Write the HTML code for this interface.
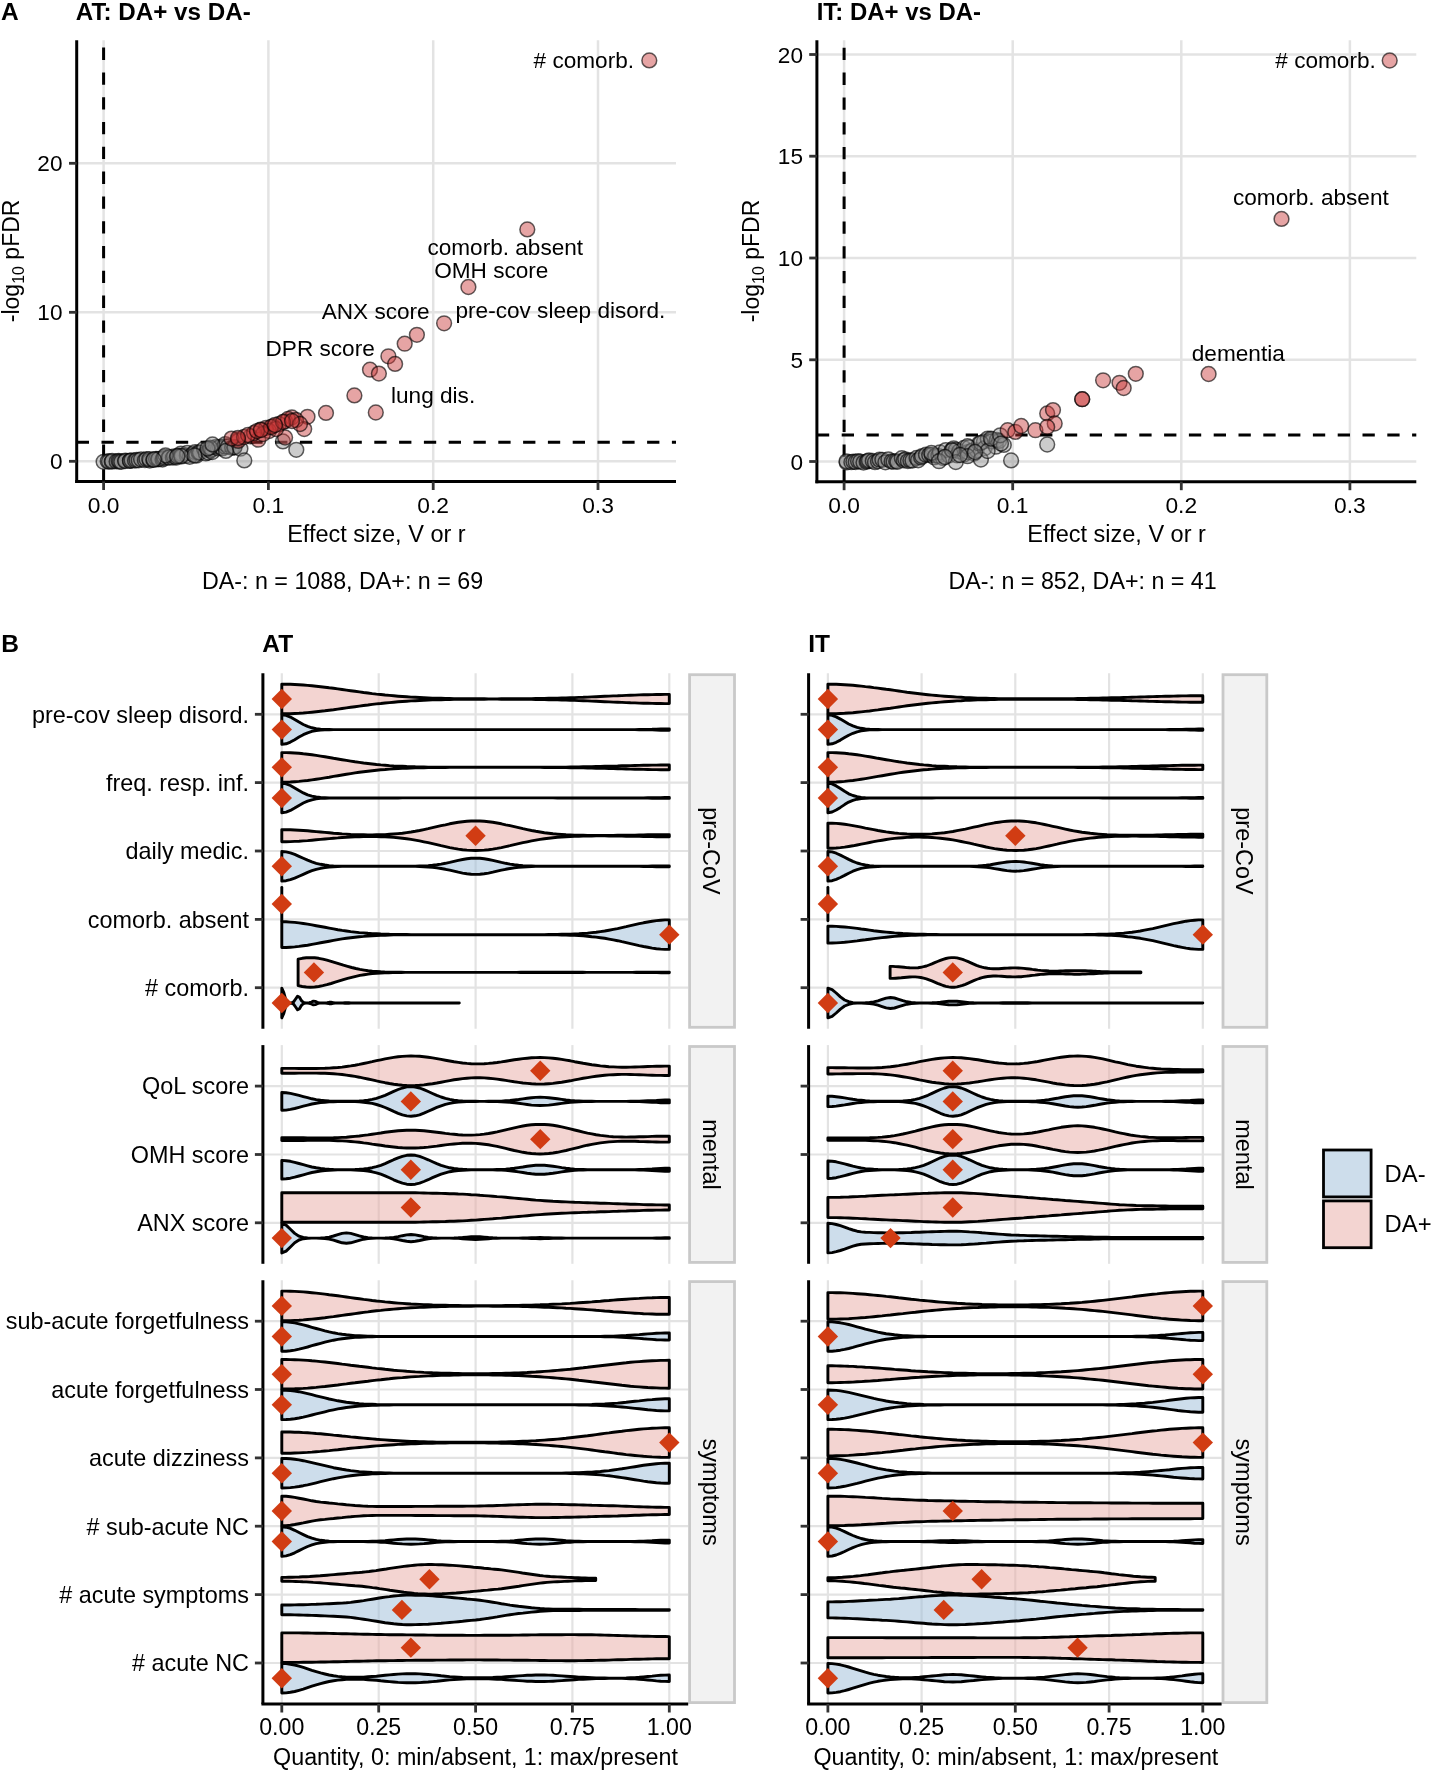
<!DOCTYPE html>
<html><head><meta charset="utf-8"><style>
html,body{margin:0;padding:0;background:#fff;width:1431px;height:1772px;overflow:hidden}
svg{display:block;will-change:transform}
text{font-family:"Liberation Sans", sans-serif;fill:#000}
</style></head><body>
<svg width="1431" height="1772" viewBox="0 0 1431 1772">
<rect width="1431" height="1772" fill="#fff"/>
<line x1="103.6" y1="40.3" x2="103.6" y2="481.5" stroke="#e3e3e3" stroke-width="2.5"/>
<line x1="268.4" y1="40.3" x2="268.4" y2="481.5" stroke="#e3e3e3" stroke-width="2.5"/>
<line x1="433.2" y1="40.3" x2="433.2" y2="481.5" stroke="#e3e3e3" stroke-width="2.5"/>
<line x1="598.0" y1="40.3" x2="598.0" y2="481.5" stroke="#e3e3e3" stroke-width="2.5"/>
<line x1="76.7" y1="461.3" x2="676" y2="461.3" stroke="#e3e3e3" stroke-width="2.4"/>
<line x1="76.7" y1="312.3" x2="676" y2="312.3" stroke="#e3e3e3" stroke-width="2.4"/>
<line x1="76.7" y1="163.3" x2="676" y2="163.3" stroke="#e3e3e3" stroke-width="2.4"/>
<line x1="103.6" y1="481.5" x2="103.6" y2="40.3" stroke="#000" stroke-width="3" stroke-dasharray="12.3 12.5"/>
<line x1="76.7" y1="442.3" x2="676" y2="442.3" stroke="#000" stroke-width="3" stroke-dasharray="12.3 12.5"/>
<circle cx="103.6" cy="461.8" r="7.4" fill="#8e8e8e" fill-opacity="0.45" stroke="#000" stroke-opacity="0.62" stroke-width="1.5"/>
<circle cx="107.7" cy="461.3" r="7.4" fill="#8e8e8e" fill-opacity="0.45" stroke="#000" stroke-opacity="0.62" stroke-width="1.5"/>
<circle cx="109.0" cy="461.5" r="7.4" fill="#8e8e8e" fill-opacity="0.45" stroke="#000" stroke-opacity="0.62" stroke-width="1.5"/>
<circle cx="111.7" cy="461.7" r="7.4" fill="#8e8e8e" fill-opacity="0.45" stroke="#000" stroke-opacity="0.62" stroke-width="1.5"/>
<circle cx="112.2" cy="461.0" r="7.4" fill="#8e8e8e" fill-opacity="0.45" stroke="#000" stroke-opacity="0.62" stroke-width="1.5"/>
<circle cx="116.6" cy="461.4" r="7.4" fill="#8e8e8e" fill-opacity="0.45" stroke="#000" stroke-opacity="0.62" stroke-width="1.5"/>
<circle cx="118.6" cy="460.9" r="7.4" fill="#8e8e8e" fill-opacity="0.45" stroke="#000" stroke-opacity="0.62" stroke-width="1.5"/>
<circle cx="119.8" cy="461.5" r="7.4" fill="#8e8e8e" fill-opacity="0.45" stroke="#000" stroke-opacity="0.62" stroke-width="1.5"/>
<circle cx="121.3" cy="461.8" r="7.4" fill="#8e8e8e" fill-opacity="0.45" stroke="#000" stroke-opacity="0.62" stroke-width="1.5"/>
<circle cx="125.5" cy="460.6" r="7.4" fill="#8e8e8e" fill-opacity="0.45" stroke="#000" stroke-opacity="0.62" stroke-width="1.5"/>
<circle cx="125.1" cy="461.1" r="7.4" fill="#8e8e8e" fill-opacity="0.45" stroke="#000" stroke-opacity="0.62" stroke-width="1.5"/>
<circle cx="130.0" cy="460.8" r="7.4" fill="#8e8e8e" fill-opacity="0.45" stroke="#000" stroke-opacity="0.62" stroke-width="1.5"/>
<circle cx="130.0" cy="460.8" r="7.4" fill="#8e8e8e" fill-opacity="0.45" stroke="#000" stroke-opacity="0.62" stroke-width="1.5"/>
<circle cx="131.6" cy="460.3" r="7.4" fill="#8e8e8e" fill-opacity="0.45" stroke="#000" stroke-opacity="0.62" stroke-width="1.5"/>
<circle cx="135.0" cy="460.6" r="7.4" fill="#8e8e8e" fill-opacity="0.45" stroke="#000" stroke-opacity="0.62" stroke-width="1.5"/>
<circle cx="136.6" cy="460.0" r="7.4" fill="#8e8e8e" fill-opacity="0.45" stroke="#000" stroke-opacity="0.62" stroke-width="1.5"/>
<circle cx="138.7" cy="460.3" r="7.4" fill="#8e8e8e" fill-opacity="0.45" stroke="#000" stroke-opacity="0.62" stroke-width="1.5"/>
<circle cx="141.1" cy="459.3" r="7.4" fill="#8e8e8e" fill-opacity="0.45" stroke="#000" stroke-opacity="0.62" stroke-width="1.5"/>
<circle cx="144.9" cy="460.2" r="7.4" fill="#8e8e8e" fill-opacity="0.45" stroke="#000" stroke-opacity="0.62" stroke-width="1.5"/>
<circle cx="146.5" cy="459.2" r="7.4" fill="#8e8e8e" fill-opacity="0.45" stroke="#000" stroke-opacity="0.62" stroke-width="1.5"/>
<circle cx="149.8" cy="460.6" r="7.4" fill="#8e8e8e" fill-opacity="0.45" stroke="#000" stroke-opacity="0.62" stroke-width="1.5"/>
<circle cx="149.3" cy="459.1" r="7.4" fill="#8e8e8e" fill-opacity="0.45" stroke="#000" stroke-opacity="0.62" stroke-width="1.5"/>
<circle cx="153.3" cy="459.9" r="7.4" fill="#8e8e8e" fill-opacity="0.45" stroke="#000" stroke-opacity="0.62" stroke-width="1.5"/>
<circle cx="156.1" cy="458.9" r="7.4" fill="#8e8e8e" fill-opacity="0.45" stroke="#000" stroke-opacity="0.62" stroke-width="1.5"/>
<circle cx="158.0" cy="459.4" r="7.4" fill="#8e8e8e" fill-opacity="0.45" stroke="#000" stroke-opacity="0.62" stroke-width="1.5"/>
<circle cx="158.6" cy="458.9" r="7.4" fill="#8e8e8e" fill-opacity="0.45" stroke="#000" stroke-opacity="0.62" stroke-width="1.5"/>
<circle cx="162.5" cy="459.5" r="7.4" fill="#8e8e8e" fill-opacity="0.45" stroke="#000" stroke-opacity="0.62" stroke-width="1.5"/>
<circle cx="163.6" cy="458.4" r="7.4" fill="#8e8e8e" fill-opacity="0.45" stroke="#000" stroke-opacity="0.62" stroke-width="1.5"/>
<circle cx="164.3" cy="457.0" r="7.4" fill="#8e8e8e" fill-opacity="0.45" stroke="#000" stroke-opacity="0.62" stroke-width="1.5"/>
<circle cx="168.8" cy="457.3" r="7.4" fill="#8e8e8e" fill-opacity="0.45" stroke="#000" stroke-opacity="0.62" stroke-width="1.5"/>
<circle cx="169.1" cy="457.5" r="7.4" fill="#8e8e8e" fill-opacity="0.45" stroke="#000" stroke-opacity="0.62" stroke-width="1.5"/>
<circle cx="172.9" cy="457.7" r="7.4" fill="#8e8e8e" fill-opacity="0.45" stroke="#000" stroke-opacity="0.62" stroke-width="1.5"/>
<circle cx="174.1" cy="456.5" r="7.4" fill="#8e8e8e" fill-opacity="0.45" stroke="#000" stroke-opacity="0.62" stroke-width="1.5"/>
<circle cx="176.6" cy="457.6" r="7.4" fill="#8e8e8e" fill-opacity="0.45" stroke="#000" stroke-opacity="0.62" stroke-width="1.5"/>
<circle cx="178.9" cy="455.6" r="7.4" fill="#8e8e8e" fill-opacity="0.45" stroke="#000" stroke-opacity="0.62" stroke-width="1.5"/>
<circle cx="180.9" cy="453.6" r="7.4" fill="#8e8e8e" fill-opacity="0.45" stroke="#000" stroke-opacity="0.62" stroke-width="1.5"/>
<circle cx="181.8" cy="456.4" r="7.4" fill="#8e8e8e" fill-opacity="0.45" stroke="#000" stroke-opacity="0.62" stroke-width="1.5"/>
<circle cx="186.8" cy="455.5" r="7.4" fill="#8e8e8e" fill-opacity="0.45" stroke="#000" stroke-opacity="0.62" stroke-width="1.5"/>
<circle cx="187.2" cy="453.0" r="7.4" fill="#8e8e8e" fill-opacity="0.45" stroke="#000" stroke-opacity="0.62" stroke-width="1.5"/>
<circle cx="189.7" cy="456.8" r="7.4" fill="#8e8e8e" fill-opacity="0.45" stroke="#000" stroke-opacity="0.62" stroke-width="1.5"/>
<circle cx="192.7" cy="454.1" r="7.4" fill="#8e8e8e" fill-opacity="0.45" stroke="#000" stroke-opacity="0.62" stroke-width="1.5"/>
<circle cx="195.1" cy="452.1" r="7.4" fill="#8e8e8e" fill-opacity="0.45" stroke="#000" stroke-opacity="0.62" stroke-width="1.5"/>
<circle cx="196.3" cy="455.7" r="7.4" fill="#8e8e8e" fill-opacity="0.45" stroke="#000" stroke-opacity="0.62" stroke-width="1.5"/>
<circle cx="198.6" cy="452.5" r="7.4" fill="#8e8e8e" fill-opacity="0.45" stroke="#000" stroke-opacity="0.62" stroke-width="1.5"/>
<circle cx="199.9" cy="452.6" r="7.4" fill="#8e8e8e" fill-opacity="0.45" stroke="#000" stroke-opacity="0.62" stroke-width="1.5"/>
<circle cx="204.1" cy="448.8" r="7.4" fill="#8e8e8e" fill-opacity="0.45" stroke="#000" stroke-opacity="0.62" stroke-width="1.5"/>
<circle cx="205.8" cy="453.4" r="7.4" fill="#8e8e8e" fill-opacity="0.45" stroke="#000" stroke-opacity="0.62" stroke-width="1.5"/>
<circle cx="208.3" cy="452.5" r="7.4" fill="#8e8e8e" fill-opacity="0.45" stroke="#000" stroke-opacity="0.62" stroke-width="1.5"/>
<circle cx="210.2" cy="450.6" r="7.4" fill="#8e8e8e" fill-opacity="0.45" stroke="#000" stroke-opacity="0.62" stroke-width="1.5"/>
<circle cx="211.7" cy="449.5" r="7.4" fill="#8e8e8e" fill-opacity="0.45" stroke="#000" stroke-opacity="0.62" stroke-width="1.5"/>
<circle cx="212.3" cy="452.1" r="7.4" fill="#8e8e8e" fill-opacity="0.45" stroke="#000" stroke-opacity="0.62" stroke-width="1.5"/>
<circle cx="216.1" cy="446.8" r="7.4" fill="#8e8e8e" fill-opacity="0.45" stroke="#000" stroke-opacity="0.62" stroke-width="1.5"/>
<circle cx="218.0" cy="448.4" r="7.4" fill="#8e8e8e" fill-opacity="0.45" stroke="#000" stroke-opacity="0.62" stroke-width="1.5"/>
<circle cx="219.8" cy="446.8" r="7.4" fill="#8e8e8e" fill-opacity="0.45" stroke="#000" stroke-opacity="0.62" stroke-width="1.5"/>
<circle cx="222.5" cy="448.4" r="7.4" fill="#8e8e8e" fill-opacity="0.45" stroke="#000" stroke-opacity="0.62" stroke-width="1.5"/>
<circle cx="224.9" cy="446.5" r="7.4" fill="#8e8e8e" fill-opacity="0.45" stroke="#000" stroke-opacity="0.62" stroke-width="1.5"/>
<circle cx="225.3" cy="444.1" r="7.4" fill="#8e8e8e" fill-opacity="0.45" stroke="#000" stroke-opacity="0.62" stroke-width="1.5"/>
<circle cx="228.0" cy="446.5" r="7.4" fill="#8e8e8e" fill-opacity="0.45" stroke="#000" stroke-opacity="0.62" stroke-width="1.5"/>
<circle cx="232.2" cy="447.8" r="7.4" fill="#8e8e8e" fill-opacity="0.45" stroke="#000" stroke-opacity="0.62" stroke-width="1.5"/>
<circle cx="234.2" cy="447.4" r="7.4" fill="#8e8e8e" fill-opacity="0.45" stroke="#000" stroke-opacity="0.62" stroke-width="1.5"/>
<circle cx="234.7" cy="447.1" r="7.4" fill="#8e8e8e" fill-opacity="0.45" stroke="#000" stroke-opacity="0.62" stroke-width="1.5"/>
<circle cx="238.2" cy="439.5" r="7.4" fill="#c83636" fill-opacity="0.45" stroke="#000" stroke-opacity="0.62" stroke-width="1.5"/>
<circle cx="181.1" cy="456.0" r="7.4" fill="#8e8e8e" fill-opacity="0.45" stroke="#000" stroke-opacity="0.62" stroke-width="1.5"/>
<circle cx="194.5" cy="455.4" r="7.4" fill="#8e8e8e" fill-opacity="0.45" stroke="#000" stroke-opacity="0.62" stroke-width="1.5"/>
<circle cx="210.2" cy="447.6" r="7.4" fill="#8e8e8e" fill-opacity="0.45" stroke="#000" stroke-opacity="0.62" stroke-width="1.5"/>
<circle cx="225.9" cy="450.9" r="7.4" fill="#8e8e8e" fill-opacity="0.45" stroke="#000" stroke-opacity="0.62" stroke-width="1.5"/>
<circle cx="240.4" cy="448.7" r="7.4" fill="#8e8e8e" fill-opacity="0.45" stroke="#000" stroke-opacity="0.62" stroke-width="1.5"/>
<circle cx="244.3" cy="460.4" r="7.4" fill="#8e8e8e" fill-opacity="0.45" stroke="#000" stroke-opacity="0.62" stroke-width="1.5"/>
<circle cx="296.3" cy="449.8" r="7.4" fill="#8e8e8e" fill-opacity="0.45" stroke="#000" stroke-opacity="0.62" stroke-width="1.5"/>
<circle cx="282.9" cy="441.4" r="7.4" fill="#8e8e8e" fill-opacity="0.45" stroke="#000" stroke-opacity="0.62" stroke-width="1.5"/>
<circle cx="207.5" cy="448.6" r="7.4" fill="#8e8e8e" fill-opacity="0.45" stroke="#000" stroke-opacity="0.62" stroke-width="1.5"/>
<circle cx="212.5" cy="444.4" r="7.4" fill="#8e8e8e" fill-opacity="0.45" stroke="#000" stroke-opacity="0.62" stroke-width="1.5"/>
<circle cx="165.5" cy="455.3" r="7.4" fill="#8e8e8e" fill-opacity="0.45" stroke="#000" stroke-opacity="0.62" stroke-width="1.5"/>
<circle cx="177.3" cy="456.2" r="7.4" fill="#8e8e8e" fill-opacity="0.45" stroke="#000" stroke-opacity="0.62" stroke-width="1.5"/>
<circle cx="153.8" cy="459.5" r="7.4" fill="#8e8e8e" fill-opacity="0.45" stroke="#000" stroke-opacity="0.62" stroke-width="1.5"/>
<circle cx="326.0" cy="412.9" r="7.4" fill="#c83636" fill-opacity="0.45" stroke="#000" stroke-opacity="0.62" stroke-width="1.5"/>
<circle cx="307.5" cy="416.8" r="7.4" fill="#c83636" fill-opacity="0.45" stroke="#000" stroke-opacity="0.62" stroke-width="1.5"/>
<circle cx="304.2" cy="429.1" r="7.4" fill="#c83636" fill-opacity="0.45" stroke="#000" stroke-opacity="0.62" stroke-width="1.5"/>
<circle cx="291.9" cy="417.4" r="7.4" fill="#c83636" fill-opacity="0.45" stroke="#000" stroke-opacity="0.62" stroke-width="1.5"/>
<circle cx="285.1" cy="421.3" r="7.4" fill="#c83636" fill-opacity="0.45" stroke="#000" stroke-opacity="0.62" stroke-width="1.5"/>
<circle cx="272.8" cy="426.3" r="7.4" fill="#c83636" fill-opacity="0.45" stroke="#000" stroke-opacity="0.62" stroke-width="1.5"/>
<circle cx="260.5" cy="429.7" r="7.4" fill="#c83636" fill-opacity="0.45" stroke="#000" stroke-opacity="0.62" stroke-width="1.5"/>
<circle cx="250.5" cy="436.4" r="7.4" fill="#c83636" fill-opacity="0.45" stroke="#000" stroke-opacity="0.62" stroke-width="1.5"/>
<circle cx="238.2" cy="440.9" r="7.4" fill="#c83636" fill-opacity="0.45" stroke="#000" stroke-opacity="0.62" stroke-width="1.5"/>
<circle cx="231.5" cy="438.6" r="7.4" fill="#c83636" fill-opacity="0.45" stroke="#000" stroke-opacity="0.62" stroke-width="1.5"/>
<circle cx="258.3" cy="439.7" r="7.4" fill="#c83636" fill-opacity="0.45" stroke="#000" stroke-opacity="0.62" stroke-width="1.5"/>
<circle cx="285.1" cy="437.5" r="7.4" fill="#c83636" fill-opacity="0.45" stroke="#000" stroke-opacity="0.62" stroke-width="1.5"/>
<circle cx="266.0" cy="428.0" r="7.4" fill="#c83636" fill-opacity="0.45" stroke="#000" stroke-opacity="0.62" stroke-width="1.5"/>
<circle cx="279.0" cy="424.0" r="7.4" fill="#c83636" fill-opacity="0.45" stroke="#000" stroke-opacity="0.62" stroke-width="1.5"/>
<circle cx="244.0" cy="437.0" r="7.4" fill="#c83636" fill-opacity="0.45" stroke="#000" stroke-opacity="0.62" stroke-width="1.5"/>
<circle cx="254.0" cy="433.0" r="7.4" fill="#c83636" fill-opacity="0.45" stroke="#000" stroke-opacity="0.62" stroke-width="1.5"/>
<circle cx="288.0" cy="419.0" r="7.4" fill="#c83636" fill-opacity="0.45" stroke="#000" stroke-opacity="0.62" stroke-width="1.5"/>
<circle cx="296.0" cy="420.0" r="7.4" fill="#c83636" fill-opacity="0.45" stroke="#000" stroke-opacity="0.62" stroke-width="1.5"/>
<circle cx="300.0" cy="424.0" r="7.4" fill="#c83636" fill-opacity="0.45" stroke="#000" stroke-opacity="0.62" stroke-width="1.5"/>
<circle cx="269.0" cy="431.0" r="7.4" fill="#c83636" fill-opacity="0.45" stroke="#000" stroke-opacity="0.62" stroke-width="1.5"/>
<circle cx="276.0" cy="429.0" r="7.4" fill="#c83636" fill-opacity="0.45" stroke="#000" stroke-opacity="0.62" stroke-width="1.5"/>
<circle cx="263.0" cy="434.0" r="7.4" fill="#c83636" fill-opacity="0.45" stroke="#000" stroke-opacity="0.62" stroke-width="1.5"/>
<circle cx="248.0" cy="435.0" r="7.4" fill="#c83636" fill-opacity="0.45" stroke="#000" stroke-opacity="0.62" stroke-width="1.5"/>
<circle cx="257.0" cy="431.0" r="7.4" fill="#c83636" fill-opacity="0.45" stroke="#000" stroke-opacity="0.62" stroke-width="1.5"/>
<circle cx="271.0" cy="427.0" r="7.4" fill="#c83636" fill-opacity="0.45" stroke="#000" stroke-opacity="0.62" stroke-width="1.5"/>
<circle cx="283.0" cy="422.0" r="7.4" fill="#c83636" fill-opacity="0.45" stroke="#000" stroke-opacity="0.62" stroke-width="1.5"/>
<circle cx="292.0" cy="421.0" r="7.4" fill="#c83636" fill-opacity="0.45" stroke="#000" stroke-opacity="0.62" stroke-width="1.5"/>
<circle cx="238.0" cy="438.0" r="7.4" fill="#c83636" fill-opacity="0.45" stroke="#000" stroke-opacity="0.62" stroke-width="1.5"/>
<circle cx="261.0" cy="430.0" r="7.4" fill="#c83636" fill-opacity="0.45" stroke="#000" stroke-opacity="0.62" stroke-width="1.5"/>
<circle cx="275.0" cy="425.0" r="7.4" fill="#c83636" fill-opacity="0.45" stroke="#000" stroke-opacity="0.62" stroke-width="1.5"/>
<circle cx="649.3" cy="60.4" r="7.4" fill="#c83636" fill-opacity="0.45" stroke="#000" stroke-opacity="0.62" stroke-width="1.5"/>
<circle cx="527.3" cy="229.4" r="7.4" fill="#c83636" fill-opacity="0.45" stroke="#000" stroke-opacity="0.62" stroke-width="1.5"/>
<circle cx="468.4" cy="287.0" r="7.4" fill="#c83636" fill-opacity="0.45" stroke="#000" stroke-opacity="0.62" stroke-width="1.5"/>
<circle cx="444.1" cy="323.3" r="7.4" fill="#c83636" fill-opacity="0.45" stroke="#000" stroke-opacity="0.62" stroke-width="1.5"/>
<circle cx="416.9" cy="334.8" r="7.4" fill="#c83636" fill-opacity="0.45" stroke="#000" stroke-opacity="0.62" stroke-width="1.5"/>
<circle cx="404.7" cy="343.7" r="7.4" fill="#c83636" fill-opacity="0.45" stroke="#000" stroke-opacity="0.62" stroke-width="1.5"/>
<circle cx="388.4" cy="356.3" r="7.4" fill="#c83636" fill-opacity="0.45" stroke="#000" stroke-opacity="0.62" stroke-width="1.5"/>
<circle cx="395.1" cy="363.9" r="7.4" fill="#c83636" fill-opacity="0.45" stroke="#000" stroke-opacity="0.62" stroke-width="1.5"/>
<circle cx="370.0" cy="369.7" r="7.4" fill="#c83636" fill-opacity="0.45" stroke="#000" stroke-opacity="0.62" stroke-width="1.5"/>
<circle cx="378.9" cy="373.6" r="7.4" fill="#c83636" fill-opacity="0.45" stroke="#000" stroke-opacity="0.62" stroke-width="1.5"/>
<circle cx="354.4" cy="395.4" r="7.4" fill="#c83636" fill-opacity="0.45" stroke="#000" stroke-opacity="0.62" stroke-width="1.5"/>
<circle cx="375.8" cy="412.5" r="7.4" fill="#c83636" fill-opacity="0.45" stroke="#000" stroke-opacity="0.62" stroke-width="1.5"/>
<text x="533.6" y="68.4" text-anchor="start" font-size="22.6" font-weight="normal" ># comorb.</text>
<text x="427.4" y="254.6" text-anchor="start" font-size="22.6" font-weight="normal" >comorb. absent</text>
<text x="434.2" y="278.0" text-anchor="start" font-size="22.6" font-weight="normal" >OMH score</text>
<text x="321.7" y="319.4" text-anchor="start" font-size="22.6" font-weight="normal" >ANX score</text>
<text x="455.5" y="317.5" text-anchor="start" font-size="22.6" font-weight="normal" >pre-cov sleep disord.</text>
<text x="265.5" y="356.3" text-anchor="start" font-size="22.6" font-weight="normal" >DPR score</text>
<text x="391.0" y="403.3" text-anchor="start" font-size="22.6" font-weight="normal" >lung dis.</text>
<line x1="76.7" y1="40.3" x2="76.7" y2="483.0" stroke="#000" stroke-width="3"/>
<line x1="75.2" y1="481.5" x2="676" y2="481.5" stroke="#000" stroke-width="3"/>
<line x1="69.0" y1="461.3" x2="76.7" y2="461.3" stroke="#333" stroke-width="2.8"/>
<text x="62.5" y="469.3" text-anchor="end" font-size="22.6" font-weight="normal" >0</text>
<line x1="69.0" y1="312.3" x2="76.7" y2="312.3" stroke="#333" stroke-width="2.8"/>
<text x="62.5" y="320.3" text-anchor="end" font-size="22.6" font-weight="normal" >10</text>
<line x1="69.0" y1="163.3" x2="76.7" y2="163.3" stroke="#333" stroke-width="2.8"/>
<text x="62.5" y="171.3" text-anchor="end" font-size="22.6" font-weight="normal" >20</text>
<line x1="103.6" y1="481.5" x2="103.6" y2="490.0" stroke="#333" stroke-width="2.8"/>
<text x="103.6" y="513.3" text-anchor="middle" font-size="22.8" font-weight="normal" >0.0</text>
<line x1="268.4" y1="481.5" x2="268.4" y2="490.0" stroke="#333" stroke-width="2.8"/>
<text x="268.4" y="513.3" text-anchor="middle" font-size="22.8" font-weight="normal" >0.1</text>
<line x1="433.2" y1="481.5" x2="433.2" y2="490.0" stroke="#333" stroke-width="2.8"/>
<text x="433.2" y="513.3" text-anchor="middle" font-size="22.8" font-weight="normal" >0.2</text>
<line x1="598.0" y1="481.5" x2="598.0" y2="490.0" stroke="#333" stroke-width="2.8"/>
<text x="598.0" y="513.3" text-anchor="middle" font-size="22.8" font-weight="normal" >0.3</text>
<text x="376.4" y="542.2" text-anchor="middle" font-size="23.5" font-weight="normal" >Effect size, V or r</text>
<text transform="translate(18.5,260.9) rotate(-90)" text-anchor="middle" font-size="23">-log<tspan font-size="16" dy="5">10</tspan><tspan dy="-5"> pFDR</tspan></text>
<text x="75.8" y="20.0" text-anchor="start" font-size="24.2" font-weight="bold" >AT: DA+ vs DA-</text>
<text x="202.0" y="588.9" text-anchor="start" font-size="23.25" font-weight="normal" >DA-: n = 1088, DA+: n = 69</text>
<line x1="844.1" y1="40.3" x2="844.1" y2="481.7" stroke="#e3e3e3" stroke-width="2.5"/>
<line x1="1012.7" y1="40.3" x2="1012.7" y2="481.7" stroke="#e3e3e3" stroke-width="2.5"/>
<line x1="1181.3" y1="40.3" x2="1181.3" y2="481.7" stroke="#e3e3e3" stroke-width="2.5"/>
<line x1="1349.9" y1="40.3" x2="1349.9" y2="481.7" stroke="#e3e3e3" stroke-width="2.5"/>
<line x1="816.9" y1="461.5" x2="1416.3" y2="461.5" stroke="#e3e3e3" stroke-width="2.4"/>
<line x1="816.9" y1="359.8" x2="1416.3" y2="359.8" stroke="#e3e3e3" stroke-width="2.4"/>
<line x1="816.9" y1="258.0" x2="1416.3" y2="258.0" stroke="#e3e3e3" stroke-width="2.4"/>
<line x1="816.9" y1="156.2" x2="1416.3" y2="156.2" stroke="#e3e3e3" stroke-width="2.4"/>
<line x1="816.9" y1="54.5" x2="1416.3" y2="54.5" stroke="#e3e3e3" stroke-width="2.4"/>
<line x1="844.1" y1="481.7" x2="844.1" y2="40.3" stroke="#000" stroke-width="3" stroke-dasharray="12.3 12.5"/>
<line x1="816.9" y1="435.0" x2="1416.3" y2="435.0" stroke="#000" stroke-width="3" stroke-dasharray="12.3 12.5"/>
<circle cx="846.7" cy="462.4" r="7.4" fill="#8e8e8e" fill-opacity="0.45" stroke="#000" stroke-opacity="0.62" stroke-width="1.5"/>
<circle cx="846.5" cy="461.3" r="7.4" fill="#8e8e8e" fill-opacity="0.45" stroke="#000" stroke-opacity="0.62" stroke-width="1.5"/>
<circle cx="851.4" cy="462.2" r="7.4" fill="#8e8e8e" fill-opacity="0.45" stroke="#000" stroke-opacity="0.62" stroke-width="1.5"/>
<circle cx="853.4" cy="461.6" r="7.4" fill="#8e8e8e" fill-opacity="0.45" stroke="#000" stroke-opacity="0.62" stroke-width="1.5"/>
<circle cx="855.7" cy="462.0" r="7.4" fill="#8e8e8e" fill-opacity="0.45" stroke="#000" stroke-opacity="0.62" stroke-width="1.5"/>
<circle cx="858.1" cy="461.2" r="7.4" fill="#8e8e8e" fill-opacity="0.45" stroke="#000" stroke-opacity="0.62" stroke-width="1.5"/>
<circle cx="860.2" cy="461.6" r="7.4" fill="#8e8e8e" fill-opacity="0.45" stroke="#000" stroke-opacity="0.62" stroke-width="1.5"/>
<circle cx="863.5" cy="462.6" r="7.4" fill="#8e8e8e" fill-opacity="0.45" stroke="#000" stroke-opacity="0.62" stroke-width="1.5"/>
<circle cx="866.7" cy="461.7" r="7.4" fill="#8e8e8e" fill-opacity="0.45" stroke="#000" stroke-opacity="0.62" stroke-width="1.5"/>
<circle cx="867.7" cy="461.1" r="7.4" fill="#8e8e8e" fill-opacity="0.45" stroke="#000" stroke-opacity="0.62" stroke-width="1.5"/>
<circle cx="869.0" cy="460.4" r="7.4" fill="#8e8e8e" fill-opacity="0.45" stroke="#000" stroke-opacity="0.62" stroke-width="1.5"/>
<circle cx="872.8" cy="460.9" r="7.4" fill="#8e8e8e" fill-opacity="0.45" stroke="#000" stroke-opacity="0.62" stroke-width="1.5"/>
<circle cx="875.0" cy="462.2" r="7.4" fill="#8e8e8e" fill-opacity="0.45" stroke="#000" stroke-opacity="0.62" stroke-width="1.5"/>
<circle cx="878.0" cy="461.3" r="7.4" fill="#8e8e8e" fill-opacity="0.45" stroke="#000" stroke-opacity="0.62" stroke-width="1.5"/>
<circle cx="879.6" cy="459.7" r="7.4" fill="#8e8e8e" fill-opacity="0.45" stroke="#000" stroke-opacity="0.62" stroke-width="1.5"/>
<circle cx="882.4" cy="459.8" r="7.4" fill="#8e8e8e" fill-opacity="0.45" stroke="#000" stroke-opacity="0.62" stroke-width="1.5"/>
<circle cx="885.4" cy="462.3" r="7.4" fill="#8e8e8e" fill-opacity="0.45" stroke="#000" stroke-opacity="0.62" stroke-width="1.5"/>
<circle cx="888.4" cy="459.5" r="7.4" fill="#8e8e8e" fill-opacity="0.45" stroke="#000" stroke-opacity="0.62" stroke-width="1.5"/>
<circle cx="891.6" cy="461.5" r="7.4" fill="#8e8e8e" fill-opacity="0.45" stroke="#000" stroke-opacity="0.62" stroke-width="1.5"/>
<circle cx="893.6" cy="461.7" r="7.4" fill="#8e8e8e" fill-opacity="0.45" stroke="#000" stroke-opacity="0.62" stroke-width="1.5"/>
<circle cx="896.2" cy="461.2" r="7.4" fill="#8e8e8e" fill-opacity="0.45" stroke="#000" stroke-opacity="0.62" stroke-width="1.5"/>
<circle cx="897.5" cy="461.8" r="7.4" fill="#8e8e8e" fill-opacity="0.45" stroke="#000" stroke-opacity="0.62" stroke-width="1.5"/>
<circle cx="901.8" cy="458.2" r="7.4" fill="#8e8e8e" fill-opacity="0.45" stroke="#000" stroke-opacity="0.62" stroke-width="1.5"/>
<circle cx="903.7" cy="460.4" r="7.4" fill="#8e8e8e" fill-opacity="0.45" stroke="#000" stroke-opacity="0.62" stroke-width="1.5"/>
<circle cx="905.3" cy="459.3" r="7.4" fill="#8e8e8e" fill-opacity="0.45" stroke="#000" stroke-opacity="0.62" stroke-width="1.5"/>
<circle cx="907.9" cy="461.0" r="7.4" fill="#8e8e8e" fill-opacity="0.45" stroke="#000" stroke-opacity="0.62" stroke-width="1.5"/>
<circle cx="910.4" cy="460.4" r="7.4" fill="#8e8e8e" fill-opacity="0.45" stroke="#000" stroke-opacity="0.62" stroke-width="1.5"/>
<circle cx="912.5" cy="460.5" r="7.4" fill="#8e8e8e" fill-opacity="0.45" stroke="#000" stroke-opacity="0.62" stroke-width="1.5"/>
<circle cx="916.6" cy="457.9" r="7.4" fill="#8e8e8e" fill-opacity="0.45" stroke="#000" stroke-opacity="0.62" stroke-width="1.5"/>
<circle cx="918.1" cy="460.3" r="7.4" fill="#8e8e8e" fill-opacity="0.45" stroke="#000" stroke-opacity="0.62" stroke-width="1.5"/>
<circle cx="921.1" cy="457.4" r="7.4" fill="#8e8e8e" fill-opacity="0.45" stroke="#000" stroke-opacity="0.62" stroke-width="1.5"/>
<circle cx="922.1" cy="456.1" r="7.4" fill="#8e8e8e" fill-opacity="0.45" stroke="#000" stroke-opacity="0.62" stroke-width="1.5"/>
<circle cx="926.0" cy="454.7" r="7.4" fill="#8e8e8e" fill-opacity="0.45" stroke="#000" stroke-opacity="0.62" stroke-width="1.5"/>
<circle cx="929.2" cy="454.9" r="7.4" fill="#8e8e8e" fill-opacity="0.45" stroke="#000" stroke-opacity="0.62" stroke-width="1.5"/>
<circle cx="931.7" cy="454.8" r="7.4" fill="#8e8e8e" fill-opacity="0.45" stroke="#000" stroke-opacity="0.62" stroke-width="1.5"/>
<circle cx="934.3" cy="457.4" r="7.4" fill="#8e8e8e" fill-opacity="0.45" stroke="#000" stroke-opacity="0.62" stroke-width="1.5"/>
<circle cx="935.5" cy="455.6" r="7.4" fill="#8e8e8e" fill-opacity="0.45" stroke="#000" stroke-opacity="0.62" stroke-width="1.5"/>
<circle cx="938.4" cy="455.8" r="7.4" fill="#8e8e8e" fill-opacity="0.45" stroke="#000" stroke-opacity="0.62" stroke-width="1.5"/>
<circle cx="939.9" cy="452.3" r="7.4" fill="#8e8e8e" fill-opacity="0.45" stroke="#000" stroke-opacity="0.62" stroke-width="1.5"/>
<circle cx="943.0" cy="458.0" r="7.4" fill="#8e8e8e" fill-opacity="0.45" stroke="#000" stroke-opacity="0.62" stroke-width="1.5"/>
<circle cx="945.8" cy="450.1" r="7.4" fill="#8e8e8e" fill-opacity="0.45" stroke="#000" stroke-opacity="0.62" stroke-width="1.5"/>
<circle cx="948.9" cy="455.5" r="7.4" fill="#8e8e8e" fill-opacity="0.45" stroke="#000" stroke-opacity="0.62" stroke-width="1.5"/>
<circle cx="951.7" cy="450.1" r="7.4" fill="#8e8e8e" fill-opacity="0.45" stroke="#000" stroke-opacity="0.62" stroke-width="1.5"/>
<circle cx="953.7" cy="448.3" r="7.4" fill="#8e8e8e" fill-opacity="0.45" stroke="#000" stroke-opacity="0.62" stroke-width="1.5"/>
<circle cx="955.9" cy="449.8" r="7.4" fill="#8e8e8e" fill-opacity="0.45" stroke="#000" stroke-opacity="0.62" stroke-width="1.5"/>
<circle cx="957.2" cy="455.4" r="7.4" fill="#8e8e8e" fill-opacity="0.45" stroke="#000" stroke-opacity="0.62" stroke-width="1.5"/>
<circle cx="959.3" cy="451.3" r="7.4" fill="#8e8e8e" fill-opacity="0.45" stroke="#000" stroke-opacity="0.62" stroke-width="1.5"/>
<circle cx="964.0" cy="447.9" r="7.4" fill="#8e8e8e" fill-opacity="0.45" stroke="#000" stroke-opacity="0.62" stroke-width="1.5"/>
<circle cx="964.6" cy="454.3" r="7.4" fill="#8e8e8e" fill-opacity="0.45" stroke="#000" stroke-opacity="0.62" stroke-width="1.5"/>
<circle cx="967.8" cy="452.1" r="7.4" fill="#8e8e8e" fill-opacity="0.45" stroke="#000" stroke-opacity="0.62" stroke-width="1.5"/>
<circle cx="969.1" cy="447.4" r="7.4" fill="#8e8e8e" fill-opacity="0.45" stroke="#000" stroke-opacity="0.62" stroke-width="1.5"/>
<circle cx="972.0" cy="450.6" r="7.4" fill="#8e8e8e" fill-opacity="0.45" stroke="#000" stroke-opacity="0.62" stroke-width="1.5"/>
<circle cx="974.2" cy="453.6" r="7.4" fill="#8e8e8e" fill-opacity="0.45" stroke="#000" stroke-opacity="0.62" stroke-width="1.5"/>
<circle cx="976.6" cy="450.3" r="7.4" fill="#8e8e8e" fill-opacity="0.45" stroke="#000" stroke-opacity="0.62" stroke-width="1.5"/>
<circle cx="979.1" cy="443.6" r="7.4" fill="#8e8e8e" fill-opacity="0.45" stroke="#000" stroke-opacity="0.62" stroke-width="1.5"/>
<circle cx="983.9" cy="441.6" r="7.4" fill="#8e8e8e" fill-opacity="0.45" stroke="#000" stroke-opacity="0.62" stroke-width="1.5"/>
<circle cx="984.6" cy="448.2" r="7.4" fill="#8e8e8e" fill-opacity="0.45" stroke="#000" stroke-opacity="0.62" stroke-width="1.5"/>
<circle cx="987.7" cy="438.6" r="7.4" fill="#8e8e8e" fill-opacity="0.45" stroke="#000" stroke-opacity="0.62" stroke-width="1.5"/>
<circle cx="992.0" cy="439.4" r="7.4" fill="#8e8e8e" fill-opacity="0.45" stroke="#000" stroke-opacity="0.62" stroke-width="1.5"/>
<circle cx="991.6" cy="441.4" r="7.4" fill="#8e8e8e" fill-opacity="0.45" stroke="#000" stroke-opacity="0.62" stroke-width="1.5"/>
<circle cx="995.9" cy="446.7" r="7.4" fill="#8e8e8e" fill-opacity="0.45" stroke="#000" stroke-opacity="0.62" stroke-width="1.5"/>
<circle cx="996.9" cy="439.9" r="7.4" fill="#8e8e8e" fill-opacity="0.45" stroke="#000" stroke-opacity="0.62" stroke-width="1.5"/>
<circle cx="999.1" cy="440.9" r="7.4" fill="#8e8e8e" fill-opacity="0.45" stroke="#000" stroke-opacity="0.62" stroke-width="1.5"/>
<circle cx="1003.8" cy="444.9" r="7.4" fill="#8e8e8e" fill-opacity="0.45" stroke="#000" stroke-opacity="0.62" stroke-width="1.5"/>
<circle cx="931.4" cy="452.9" r="7.4" fill="#8e8e8e" fill-opacity="0.45" stroke="#000" stroke-opacity="0.62" stroke-width="1.5"/>
<circle cx="939.0" cy="461.2" r="7.4" fill="#8e8e8e" fill-opacity="0.45" stroke="#000" stroke-opacity="0.62" stroke-width="1.5"/>
<circle cx="952.4" cy="450.3" r="7.4" fill="#8e8e8e" fill-opacity="0.45" stroke="#000" stroke-opacity="0.62" stroke-width="1.5"/>
<circle cx="955.8" cy="462.1" r="7.4" fill="#8e8e8e" fill-opacity="0.45" stroke="#000" stroke-opacity="0.62" stroke-width="1.5"/>
<circle cx="967.5" cy="446.2" r="7.4" fill="#8e8e8e" fill-opacity="0.45" stroke="#000" stroke-opacity="0.62" stroke-width="1.5"/>
<circle cx="967.5" cy="456.2" r="7.4" fill="#8e8e8e" fill-opacity="0.45" stroke="#000" stroke-opacity="0.62" stroke-width="1.5"/>
<circle cx="980.9" cy="442.8" r="7.4" fill="#8e8e8e" fill-opacity="0.45" stroke="#000" stroke-opacity="0.62" stroke-width="1.5"/>
<circle cx="980.9" cy="459.6" r="7.4" fill="#8e8e8e" fill-opacity="0.45" stroke="#000" stroke-opacity="0.62" stroke-width="1.5"/>
<circle cx="987.6" cy="451.0" r="7.4" fill="#8e8e8e" fill-opacity="0.45" stroke="#000" stroke-opacity="0.62" stroke-width="1.5"/>
<circle cx="991.0" cy="438.6" r="7.4" fill="#8e8e8e" fill-opacity="0.45" stroke="#000" stroke-opacity="0.62" stroke-width="1.5"/>
<circle cx="1000.2" cy="435.3" r="7.4" fill="#8e8e8e" fill-opacity="0.45" stroke="#000" stroke-opacity="0.62" stroke-width="1.5"/>
<circle cx="1001.0" cy="443.6" r="7.4" fill="#8e8e8e" fill-opacity="0.45" stroke="#000" stroke-opacity="0.62" stroke-width="1.5"/>
<circle cx="1011.1" cy="460.4" r="7.4" fill="#8e8e8e" fill-opacity="0.45" stroke="#000" stroke-opacity="0.62" stroke-width="1.5"/>
<circle cx="1047.2" cy="444.5" r="7.4" fill="#8e8e8e" fill-opacity="0.45" stroke="#000" stroke-opacity="0.62" stroke-width="1.5"/>
<circle cx="960.0" cy="455.0" r="7.4" fill="#8e8e8e" fill-opacity="0.45" stroke="#000" stroke-opacity="0.62" stroke-width="1.5"/>
<circle cx="975.0" cy="452.0" r="7.4" fill="#8e8e8e" fill-opacity="0.45" stroke="#000" stroke-opacity="0.62" stroke-width="1.5"/>
<circle cx="945.0" cy="457.0" r="7.4" fill="#8e8e8e" fill-opacity="0.45" stroke="#000" stroke-opacity="0.62" stroke-width="1.5"/>
<circle cx="1007.7" cy="430.2" r="7.4" fill="#c83636" fill-opacity="0.45" stroke="#000" stroke-opacity="0.62" stroke-width="1.5"/>
<circle cx="1015.3" cy="431.9" r="7.4" fill="#c83636" fill-opacity="0.45" stroke="#000" stroke-opacity="0.62" stroke-width="1.5"/>
<circle cx="1021.2" cy="426.0" r="7.4" fill="#c83636" fill-opacity="0.45" stroke="#000" stroke-opacity="0.62" stroke-width="1.5"/>
<circle cx="1035.4" cy="430.2" r="7.4" fill="#c83636" fill-opacity="0.45" stroke="#000" stroke-opacity="0.62" stroke-width="1.5"/>
<circle cx="1047.2" cy="413.4" r="7.4" fill="#c83636" fill-opacity="0.45" stroke="#000" stroke-opacity="0.62" stroke-width="1.5"/>
<circle cx="1053.0" cy="410.1" r="7.4" fill="#c83636" fill-opacity="0.45" stroke="#000" stroke-opacity="0.62" stroke-width="1.5"/>
<circle cx="1054.7" cy="423.5" r="7.4" fill="#c83636" fill-opacity="0.45" stroke="#000" stroke-opacity="0.62" stroke-width="1.5"/>
<circle cx="1047.2" cy="426.9" r="7.4" fill="#c83636" fill-opacity="0.45" stroke="#000" stroke-opacity="0.62" stroke-width="1.5"/>
<circle cx="1082.2" cy="399.2" r="7.4" fill="#c83636" fill-opacity="0.45" stroke="#000" stroke-opacity="0.62" stroke-width="1.5"/>
<circle cx="1082.2" cy="399.2" r="7.4" fill="#c83636" fill-opacity="0.45" stroke="#000" stroke-opacity="0.62" stroke-width="1.5"/>
<circle cx="1103.1" cy="380.3" r="7.4" fill="#c83636" fill-opacity="0.45" stroke="#000" stroke-opacity="0.62" stroke-width="1.5"/>
<circle cx="1119.5" cy="382.8" r="7.4" fill="#c83636" fill-opacity="0.45" stroke="#000" stroke-opacity="0.62" stroke-width="1.5"/>
<circle cx="1123.7" cy="388.0" r="7.4" fill="#c83636" fill-opacity="0.45" stroke="#000" stroke-opacity="0.62" stroke-width="1.5"/>
<circle cx="1135.8" cy="373.8" r="7.4" fill="#c83636" fill-opacity="0.45" stroke="#000" stroke-opacity="0.62" stroke-width="1.5"/>
<circle cx="1208.6" cy="374.0" r="7.4" fill="#c83636" fill-opacity="0.45" stroke="#000" stroke-opacity="0.62" stroke-width="1.5"/>
<circle cx="1281.5" cy="218.9" r="7.4" fill="#c83636" fill-opacity="0.45" stroke="#000" stroke-opacity="0.62" stroke-width="1.5"/>
<circle cx="1389.7" cy="60.5" r="7.4" fill="#c83636" fill-opacity="0.45" stroke="#000" stroke-opacity="0.62" stroke-width="1.5"/>
<text x="1275.3" y="67.7" text-anchor="start" font-size="22.6" font-weight="normal" ># comorb.</text>
<text x="1233.0" y="205.2" text-anchor="start" font-size="22.6" font-weight="normal" >comorb. absent</text>
<text x="1191.8" y="360.8" text-anchor="start" font-size="22.6" font-weight="normal" >dementia</text>
<line x1="816.9" y1="40.3" x2="816.9" y2="483.2" stroke="#000" stroke-width="3"/>
<line x1="815.4" y1="481.7" x2="1416.3" y2="481.7" stroke="#000" stroke-width="3"/>
<line x1="809.1999999999999" y1="461.5" x2="816.9" y2="461.5" stroke="#333" stroke-width="2.8"/>
<text x="803.0" y="469.5" text-anchor="end" font-size="22.6" font-weight="normal" >0</text>
<line x1="809.1999999999999" y1="359.8" x2="816.9" y2="359.8" stroke="#333" stroke-width="2.8"/>
<text x="803.0" y="367.8" text-anchor="end" font-size="22.6" font-weight="normal" >5</text>
<line x1="809.1999999999999" y1="258.0" x2="816.9" y2="258.0" stroke="#333" stroke-width="2.8"/>
<text x="803.0" y="266.0" text-anchor="end" font-size="22.6" font-weight="normal" >10</text>
<line x1="809.1999999999999" y1="156.2" x2="816.9" y2="156.2" stroke="#333" stroke-width="2.8"/>
<text x="803.0" y="164.2" text-anchor="end" font-size="22.6" font-weight="normal" >15</text>
<line x1="809.1999999999999" y1="54.5" x2="816.9" y2="54.5" stroke="#333" stroke-width="2.8"/>
<text x="803.0" y="62.5" text-anchor="end" font-size="22.6" font-weight="normal" >20</text>
<line x1="844.1" y1="481.7" x2="844.1" y2="490.2" stroke="#333" stroke-width="2.8"/>
<text x="844.1" y="513.3" text-anchor="middle" font-size="22.8" font-weight="normal" >0.0</text>
<line x1="1012.7" y1="481.7" x2="1012.7" y2="490.2" stroke="#333" stroke-width="2.8"/>
<text x="1012.7" y="513.3" text-anchor="middle" font-size="22.8" font-weight="normal" >0.1</text>
<line x1="1181.3" y1="481.7" x2="1181.3" y2="490.2" stroke="#333" stroke-width="2.8"/>
<text x="1181.3" y="513.3" text-anchor="middle" font-size="22.8" font-weight="normal" >0.2</text>
<line x1="1349.9" y1="481.7" x2="1349.9" y2="490.2" stroke="#333" stroke-width="2.8"/>
<text x="1349.9" y="513.3" text-anchor="middle" font-size="22.8" font-weight="normal" >0.3</text>
<text x="1116.6" y="542.2" text-anchor="middle" font-size="23.5" font-weight="normal" >Effect size, V or r</text>
<text transform="translate(759,261.0) rotate(-90)" text-anchor="middle" font-size="23">-log<tspan font-size="16" dy="5">10</tspan><tspan dy="-5"> pFDR</tspan></text>
<text x="816.7" y="20.0" text-anchor="start" font-size="23.95" font-weight="bold" >IT: DA+ vs DA-</text>
<text x="948.5" y="588.9" text-anchor="start" font-size="23.25" font-weight="normal" >DA-: n = 852, DA+: n = 41</text>
<text x="1.0" y="20.0" text-anchor="start" font-size="24.5" font-weight="bold" >A</text>
<line x1="281.8" y1="673.3" x2="281.8" y2="1028.7" stroke="#e3e3e3" stroke-width="2.2"/>
<line x1="378.7" y1="673.3" x2="378.7" y2="1028.7" stroke="#e3e3e3" stroke-width="2.2"/>
<line x1="475.6" y1="673.3" x2="475.6" y2="1028.7" stroke="#e3e3e3" stroke-width="2.2"/>
<line x1="572.4" y1="673.3" x2="572.4" y2="1028.7" stroke="#e3e3e3" stroke-width="2.2"/>
<line x1="669.3" y1="673.3" x2="669.3" y2="1028.7" stroke="#e3e3e3" stroke-width="2.2"/>
<line x1="262.9" y1="714.3" x2="688.2" y2="714.3" stroke="#e3e3e3" stroke-width="2.2"/>
<line x1="262.9" y1="782.6" x2="688.2" y2="782.6" stroke="#e3e3e3" stroke-width="2.2"/>
<line x1="262.9" y1="851.0" x2="688.2" y2="851.0" stroke="#e3e3e3" stroke-width="2.2"/>
<line x1="262.9" y1="919.4" x2="688.2" y2="919.4" stroke="#e3e3e3" stroke-width="2.2"/>
<line x1="262.9" y1="987.7" x2="688.2" y2="987.7" stroke="#e3e3e3" stroke-width="2.2"/>
<line x1="281.8" y1="1045.1" x2="281.8" y2="1263.8" stroke="#e3e3e3" stroke-width="2.2"/>
<line x1="378.7" y1="1045.1" x2="378.7" y2="1263.8" stroke="#e3e3e3" stroke-width="2.2"/>
<line x1="475.6" y1="1045.1" x2="475.6" y2="1263.8" stroke="#e3e3e3" stroke-width="2.2"/>
<line x1="572.4" y1="1045.1" x2="572.4" y2="1263.8" stroke="#e3e3e3" stroke-width="2.2"/>
<line x1="669.3" y1="1045.1" x2="669.3" y2="1263.8" stroke="#e3e3e3" stroke-width="2.2"/>
<line x1="262.9" y1="1086.1" x2="688.2" y2="1086.1" stroke="#e3e3e3" stroke-width="2.2"/>
<line x1="262.9" y1="1154.5" x2="688.2" y2="1154.5" stroke="#e3e3e3" stroke-width="2.2"/>
<line x1="262.9" y1="1222.8" x2="688.2" y2="1222.8" stroke="#e3e3e3" stroke-width="2.2"/>
<line x1="281.8" y1="1280.2" x2="281.8" y2="1704.0" stroke="#e3e3e3" stroke-width="2.2"/>
<line x1="378.7" y1="1280.2" x2="378.7" y2="1704.0" stroke="#e3e3e3" stroke-width="2.2"/>
<line x1="475.6" y1="1280.2" x2="475.6" y2="1704.0" stroke="#e3e3e3" stroke-width="2.2"/>
<line x1="572.4" y1="1280.2" x2="572.4" y2="1704.0" stroke="#e3e3e3" stroke-width="2.2"/>
<line x1="669.3" y1="1280.2" x2="669.3" y2="1704.0" stroke="#e3e3e3" stroke-width="2.2"/>
<line x1="262.9" y1="1321.2" x2="688.2" y2="1321.2" stroke="#e3e3e3" stroke-width="2.2"/>
<line x1="262.9" y1="1389.5" x2="688.2" y2="1389.5" stroke="#e3e3e3" stroke-width="2.2"/>
<line x1="262.9" y1="1457.9" x2="688.2" y2="1457.9" stroke="#e3e3e3" stroke-width="2.2"/>
<line x1="262.9" y1="1526.2" x2="688.2" y2="1526.2" stroke="#e3e3e3" stroke-width="2.2"/>
<line x1="262.9" y1="1594.6" x2="688.2" y2="1594.6" stroke="#e3e3e3" stroke-width="2.2"/>
<line x1="262.9" y1="1663.0" x2="688.2" y2="1663.0" stroke="#e3e3e3" stroke-width="2.2"/>
<path d="M281.8,684.2 L286.1,684.2 L290.4,684.3 L294.7,684.5 L299.0,684.7 L303.3,685.0 L307.6,685.4 L311.9,685.8 L316.2,686.2 L320.6,686.7 L324.9,687.2 L329.2,687.8 L333.5,688.3 L337.8,688.9 L342.1,689.5 L346.4,690.1 L350.7,690.7 L355.0,691.3 L359.3,691.9 L363.6,692.5 L367.9,693.0 L372.2,693.6 L376.5,694.1 L380.8,694.5 L385.1,695.0 L389.4,695.4 L393.7,695.8 L398.1,696.2 L402.4,696.5 L406.7,696.8 L411.0,697.1 L415.3,697.3 L419.6,697.5 L423.9,697.7 L428.2,697.9 L432.5,698.1 L436.8,698.2 L441.1,698.3 L445.4,698.4 L449.7,698.5 L454.0,698.6 L458.3,698.7 L462.6,698.7 L466.9,698.8 L471.2,698.8 L475.6,698.8 L479.9,698.8 L484.2,698.8 L488.5,698.9 L492.8,698.9 L497.1,698.9 L501.4,698.8 L505.7,698.8 L510.0,698.8 L514.3,698.8 L518.6,698.7 L522.9,698.7 L527.2,698.7 L531.5,698.6 L535.8,698.5 L540.1,698.5 L544.4,698.4 L548.7,698.3 L553.0,698.2 L557.4,698.1 L561.7,698.0 L566.0,697.9 L570.3,697.7 L574.6,697.6 L578.9,697.4 L583.2,697.3 L587.5,697.1 L591.8,696.9 L596.1,696.7 L600.4,696.5 L604.7,696.3 L609.0,696.1 L613.3,695.9 L617.6,695.8 L621.9,695.6 L626.2,695.4 L630.5,695.2 L634.9,695.1 L639.2,694.9 L643.5,694.8 L647.8,694.7 L652.1,694.6 L656.4,694.5 L660.7,694.5 L665.0,694.4 L669.3,694.4 L669.3,703.6 L665.0,703.6 L660.7,703.5 L656.4,703.5 L652.1,703.4 L647.8,703.3 L643.5,703.2 L639.2,703.1 L634.9,702.9 L630.5,702.8 L626.2,702.6 L621.9,702.4 L617.6,702.2 L613.3,702.1 L609.0,701.9 L604.7,701.7 L600.4,701.5 L596.1,701.3 L591.8,701.1 L587.5,700.9 L583.2,700.7 L578.9,700.6 L574.6,700.4 L570.3,700.3 L566.0,700.1 L561.7,700.0 L557.4,699.9 L553.0,699.8 L548.7,699.7 L544.4,699.6 L540.1,699.5 L535.8,699.5 L531.5,699.4 L527.2,699.3 L522.9,699.3 L518.6,699.3 L514.3,699.2 L510.0,699.2 L505.7,699.2 L501.4,699.2 L497.1,699.1 L492.8,699.1 L488.5,699.1 L484.2,699.2 L479.9,699.2 L475.6,699.2 L471.2,699.2 L466.9,699.2 L462.6,699.3 L458.3,699.3 L454.0,699.4 L449.7,699.5 L445.4,699.6 L441.1,699.7 L436.8,699.8 L432.5,699.9 L428.2,700.1 L423.9,700.3 L419.6,700.5 L415.3,700.7 L411.0,700.9 L406.7,701.2 L402.4,701.5 L398.1,701.8 L393.7,702.2 L389.4,702.6 L385.1,703.0 L380.8,703.5 L376.5,703.9 L372.2,704.4 L367.9,705.0 L363.6,705.5 L359.3,706.1 L355.0,706.7 L350.7,707.3 L346.4,707.9 L342.1,708.5 L337.8,709.1 L333.5,709.7 L329.2,710.2 L324.9,710.8 L320.6,711.3 L316.2,711.8 L311.9,712.2 L307.6,712.6 L303.3,713.0 L299.0,713.3 L294.7,713.5 L290.4,713.7 L286.1,713.8 L281.8,713.8 Z" fill="#e8a9a3" fill-opacity="0.5" stroke="#000" stroke-width="2.9" stroke-linejoin="round"/>
<path d="M281.8,714.8 L286.1,715.4 L290.4,717.1 L294.7,719.5 L299.0,722.1 L303.3,724.5 L307.6,726.4 L311.9,727.8 L316.2,728.6 L320.6,729.1 L324.9,729.4 L329.2,729.5 L333.5,729.6 L337.8,729.6 L342.1,729.6 L346.4,729.6 L350.7,729.6 L355.0,729.6 L359.3,729.6 L363.6,729.6 L367.9,729.6 L372.2,729.6 L376.5,729.6 L380.8,729.6 L385.1,729.6 L389.4,729.6 L393.7,729.6 L398.1,729.6 L402.4,729.6 L406.7,729.6 L411.0,729.6 L415.3,729.6 L419.6,729.6 L423.9,729.6 L428.2,729.6 L432.5,729.6 L436.8,729.6 L441.1,729.6 L445.4,729.6 L449.7,729.6 L454.0,729.6 L458.3,729.6 L462.6,729.6 L466.9,729.6 L471.2,729.6 L475.6,729.6 L479.9,729.6 L484.2,729.6 L488.5,729.6 L492.8,729.6 L497.1,729.6 L501.4,729.6 L505.7,729.6 L510.0,729.6 L514.3,729.6 L518.6,729.6 L522.9,729.6 L527.2,729.6 L531.5,729.6 L535.8,729.6 L540.1,729.6 L544.4,729.6 L548.7,729.6 L553.0,729.6 L557.4,729.6 L561.7,729.6 L566.0,729.6 L570.3,729.6 L574.6,729.6 L578.9,729.6 L583.2,729.6 L587.5,729.6 L591.8,729.6 L596.1,729.6 L600.4,729.6 L604.7,729.6 L609.0,729.6 L613.3,729.6 L617.6,729.6 L621.9,729.6 L626.2,729.6 L630.5,729.6 L634.9,729.6 L639.2,729.5 L643.5,729.5 L647.8,729.4 L652.1,729.3 L656.4,729.1 L660.7,729.0 L665.0,729.0 L669.3,728.9 L669.3,730.3 L665.0,730.2 L660.7,730.2 L656.4,730.1 L652.1,729.9 L647.8,729.8 L643.5,729.7 L639.2,729.7 L634.9,729.6 L630.5,729.6 L626.2,729.6 L621.9,729.6 L617.6,729.6 L613.3,729.6 L609.0,729.6 L604.7,729.6 L600.4,729.6 L596.1,729.6 L591.8,729.6 L587.5,729.6 L583.2,729.6 L578.9,729.6 L574.6,729.6 L570.3,729.6 L566.0,729.6 L561.7,729.6 L557.4,729.6 L553.0,729.6 L548.7,729.6 L544.4,729.6 L540.1,729.6 L535.8,729.6 L531.5,729.6 L527.2,729.6 L522.9,729.6 L518.6,729.6 L514.3,729.6 L510.0,729.6 L505.7,729.6 L501.4,729.6 L497.1,729.6 L492.8,729.6 L488.5,729.6 L484.2,729.6 L479.9,729.6 L475.6,729.6 L471.2,729.6 L466.9,729.6 L462.6,729.6 L458.3,729.6 L454.0,729.6 L449.7,729.6 L445.4,729.6 L441.1,729.6 L436.8,729.6 L432.5,729.6 L428.2,729.6 L423.9,729.6 L419.6,729.6 L415.3,729.6 L411.0,729.6 L406.7,729.6 L402.4,729.6 L398.1,729.6 L393.7,729.6 L389.4,729.6 L385.1,729.6 L380.8,729.6 L376.5,729.6 L372.2,729.6 L367.9,729.6 L363.6,729.6 L359.3,729.6 L355.0,729.6 L350.7,729.6 L346.4,729.6 L342.1,729.6 L337.8,729.6 L333.5,729.6 L329.2,729.7 L324.9,729.8 L320.6,730.1 L316.2,730.6 L311.9,731.4 L307.6,732.8 L303.3,734.7 L299.0,737.1 L294.7,739.7 L290.4,742.1 L286.1,743.8 L281.8,744.4 Z" fill="#9cbcd8" fill-opacity="0.5" stroke="#000" stroke-width="2.9" stroke-linejoin="round"/>
<path d="M281.80,688.80 L292.00,699.00 L281.80,709.20 L271.60,699.00 Z" fill="#d13c13"/>
<path d="M281.80,719.40 L292.00,729.60 L281.80,739.80 L271.60,729.60 Z" fill="#d13c13"/>
<path d="M281.8,752.6 L286.1,752.6 L290.4,752.7 L294.7,753.0 L299.0,753.3 L303.3,753.8 L307.6,754.2 L311.9,754.8 L316.2,755.4 L320.6,756.1 L324.9,756.8 L329.2,757.5 L333.5,758.3 L337.8,759.0 L342.1,759.7 L346.4,760.4 L350.7,761.1 L355.0,761.8 L359.3,762.4 L363.6,763.0 L367.9,763.5 L372.2,764.0 L376.5,764.5 L380.8,764.9 L385.1,765.2 L389.4,765.6 L393.7,765.9 L398.1,766.1 L402.4,766.3 L406.7,766.5 L411.0,766.6 L415.3,766.8 L419.6,766.9 L423.9,767.0 L428.2,767.1 L432.5,767.1 L436.8,767.2 L441.1,767.2 L445.4,767.2 L449.7,767.3 L454.0,767.3 L458.3,767.3 L462.6,767.3 L466.9,767.3 L471.2,767.3 L475.6,767.3 L479.9,767.3 L484.2,767.3 L488.5,767.3 L492.8,767.3 L497.1,767.3 L501.4,767.3 L505.7,767.3 L510.0,767.3 L514.3,767.3 L518.6,767.3 L522.9,767.3 L527.2,767.3 L531.5,767.3 L535.8,767.3 L540.1,767.3 L544.4,767.2 L548.7,767.2 L553.0,767.2 L557.4,767.1 L561.7,767.1 L566.0,767.1 L570.3,767.0 L574.6,766.9 L578.9,766.9 L583.2,766.8 L587.5,766.7 L591.8,766.6 L596.1,766.5 L600.4,766.4 L604.7,766.3 L609.0,766.2 L613.3,766.1 L617.6,766.0 L621.9,765.8 L626.2,765.7 L630.5,765.6 L634.9,765.5 L639.2,765.4 L643.5,765.3 L647.8,765.2 L652.1,765.1 L656.4,765.1 L660.7,765.0 L665.0,765.0 L669.3,765.0 L669.3,769.7 L665.0,769.7 L660.7,769.7 L656.4,769.6 L652.1,769.6 L647.8,769.5 L643.5,769.4 L639.2,769.3 L634.9,769.2 L630.5,769.1 L626.2,769.0 L621.9,768.9 L617.6,768.7 L613.3,768.6 L609.0,768.5 L604.7,768.4 L600.4,768.3 L596.1,768.2 L591.8,768.1 L587.5,768.0 L583.2,767.9 L578.9,767.8 L574.6,767.8 L570.3,767.7 L566.0,767.6 L561.7,767.6 L557.4,767.6 L553.0,767.5 L548.7,767.5 L544.4,767.5 L540.1,767.4 L535.8,767.4 L531.5,767.4 L527.2,767.4 L522.9,767.4 L518.6,767.4 L514.3,767.4 L510.0,767.4 L505.7,767.4 L501.4,767.4 L497.1,767.4 L492.8,767.4 L488.5,767.4 L484.2,767.4 L479.9,767.4 L475.6,767.4 L471.2,767.4 L466.9,767.4 L462.6,767.4 L458.3,767.4 L454.0,767.4 L449.7,767.4 L445.4,767.5 L441.1,767.5 L436.8,767.5 L432.5,767.6 L428.2,767.6 L423.9,767.7 L419.6,767.8 L415.3,767.9 L411.0,768.1 L406.7,768.2 L402.4,768.4 L398.1,768.6 L393.7,768.8 L389.4,769.1 L385.1,769.5 L380.8,769.8 L376.5,770.2 L372.2,770.7 L367.9,771.2 L363.6,771.7 L359.3,772.3 L355.0,772.9 L350.7,773.6 L346.4,774.3 L342.1,775.0 L337.8,775.7 L333.5,776.4 L329.2,777.2 L324.9,777.9 L320.6,778.6 L316.2,779.3 L311.9,779.9 L307.6,780.5 L303.3,780.9 L299.0,781.4 L294.7,781.7 L290.4,782.0 L286.1,782.1 L281.8,782.1 Z" fill="#e8a9a3" fill-opacity="0.5" stroke="#000" stroke-width="2.9" stroke-linejoin="round"/>
<path d="M281.8,783.1 L286.1,783.8 L290.4,785.5 L294.7,787.9 L299.0,790.5 L303.3,792.9 L307.6,794.8 L311.9,796.1 L316.2,797.0 L320.6,797.5 L324.9,797.7 L329.2,797.9 L333.5,797.9 L337.8,797.9 L342.1,797.9 L346.4,797.9 L350.7,797.9 L355.0,797.9 L359.3,797.9 L363.6,797.9 L367.9,797.9 L372.2,797.9 L376.5,797.9 L380.8,797.9 L385.1,797.9 L389.4,797.9 L393.7,797.9 L398.1,797.9 L402.4,797.9 L406.7,797.9 L411.0,797.9 L415.3,797.9 L419.6,797.9 L423.9,797.9 L428.2,797.9 L432.5,797.9 L436.8,797.9 L441.1,797.9 L445.4,797.9 L449.7,797.9 L454.0,797.9 L458.3,797.9 L462.6,797.9 L466.9,797.9 L471.2,797.9 L475.6,797.9 L479.9,797.9 L484.2,797.9 L488.5,797.9 L492.8,797.9 L497.1,797.9 L501.4,797.9 L505.7,797.9 L510.0,797.9 L514.3,797.9 L518.6,797.9 L522.9,797.9 L527.2,797.9 L531.5,797.9 L535.8,797.9 L540.1,797.9 L544.4,797.9 L548.7,797.9 L553.0,797.9 L557.4,797.9 L561.7,797.9 L566.0,797.9 L570.3,797.9 L574.6,797.9 L578.9,797.9 L583.2,797.9 L587.5,797.9 L591.8,797.9 L596.1,797.9 L600.4,797.9 L604.7,797.9 L609.0,797.9 L613.3,797.9 L617.6,797.9 L621.9,797.9 L626.2,797.9 L630.5,797.9 L634.9,797.9 L639.2,797.9 L643.5,797.9 L647.8,797.8 L652.1,797.7 L656.4,797.6 L660.7,797.6 L665.0,797.5 L669.3,797.5 L669.3,798.4 L665.0,798.4 L660.7,798.3 L656.4,798.3 L652.1,798.2 L647.8,798.1 L643.5,798.0 L639.2,798.0 L634.9,798.0 L630.5,798.0 L626.2,798.0 L621.9,798.0 L617.6,798.0 L613.3,798.0 L609.0,798.0 L604.7,798.0 L600.4,798.0 L596.1,798.0 L591.8,798.0 L587.5,798.0 L583.2,798.0 L578.9,798.0 L574.6,798.0 L570.3,798.0 L566.0,798.0 L561.7,798.0 L557.4,798.0 L553.0,797.9 L548.7,797.9 L544.4,797.9 L540.1,797.9 L535.8,797.9 L531.5,797.9 L527.2,797.9 L522.9,797.9 L518.6,797.9 L514.3,797.9 L510.0,797.9 L505.7,797.9 L501.4,797.9 L497.1,797.9 L492.8,797.9 L488.5,797.9 L484.2,797.9 L479.9,797.9 L475.6,797.9 L471.2,797.9 L466.9,797.9 L462.6,797.9 L458.3,797.9 L454.0,797.9 L449.7,797.9 L445.4,797.9 L441.1,797.9 L436.8,797.9 L432.5,797.9 L428.2,797.9 L423.9,797.9 L419.6,797.9 L415.3,797.9 L411.0,797.9 L406.7,797.9 L402.4,797.9 L398.1,798.0 L393.7,798.0 L389.4,798.0 L385.1,798.0 L380.8,798.0 L376.5,798.0 L372.2,798.0 L367.9,798.0 L363.6,798.0 L359.3,798.0 L355.0,798.0 L350.7,798.0 L346.4,798.0 L342.1,798.0 L337.8,798.0 L333.5,798.0 L329.2,798.0 L324.9,798.2 L320.6,798.4 L316.2,798.9 L311.9,799.8 L307.6,801.1 L303.3,803.0 L299.0,805.4 L294.7,808.0 L290.4,810.4 L286.1,812.1 L281.8,812.7 Z" fill="#9cbcd8" fill-opacity="0.5" stroke="#000" stroke-width="2.9" stroke-linejoin="round"/>
<path d="M281.80,757.15 L292.00,767.35 L281.80,777.55 L271.60,767.35 Z" fill="#d13c13"/>
<path d="M281.80,787.75 L292.00,797.95 L281.80,808.15 L271.60,797.95 Z" fill="#d13c13"/>
<path d="M281.8,829.6 L286.1,829.7 L290.4,829.8 L294.7,830.0 L299.0,830.2 L303.3,830.5 L307.6,830.8 L311.9,831.2 L316.2,831.6 L320.6,832.0 L324.9,832.4 L329.2,832.8 L333.5,833.2 L337.8,833.5 L342.1,833.9 L346.4,834.1 L350.7,834.4 L355.0,834.6 L359.3,834.7 L363.6,834.8 L367.9,834.9 L372.2,834.9 L376.5,834.8 L380.8,834.7 L385.1,834.6 L389.4,834.3 L393.7,834.0 L398.1,833.6 L402.4,833.2 L406.7,832.6 L411.0,832.0 L415.3,831.3 L419.6,830.5 L423.9,829.6 L428.2,828.7 L432.5,827.7 L436.8,826.7 L441.1,825.7 L445.4,824.8 L449.7,823.8 L454.0,823.0 L458.3,822.3 L462.6,821.7 L466.9,821.3 L471.2,821.0 L475.6,820.9 L479.9,821.0 L484.2,821.3 L488.5,821.7 L492.8,822.3 L497.1,823.0 L501.4,823.8 L505.7,824.8 L510.0,825.7 L514.3,826.7 L518.6,827.7 L522.9,828.7 L527.2,829.6 L531.5,830.5 L535.8,831.3 L540.1,832.0 L544.4,832.7 L548.7,833.2 L553.0,833.7 L557.4,834.1 L561.7,834.4 L566.0,834.7 L570.3,834.9 L574.6,835.1 L578.9,835.2 L583.2,835.3 L587.5,835.4 L591.8,835.4 L596.1,835.5 L600.4,835.5 L604.7,835.5 L609.0,835.4 L613.3,835.4 L617.6,835.3 L621.9,835.3 L626.2,835.2 L630.5,835.1 L634.9,835.1 L639.2,835.0 L643.5,834.9 L647.8,834.8 L652.1,834.8 L656.4,834.7 L660.7,834.7 L665.0,834.7 L669.3,834.7 L669.3,836.7 L665.0,836.7 L660.7,836.7 L656.4,836.7 L652.1,836.6 L647.8,836.6 L643.5,836.5 L639.2,836.4 L634.9,836.3 L630.5,836.3 L626.2,836.2 L621.9,836.1 L617.6,836.1 L613.3,836.0 L609.0,836.0 L604.7,835.9 L600.4,835.9 L596.1,835.9 L591.8,836.0 L587.5,836.0 L583.2,836.1 L578.9,836.2 L574.6,836.3 L570.3,836.5 L566.0,836.7 L561.7,837.0 L557.4,837.3 L553.0,837.7 L548.7,838.2 L544.4,838.7 L540.1,839.4 L535.8,840.1 L531.5,840.9 L527.2,841.8 L522.9,842.7 L518.6,843.7 L514.3,844.7 L510.0,845.7 L505.7,846.6 L501.4,847.6 L497.1,848.4 L492.8,849.1 L488.5,849.7 L484.2,850.1 L479.9,850.4 L475.6,850.5 L471.2,850.4 L466.9,850.1 L462.6,849.7 L458.3,849.1 L454.0,848.4 L449.7,847.6 L445.4,846.6 L441.1,845.7 L436.8,844.7 L432.5,843.7 L428.2,842.7 L423.9,841.8 L419.6,840.9 L415.3,840.1 L411.0,839.4 L406.7,838.8 L402.4,838.2 L398.1,837.8 L393.7,837.4 L389.4,837.1 L385.1,836.8 L380.8,836.7 L376.5,836.6 L372.2,836.5 L367.9,836.5 L363.6,836.6 L359.3,836.7 L355.0,836.8 L350.7,837.0 L346.4,837.3 L342.1,837.5 L337.8,837.9 L333.5,838.2 L329.2,838.6 L324.9,839.0 L320.6,839.4 L316.2,839.8 L311.9,840.2 L307.6,840.6 L303.3,840.9 L299.0,841.2 L294.7,841.4 L290.4,841.6 L286.1,841.7 L281.8,841.8 Z" fill="#e8a9a3" fill-opacity="0.5" stroke="#000" stroke-width="2.9" stroke-linejoin="round"/>
<path d="M281.8,851.5 L286.1,851.9 L290.4,852.9 L294.7,854.4 L299.0,856.3 L303.3,858.3 L307.6,860.2 L311.9,861.9 L316.2,863.3 L320.6,864.3 L324.9,865.0 L329.2,865.6 L333.5,865.9 L337.8,866.1 L342.1,866.2 L346.4,866.2 L350.7,866.3 L355.0,866.3 L359.3,866.3 L363.6,866.3 L367.9,866.3 L372.2,866.3 L376.5,866.3 L380.8,866.3 L385.1,866.3 L389.4,866.3 L393.7,866.3 L398.1,866.3 L402.4,866.3 L406.7,866.3 L411.0,866.2 L415.3,866.2 L419.6,866.0 L423.9,865.9 L428.2,865.6 L432.5,865.2 L436.8,864.7 L441.1,864.1 L445.4,863.3 L449.7,862.4 L454.0,861.4 L458.3,860.4 L462.6,859.5 L466.9,858.8 L471.2,858.3 L475.6,858.2 L479.9,858.3 L484.2,858.8 L488.5,859.5 L492.8,860.4 L497.1,861.4 L501.4,862.4 L505.7,863.3 L510.0,864.1 L514.3,864.7 L518.6,865.2 L522.9,865.6 L527.2,865.9 L531.5,866.0 L535.8,866.2 L540.1,866.2 L544.4,866.3 L548.7,866.3 L553.0,866.3 L557.4,866.3 L561.7,866.3 L566.0,866.3 L570.3,866.3 L574.6,866.3 L578.9,866.3 L583.2,866.3 L587.5,866.3 L591.8,866.3 L596.1,866.3 L600.4,866.3 L604.7,866.3 L609.0,866.3 L613.3,866.3 L617.6,866.3 L621.9,866.3 L626.2,866.3 L630.5,866.2 L634.9,866.2 L639.2,866.2 L643.5,866.1 L647.8,866.1 L652.1,866.0 L656.4,865.9 L660.7,865.9 L665.0,865.9 L669.3,865.9 L669.3,866.7 L665.0,866.7 L660.7,866.7 L656.4,866.7 L652.1,866.6 L647.8,866.5 L643.5,866.5 L639.2,866.4 L634.9,866.4 L630.5,866.4 L626.2,866.3 L621.9,866.3 L617.6,866.3 L613.3,866.3 L609.0,866.3 L604.7,866.3 L600.4,866.3 L596.1,866.3 L591.8,866.3 L587.5,866.3 L583.2,866.3 L578.9,866.3 L574.6,866.3 L570.3,866.3 L566.0,866.3 L561.7,866.3 L557.4,866.3 L553.0,866.3 L548.7,866.3 L544.4,866.3 L540.1,866.4 L535.8,866.4 L531.5,866.6 L527.2,866.7 L522.9,867.0 L518.6,867.4 L514.3,867.9 L510.0,868.5 L505.7,869.3 L501.4,870.2 L497.1,871.2 L492.8,872.2 L488.5,873.1 L484.2,873.8 L479.9,874.3 L475.6,874.4 L471.2,874.3 L466.9,873.8 L462.6,873.1 L458.3,872.2 L454.0,871.2 L449.7,870.2 L445.4,869.3 L441.1,868.5 L436.8,867.9 L432.5,867.4 L428.2,867.0 L423.9,866.7 L419.6,866.6 L415.3,866.4 L411.0,866.4 L406.7,866.3 L402.4,866.3 L398.1,866.3 L393.7,866.3 L389.4,866.3 L385.1,866.3 L380.8,866.3 L376.5,866.3 L372.2,866.3 L367.9,866.3 L363.6,866.3 L359.3,866.3 L355.0,866.3 L350.7,866.3 L346.4,866.4 L342.1,866.4 L337.8,866.5 L333.5,866.7 L329.2,867.0 L324.9,867.6 L320.6,868.3 L316.2,869.3 L311.9,870.7 L307.6,872.4 L303.3,874.3 L299.0,876.3 L294.7,878.2 L290.4,879.7 L286.1,880.7 L281.8,881.1 Z" fill="#9cbcd8" fill-opacity="0.5" stroke="#000" stroke-width="2.9" stroke-linejoin="round"/>
<path d="M475.55,825.50 L485.75,835.70 L475.55,845.90 L465.35,835.70 Z" fill="#d13c13"/>
<path d="M281.80,856.10 L292.00,866.30 L281.80,876.50 L271.60,866.30 Z" fill="#d13c13"/>
<line x1="281.8" y1="887.5" x2="281.8" y2="920.7" stroke="#000" stroke-width="2.9" stroke-linecap="round"/>
<path d="M281.8,921.8 L286.1,921.8 L290.4,922.1 L294.7,922.4 L299.0,922.9 L303.3,923.5 L307.6,924.1 L311.9,924.9 L316.2,925.7 L320.6,926.5 L324.9,927.3 L329.2,928.1 L333.5,928.9 L337.8,929.7 L342.1,930.4 L346.4,931.0 L350.7,931.6 L355.0,932.1 L359.3,932.6 L363.6,932.9 L367.9,933.3 L372.2,933.6 L376.5,933.8 L380.8,934.0 L385.1,934.1 L389.4,934.3 L393.7,934.4 L398.1,934.4 L402.4,934.5 L406.7,934.5 L411.0,934.6 L415.3,934.6 L419.6,934.6 L423.9,934.6 L428.2,934.6 L432.5,934.6 L436.8,934.6 L441.1,934.6 L445.4,934.6 L449.7,934.6 L454.0,934.6 L458.3,934.6 L462.6,934.6 L466.9,934.6 L471.2,934.6 L475.6,934.6 L479.9,934.6 L484.2,934.6 L488.5,934.6 L492.8,934.6 L497.1,934.6 L501.4,934.6 L505.7,934.6 L510.0,934.6 L514.3,934.6 L518.6,934.6 L522.9,934.6 L527.2,934.6 L531.5,934.6 L535.8,934.6 L540.1,934.6 L544.4,934.6 L548.7,934.5 L553.0,934.5 L557.4,934.4 L561.7,934.3 L566.0,934.2 L570.3,934.1 L574.6,933.9 L578.9,933.7 L583.2,933.4 L587.5,933.1 L591.8,932.6 L596.1,932.2 L600.4,931.6 L604.7,931.0 L609.0,930.2 L613.3,929.4 L617.6,928.6 L621.9,927.6 L626.2,926.7 L630.5,925.7 L634.9,924.7 L639.2,923.7 L643.5,922.8 L647.8,922.0 L652.1,921.2 L656.4,920.6 L660.7,920.2 L665.0,919.9 L669.3,919.9 L669.3,949.4 L665.0,949.4 L660.7,949.1 L656.4,948.7 L652.1,948.1 L647.8,947.3 L643.5,946.5 L639.2,945.6 L634.9,944.6 L630.5,943.6 L626.2,942.6 L621.9,941.7 L617.6,940.7 L613.3,939.9 L609.0,939.1 L604.7,938.3 L600.4,937.7 L596.1,937.1 L591.8,936.7 L587.5,936.2 L583.2,935.9 L578.9,935.6 L574.6,935.4 L570.3,935.2 L566.0,935.1 L561.7,935.0 L557.4,934.9 L553.0,934.8 L548.7,934.8 L544.4,934.7 L540.1,934.7 L535.8,934.7 L531.5,934.7 L527.2,934.7 L522.9,934.7 L518.6,934.7 L514.3,934.7 L510.0,934.7 L505.7,934.7 L501.4,934.7 L497.1,934.7 L492.8,934.7 L488.5,934.7 L484.2,934.7 L479.9,934.7 L475.6,934.7 L471.2,934.7 L466.9,934.7 L462.6,934.7 L458.3,934.7 L454.0,934.7 L449.7,934.7 L445.4,934.7 L441.1,934.7 L436.8,934.7 L432.5,934.7 L428.2,934.7 L423.9,934.7 L419.6,934.7 L415.3,934.7 L411.0,934.7 L406.7,934.8 L402.4,934.8 L398.1,934.9 L393.7,934.9 L389.4,935.0 L385.1,935.2 L380.8,935.3 L376.5,935.5 L372.2,935.7 L367.9,936.0 L363.6,936.4 L359.3,936.7 L355.0,937.2 L350.7,937.7 L346.4,938.3 L342.1,938.9 L337.8,939.6 L333.5,940.4 L329.2,941.2 L324.9,942.0 L320.6,942.8 L316.2,943.6 L311.9,944.4 L307.6,945.2 L303.3,945.8 L299.0,946.4 L294.7,946.9 L290.4,947.2 L286.1,947.5 L281.8,947.5 Z" fill="#9cbcd8" fill-opacity="0.5" stroke="#000" stroke-width="2.9" stroke-linejoin="round"/>
<path d="M281.80,893.85 L292.00,904.05 L281.80,914.25 L271.60,904.05 Z" fill="#d13c13"/>
<path d="M669.30,924.45 L679.50,934.65 L669.30,944.85 L659.10,934.65 Z" fill="#d13c13"/>
<path d="M298.1,959.2 L302.2,958.3 L306.3,957.8 L310.4,957.6 L314.6,957.8 L318.7,958.3 L322.8,959.1 L326.9,960.1 L331.1,961.3 L335.2,962.6 L339.3,963.9 L343.4,965.2 L347.6,966.4 L351.7,967.5 L355.8,968.5 L359.9,969.4 L364.1,970.1 L368.2,970.7 L372.3,971.2 L376.4,971.5 L380.6,971.8 L384.7,972.0 L388.8,972.1 L392.9,972.2 L397.1,972.3 L401.2,972.3 L405.3,972.4 L409.4,972.4 L413.6,972.4 L417.7,972.4 L421.8,972.4 L425.9,972.4 L430.1,972.4 L434.2,972.4 L438.3,972.4 L442.4,972.4 L446.6,972.4 L450.7,972.4 L454.8,972.4 L458.9,972.4 L463.1,972.4 L467.2,972.4 L471.3,972.4 L475.4,972.4 L479.6,972.4 L483.7,972.4 L487.8,972.4 L491.9,972.4 L496.1,972.4 L500.2,972.4 L504.3,972.4 L508.4,972.4 L512.6,972.4 L516.7,972.4 L520.8,972.3 L524.9,972.3 L529.1,972.3 L533.2,972.3 L537.3,972.2 L541.4,972.2 L545.6,972.2 L549.7,972.2 L553.8,972.2 L557.9,972.2 L562.1,972.2 L566.2,972.2 L570.3,972.3 L574.4,972.3 L578.6,972.3 L582.7,972.3 L586.8,972.4 L590.9,972.4 L595.1,972.4 L599.2,972.4 L603.3,972.4 L607.4,972.4 L611.6,972.4 L615.7,972.4 L619.8,972.4 L623.9,972.4 L628.1,972.4 L632.2,972.4 L636.3,972.3 L640.4,972.3 L644.6,972.3 L648.7,972.2 L652.8,972.2 L656.9,972.2 L661.1,972.1 L665.2,972.1 L669.3,972.1 L669.3,972.7 L665.2,972.7 L661.1,972.7 L656.9,972.6 L652.8,972.6 L648.7,972.6 L644.6,972.5 L640.4,972.5 L636.3,972.5 L632.2,972.4 L628.1,972.4 L623.9,972.4 L619.8,972.4 L615.7,972.4 L611.6,972.4 L607.4,972.4 L603.3,972.4 L599.2,972.4 L595.1,972.4 L590.9,972.4 L586.8,972.4 L582.7,972.5 L578.6,972.5 L574.4,972.5 L570.3,972.5 L566.2,972.6 L562.1,972.6 L557.9,972.6 L553.8,972.6 L549.7,972.6 L545.6,972.6 L541.4,972.6 L537.3,972.6 L533.2,972.5 L529.1,972.5 L524.9,972.5 L520.8,972.5 L516.7,972.4 L512.6,972.4 L508.4,972.4 L504.3,972.4 L500.2,972.4 L496.1,972.4 L491.9,972.4 L487.8,972.4 L483.7,972.4 L479.6,972.4 L475.4,972.4 L471.3,972.4 L467.2,972.4 L463.1,972.4 L458.9,972.4 L454.8,972.4 L450.7,972.4 L446.6,972.4 L442.4,972.4 L438.3,972.4 L434.2,972.4 L430.1,972.4 L425.9,972.4 L421.8,972.4 L417.7,972.4 L413.6,972.4 L409.4,972.4 L405.3,972.4 L401.2,972.5 L397.1,972.5 L392.9,972.6 L388.8,972.7 L384.7,972.8 L380.6,973.0 L376.4,973.3 L372.3,973.6 L368.2,974.1 L364.1,974.7 L359.9,975.4 L355.8,976.3 L351.7,977.3 L347.6,978.4 L343.4,979.6 L339.3,980.9 L335.2,982.2 L331.1,983.5 L326.9,984.7 L322.8,985.7 L318.7,986.5 L314.6,987.0 L310.4,987.2 L306.3,987.0 L302.2,986.5 L298.1,985.6 Z" fill="#e8a9a3" fill-opacity="0.5" stroke="#000" stroke-width="2.9" stroke-linejoin="round"/>
<path d="M281.8,988.2 L283.8,992.7 L285.7,999.5 L287.7,1002.4 L289.7,1002.9 L291.7,1002.8 L293.6,1001.9 L295.6,999.0 L297.6,996.2 L299.5,997.3 L301.5,1000.7 L303.5,1002.5 L305.5,1003.0 L307.4,1003.0 L309.4,1002.7 L311.4,1002.0 L313.4,1001.1 L315.3,1001.4 L317.3,1002.3 L319.3,1002.9 L321.2,1003.0 L323.2,1003.0 L325.2,1002.9 L327.2,1002.7 L329.1,1002.3 L331.1,1002.3 L333.1,1002.6 L335.0,1002.9 L337.0,1003.0 L339.0,1003.0 L341.0,1003.0 L342.9,1002.9 L344.9,1002.8 L346.9,1002.7 L348.8,1002.8 L350.8,1002.9 L352.8,1003.0 L354.8,1003.0 L356.7,1003.0 L358.7,1003.0 L360.7,1003.0 L362.6,1003.0 L364.6,1003.0 L366.6,1003.0 L368.6,1003.0 L370.5,1003.0 L372.5,1003.0 L374.5,1003.0 L376.5,1003.0 L378.4,1003.0 L380.4,1003.0 L382.4,1003.0 L384.3,1003.0 L386.3,1003.0 L388.3,1003.0 L390.3,1003.0 L392.2,1003.0 L394.2,1003.0 L396.2,1003.0 L398.1,1003.0 L400.1,1003.0 L402.1,1003.0 L404.1,1003.0 L406.0,1003.0 L408.0,1003.0 L410.0,1003.0 L411.9,1003.0 L413.9,1003.0 L415.9,1003.0 L417.9,1003.0 L419.8,1003.0 L421.8,1003.0 L423.8,1003.0 L425.8,1003.0 L427.7,1003.0 L429.7,1003.0 L431.7,1003.0 L433.6,1003.0 L435.6,1003.0 L437.6,1003.0 L439.6,1003.0 L441.5,1003.0 L443.5,1003.0 L445.5,1003.0 L447.4,1003.0 L449.4,1003.0 L451.4,1003.0 L453.4,1003.0 L455.3,1003.0 L457.3,1003.0 L459.3,1003.0 L459.3,1003.0 L457.3,1003.0 L455.3,1003.0 L453.4,1003.0 L451.4,1003.0 L449.4,1003.0 L447.4,1003.0 L445.5,1003.0 L443.5,1003.0 L441.5,1003.0 L439.6,1003.0 L437.6,1003.0 L435.6,1003.0 L433.6,1003.0 L431.7,1003.0 L429.7,1003.0 L427.7,1003.0 L425.8,1003.0 L423.8,1003.0 L421.8,1003.0 L419.8,1003.0 L417.9,1003.0 L415.9,1003.0 L413.9,1003.0 L411.9,1003.0 L410.0,1003.0 L408.0,1003.0 L406.0,1003.0 L404.1,1003.0 L402.1,1003.0 L400.1,1003.0 L398.1,1003.0 L396.2,1003.0 L394.2,1003.0 L392.2,1003.0 L390.3,1003.0 L388.3,1003.0 L386.3,1003.0 L384.3,1003.0 L382.4,1003.0 L380.4,1003.0 L378.4,1003.0 L376.5,1003.0 L374.5,1003.0 L372.5,1003.0 L370.5,1003.0 L368.6,1003.0 L366.6,1003.0 L364.6,1003.0 L362.6,1003.0 L360.7,1003.0 L358.7,1003.0 L356.7,1003.0 L354.8,1003.0 L352.8,1003.0 L350.8,1003.1 L348.8,1003.2 L346.9,1003.3 L344.9,1003.2 L342.9,1003.1 L341.0,1003.0 L339.0,1003.0 L337.0,1003.0 L335.0,1003.1 L333.1,1003.4 L331.1,1003.7 L329.1,1003.7 L327.2,1003.3 L325.2,1003.1 L323.2,1003.0 L321.2,1003.0 L319.3,1003.1 L317.3,1003.7 L315.3,1004.6 L313.4,1004.9 L311.4,1004.0 L309.4,1003.3 L307.4,1003.0 L305.5,1003.0 L303.5,1003.5 L301.5,1005.3 L299.5,1008.7 L297.6,1009.8 L295.6,1007.0 L293.6,1004.1 L291.7,1003.2 L289.7,1003.1 L287.7,1003.6 L285.7,1006.5 L283.8,1013.3 L281.8,1017.8 Z" fill="#9cbcd8" fill-opacity="0.5" stroke="#000" stroke-width="2.9" stroke-linejoin="round"/>
<path d="M313.96,962.20 L324.16,972.40 L313.96,982.60 L303.76,972.40 Z" fill="#d13c13"/>
<path d="M281.80,992.80 L292.00,1003.00 L281.80,1013.20 L271.60,1003.00 Z" fill="#d13c13"/>
<path d="M281.8,1068.4 L286.1,1068.4 L290.4,1068.4 L294.7,1068.4 L299.0,1068.5 L303.3,1068.5 L307.6,1068.5 L311.9,1068.5 L316.2,1068.5 L320.6,1068.4 L324.9,1068.3 L329.2,1068.1 L333.5,1067.8 L337.8,1067.5 L342.1,1067.1 L346.4,1066.5 L350.7,1065.9 L355.0,1065.2 L359.3,1064.4 L363.6,1063.5 L367.9,1062.6 L372.2,1061.7 L376.5,1060.7 L380.8,1059.8 L385.1,1058.9 L389.4,1058.1 L393.7,1057.4 L398.1,1056.8 L402.4,1056.4 L406.7,1056.1 L411.0,1056.0 L415.3,1056.1 L419.6,1056.3 L423.9,1056.7 L428.2,1057.3 L432.5,1057.9 L436.8,1058.6 L441.1,1059.4 L445.4,1060.2 L449.7,1061.0 L454.0,1061.8 L458.3,1062.4 L462.6,1063.0 L466.9,1063.4 L471.2,1063.7 L475.6,1063.9 L479.9,1063.9 L484.2,1063.7 L488.5,1063.4 L492.8,1063.0 L497.1,1062.5 L501.4,1061.9 L505.7,1061.2 L510.0,1060.5 L514.3,1059.8 L518.6,1059.2 L522.9,1058.6 L527.2,1058.2 L531.5,1057.8 L535.8,1057.6 L540.1,1057.5 L544.4,1057.6 L548.7,1057.9 L553.0,1058.2 L557.4,1058.8 L561.7,1059.4 L566.0,1060.1 L570.3,1060.8 L574.6,1061.7 L578.9,1062.5 L583.2,1063.3 L587.5,1064.0 L591.8,1064.7 L596.1,1065.3 L600.4,1065.9 L604.7,1066.3 L609.0,1066.7 L613.3,1066.9 L617.6,1067.1 L621.9,1067.2 L626.2,1067.2 L630.5,1067.1 L634.9,1067.0 L639.2,1066.9 L643.5,1066.7 L647.8,1066.5 L652.1,1066.4 L656.4,1066.2 L660.7,1066.2 L665.0,1066.1 L669.3,1066.1 L669.3,1075.5 L665.0,1075.5 L660.7,1075.4 L656.4,1075.4 L652.1,1075.2 L647.8,1075.1 L643.5,1074.9 L639.2,1074.7 L634.9,1074.6 L630.5,1074.5 L626.2,1074.4 L621.9,1074.4 L617.6,1074.5 L613.3,1074.7 L609.0,1074.9 L604.7,1075.3 L600.4,1075.7 L596.1,1076.3 L591.8,1076.9 L587.5,1077.6 L583.2,1078.3 L578.9,1079.1 L574.6,1079.9 L570.3,1080.8 L566.0,1081.5 L561.7,1082.2 L557.4,1082.8 L553.0,1083.4 L548.7,1083.7 L544.4,1084.0 L540.1,1084.1 L535.8,1084.0 L531.5,1083.8 L527.2,1083.4 L522.9,1083.0 L518.6,1082.4 L514.3,1081.8 L510.0,1081.1 L505.7,1080.4 L501.4,1079.7 L497.1,1079.1 L492.8,1078.6 L488.5,1078.2 L484.2,1077.9 L479.9,1077.7 L475.6,1077.7 L471.2,1077.9 L466.9,1078.2 L462.6,1078.6 L458.3,1079.2 L454.0,1079.8 L449.7,1080.6 L445.4,1081.4 L441.1,1082.2 L436.8,1083.0 L432.5,1083.7 L428.2,1084.3 L423.9,1084.9 L419.6,1085.3 L415.3,1085.5 L411.0,1085.6 L406.7,1085.5 L402.4,1085.2 L398.1,1084.8 L393.7,1084.2 L389.4,1083.5 L385.1,1082.7 L380.8,1081.8 L376.5,1080.9 L372.2,1079.9 L367.9,1079.0 L363.6,1078.1 L359.3,1077.2 L355.0,1076.4 L350.7,1075.7 L346.4,1075.1 L342.1,1074.5 L337.8,1074.1 L333.5,1073.8 L329.2,1073.5 L324.9,1073.3 L320.6,1073.2 L316.2,1073.1 L311.9,1073.1 L307.6,1073.1 L303.3,1073.1 L299.0,1073.1 L294.7,1073.2 L290.4,1073.2 L286.1,1073.2 L281.8,1073.2 Z" fill="#e8a9a3" fill-opacity="0.5" stroke="#000" stroke-width="2.9" stroke-linejoin="round"/>
<path d="M281.8,1092.5 L286.1,1092.7 L290.4,1093.4 L294.7,1094.3 L299.0,1095.4 L303.3,1096.6 L307.6,1097.7 L311.9,1098.8 L316.2,1099.6 L320.6,1100.2 L324.9,1100.6 L329.2,1101.0 L333.5,1101.1 L337.8,1101.3 L342.1,1101.3 L346.4,1101.3 L350.7,1101.3 L355.0,1101.2 L359.3,1101.0 L363.6,1100.6 L367.9,1100.1 L372.2,1099.4 L376.5,1098.3 L380.8,1096.9 L385.1,1095.3 L389.4,1093.4 L393.7,1091.4 L398.1,1089.5 L402.4,1088.0 L406.7,1086.9 L411.0,1086.6 L415.3,1087.0 L419.6,1088.0 L423.9,1089.6 L428.2,1091.5 L432.5,1093.5 L436.8,1095.4 L441.1,1097.0 L445.4,1098.4 L449.7,1099.4 L454.0,1100.2 L458.3,1100.7 L462.6,1101.0 L466.9,1101.2 L471.2,1101.3 L475.6,1101.3 L479.9,1101.4 L484.2,1101.4 L488.5,1101.3 L492.8,1101.3 L497.1,1101.2 L501.4,1101.1 L505.7,1100.8 L510.0,1100.5 L514.3,1100.0 L518.6,1099.5 L522.9,1098.9 L527.2,1098.3 L531.5,1097.7 L535.8,1097.4 L540.1,1097.3 L544.4,1097.4 L548.7,1097.7 L553.0,1098.2 L557.4,1098.8 L561.7,1099.4 L566.0,1100.0 L570.3,1100.5 L574.6,1100.8 L578.9,1101.0 L583.2,1101.2 L587.5,1101.3 L591.8,1101.3 L596.1,1101.4 L600.4,1101.4 L604.7,1101.4 L609.0,1101.4 L613.3,1101.4 L617.6,1101.4 L621.9,1101.4 L626.2,1101.4 L630.5,1101.3 L634.9,1101.3 L639.2,1101.2 L643.5,1101.0 L647.8,1100.8 L652.1,1100.6 L656.4,1100.4 L660.7,1100.1 L665.0,1100.0 L669.3,1099.9 L669.3,1102.9 L665.0,1102.8 L660.7,1102.7 L656.4,1102.4 L652.1,1102.2 L647.8,1102.0 L643.5,1101.8 L639.2,1101.6 L634.9,1101.5 L630.5,1101.5 L626.2,1101.4 L621.9,1101.4 L617.6,1101.4 L613.3,1101.4 L609.0,1101.4 L604.7,1101.4 L600.4,1101.4 L596.1,1101.4 L591.8,1101.5 L587.5,1101.5 L583.2,1101.6 L578.9,1101.8 L574.6,1102.0 L570.3,1102.3 L566.0,1102.8 L561.7,1103.4 L557.4,1104.0 L553.0,1104.6 L548.7,1105.1 L544.4,1105.4 L540.1,1105.5 L535.8,1105.4 L531.5,1105.1 L527.2,1104.5 L522.9,1103.9 L518.6,1103.3 L514.3,1102.8 L510.0,1102.3 L505.7,1102.0 L501.4,1101.7 L497.1,1101.6 L492.8,1101.5 L488.5,1101.5 L484.2,1101.4 L479.9,1101.4 L475.6,1101.5 L471.2,1101.5 L466.9,1101.6 L462.6,1101.8 L458.3,1102.1 L454.0,1102.6 L449.7,1103.4 L445.4,1104.4 L441.1,1105.8 L436.8,1107.4 L432.5,1109.3 L428.2,1111.3 L423.9,1113.2 L419.6,1114.8 L415.3,1115.8 L411.0,1116.2 L406.7,1115.9 L402.4,1114.8 L398.1,1113.3 L393.7,1111.4 L389.4,1109.4 L385.1,1107.5 L380.8,1105.9 L376.5,1104.5 L372.2,1103.4 L367.9,1102.7 L363.6,1102.2 L359.3,1101.8 L355.0,1101.6 L350.7,1101.5 L346.4,1101.5 L342.1,1101.5 L337.8,1101.5 L333.5,1101.7 L329.2,1101.8 L324.9,1102.2 L320.6,1102.6 L316.2,1103.2 L311.9,1104.0 L307.6,1105.1 L303.3,1106.2 L299.0,1107.4 L294.7,1108.5 L290.4,1109.4 L286.1,1110.1 L281.8,1110.3 Z" fill="#9cbcd8" fill-opacity="0.5" stroke="#000" stroke-width="2.9" stroke-linejoin="round"/>
<path d="M540.26,1060.60 L550.46,1070.80 L540.26,1081.00 L530.06,1070.80 Z" fill="#d13c13"/>
<path d="M410.84,1091.20 L421.04,1101.40 L410.84,1111.60 L400.64,1101.40 Z" fill="#d13c13"/>
<path d="M281.8,1137.7 L286.1,1137.7 L290.4,1137.7 L294.7,1137.7 L299.0,1137.8 L303.3,1137.8 L307.6,1137.9 L311.9,1137.9 L316.2,1137.9 L320.6,1137.9 L324.9,1137.9 L329.2,1137.9 L333.5,1137.8 L337.8,1137.6 L342.1,1137.4 L346.4,1137.2 L350.7,1136.8 L355.0,1136.4 L359.3,1136.0 L363.6,1135.4 L367.9,1134.9 L372.2,1134.2 L376.5,1133.6 L380.8,1133.0 L385.1,1132.3 L389.4,1131.8 L393.7,1131.3 L398.1,1130.8 L402.4,1130.5 L406.7,1130.3 L411.0,1130.3 L415.3,1130.3 L419.6,1130.5 L423.9,1130.8 L428.2,1131.2 L432.5,1131.7 L436.8,1132.2 L441.1,1132.8 L445.4,1133.4 L449.7,1133.9 L454.0,1134.3 L458.3,1134.7 L462.6,1135.0 L466.9,1135.1 L471.2,1135.1 L475.6,1134.9 L479.9,1134.6 L484.2,1134.1 L488.5,1133.5 L492.8,1132.7 L497.1,1131.9 L501.4,1130.9 L505.7,1129.9 L510.0,1128.8 L514.3,1127.8 L518.6,1126.9 L522.9,1126.0 L527.2,1125.3 L531.5,1124.8 L535.8,1124.5 L540.1,1124.4 L544.4,1124.5 L548.7,1124.8 L553.0,1125.3 L557.4,1126.0 L561.7,1126.9 L566.0,1127.8 L570.3,1128.9 L574.6,1130.0 L578.9,1131.0 L583.2,1132.1 L587.5,1133.1 L591.8,1133.9 L596.1,1134.7 L600.4,1135.4 L604.7,1135.9 L609.0,1136.4 L613.3,1136.7 L617.6,1136.9 L621.9,1137.0 L626.2,1137.1 L630.5,1137.0 L634.9,1137.0 L639.2,1136.8 L643.5,1136.7 L647.8,1136.6 L652.1,1136.4 L656.4,1136.3 L660.7,1136.2 L665.0,1136.2 L669.3,1136.2 L669.3,1142.1 L665.0,1142.1 L660.7,1142.1 L656.4,1142.0 L652.1,1141.9 L647.8,1141.7 L643.5,1141.6 L639.2,1141.5 L634.9,1141.3 L630.5,1141.3 L626.2,1141.2 L621.9,1141.3 L617.6,1141.4 L613.3,1141.6 L609.0,1141.9 L604.7,1142.4 L600.4,1142.9 L596.1,1143.6 L591.8,1144.4 L587.5,1145.2 L583.2,1146.2 L578.9,1147.3 L574.6,1148.3 L570.3,1149.4 L566.0,1150.5 L561.7,1151.4 L557.4,1152.3 L553.0,1153.0 L548.7,1153.5 L544.4,1153.8 L540.1,1154.0 L535.8,1153.8 L531.5,1153.5 L527.2,1153.0 L522.9,1152.3 L518.6,1151.4 L514.3,1150.5 L510.0,1149.5 L505.7,1148.4 L501.4,1147.4 L497.1,1146.4 L492.8,1145.6 L488.5,1144.8 L484.2,1144.2 L479.9,1143.7 L475.6,1143.4 L471.2,1143.2 L466.9,1143.2 L462.6,1143.3 L458.3,1143.6 L454.0,1144.0 L449.7,1144.4 L445.4,1144.9 L441.1,1145.5 L436.8,1146.1 L432.5,1146.6 L428.2,1147.1 L423.9,1147.5 L419.6,1147.8 L415.3,1148.0 L411.0,1148.0 L406.7,1148.0 L402.4,1147.8 L398.1,1147.5 L393.7,1147.0 L389.4,1146.5 L385.1,1146.0 L380.8,1145.3 L376.5,1144.7 L372.2,1144.1 L367.9,1143.4 L363.6,1142.9 L359.3,1142.3 L355.0,1141.9 L350.7,1141.5 L346.4,1141.1 L342.1,1140.9 L337.8,1140.7 L333.5,1140.5 L329.2,1140.4 L324.9,1140.4 L320.6,1140.4 L316.2,1140.4 L311.9,1140.4 L307.6,1140.4 L303.3,1140.5 L299.0,1140.5 L294.7,1140.6 L290.4,1140.6 L286.1,1140.6 L281.8,1140.6 Z" fill="#e8a9a3" fill-opacity="0.5" stroke="#000" stroke-width="2.9" stroke-linejoin="round"/>
<path d="M281.8,1160.4 L286.1,1160.7 L290.4,1161.3 L294.7,1162.3 L299.0,1163.5 L303.3,1164.7 L307.6,1165.9 L311.9,1167.0 L316.2,1167.8 L320.6,1168.5 L324.9,1169.0 L329.2,1169.3 L333.5,1169.5 L337.8,1169.6 L342.1,1169.6 L346.4,1169.7 L350.7,1169.6 L355.0,1169.5 L359.3,1169.3 L363.6,1169.0 L367.9,1168.5 L372.2,1167.7 L376.5,1166.7 L380.8,1165.3 L385.1,1163.6 L389.4,1161.7 L393.7,1159.7 L398.1,1157.8 L402.4,1156.3 L406.7,1155.3 L411.0,1155.0 L415.3,1155.3 L419.6,1156.4 L423.9,1158.0 L428.2,1159.8 L432.5,1161.8 L436.8,1163.7 L441.1,1165.4 L445.4,1166.7 L449.7,1167.8 L454.0,1168.5 L458.3,1169.0 L462.6,1169.3 L466.9,1169.5 L471.2,1169.6 L475.6,1169.7 L479.9,1169.7 L484.2,1169.7 L488.5,1169.7 L492.8,1169.6 L497.1,1169.5 L501.4,1169.4 L505.7,1169.1 L510.0,1168.7 L514.3,1168.2 L518.6,1167.6 L522.9,1167.0 L527.2,1166.3 L531.5,1165.7 L535.8,1165.3 L540.1,1165.2 L544.4,1165.3 L548.7,1165.7 L553.0,1166.2 L557.4,1166.9 L561.7,1167.6 L566.0,1168.2 L570.3,1168.7 L574.6,1169.1 L578.9,1169.4 L583.2,1169.5 L587.5,1169.6 L591.8,1169.7 L596.1,1169.7 L600.4,1169.7 L604.7,1169.7 L609.0,1169.7 L613.3,1169.7 L617.6,1169.7 L621.9,1169.7 L626.2,1169.7 L630.5,1169.7 L634.9,1169.6 L639.2,1169.5 L643.5,1169.4 L647.8,1169.2 L652.1,1169.0 L656.4,1168.7 L660.7,1168.5 L665.0,1168.3 L669.3,1168.3 L669.3,1171.2 L665.0,1171.2 L660.7,1171.0 L656.4,1170.8 L652.1,1170.5 L647.8,1170.3 L643.5,1170.1 L639.2,1170.0 L634.9,1169.9 L630.5,1169.8 L626.2,1169.8 L621.9,1169.8 L617.6,1169.8 L613.3,1169.8 L609.0,1169.8 L604.7,1169.8 L600.4,1169.8 L596.1,1169.8 L591.8,1169.8 L587.5,1169.9 L583.2,1170.0 L578.9,1170.1 L574.6,1170.4 L570.3,1170.8 L566.0,1171.3 L561.7,1171.9 L557.4,1172.6 L553.0,1173.3 L548.7,1173.8 L544.4,1174.2 L540.1,1174.3 L535.8,1174.2 L531.5,1173.8 L527.2,1173.2 L522.9,1172.5 L518.6,1171.9 L514.3,1171.3 L510.0,1170.8 L505.7,1170.4 L501.4,1170.1 L497.1,1170.0 L492.8,1169.9 L488.5,1169.8 L484.2,1169.8 L479.9,1169.8 L475.6,1169.8 L471.2,1169.9 L466.9,1170.0 L462.6,1170.2 L458.3,1170.5 L454.0,1171.0 L449.7,1171.7 L445.4,1172.8 L441.1,1174.1 L436.8,1175.8 L432.5,1177.7 L428.2,1179.7 L423.9,1181.5 L419.6,1183.1 L415.3,1184.2 L411.0,1184.5 L406.7,1184.2 L402.4,1183.2 L398.1,1181.7 L393.7,1179.8 L389.4,1177.8 L385.1,1175.9 L380.8,1174.2 L376.5,1172.8 L372.2,1171.8 L367.9,1171.0 L363.6,1170.5 L359.3,1170.2 L355.0,1170.0 L350.7,1169.9 L346.4,1169.8 L342.1,1169.9 L337.8,1169.9 L333.5,1170.0 L329.2,1170.2 L324.9,1170.5 L320.6,1171.0 L316.2,1171.7 L311.9,1172.5 L307.6,1173.6 L303.3,1174.8 L299.0,1176.0 L294.7,1177.2 L290.4,1178.2 L286.1,1178.8 L281.8,1179.1 Z" fill="#9cbcd8" fill-opacity="0.5" stroke="#000" stroke-width="2.9" stroke-linejoin="round"/>
<path d="M540.26,1128.95 L550.46,1139.15 L540.26,1149.35 L530.06,1139.15 Z" fill="#d13c13"/>
<path d="M410.84,1159.55 L421.04,1169.75 L410.84,1179.95 L400.64,1169.75 Z" fill="#d13c13"/>
<path d="M281.8,1192.7 L286.1,1192.7 L290.4,1192.7 L294.7,1192.7 L299.0,1192.7 L303.3,1192.7 L307.6,1192.7 L311.9,1192.7 L316.2,1192.7 L320.6,1192.7 L324.9,1192.7 L329.2,1192.7 L333.5,1192.7 L337.8,1192.7 L342.1,1192.7 L346.4,1192.7 L350.7,1192.7 L355.0,1192.7 L359.3,1192.7 L363.6,1192.7 L367.9,1192.7 L372.2,1192.7 L376.5,1192.7 L380.8,1192.7 L385.1,1192.7 L389.4,1192.7 L393.7,1192.7 L398.1,1192.7 L402.4,1192.7 L406.7,1192.7 L411.0,1192.8 L415.3,1192.8 L419.6,1192.9 L423.9,1193.0 L428.2,1193.1 L432.5,1193.2 L436.8,1193.3 L441.1,1193.4 L445.4,1193.5 L449.7,1193.7 L454.0,1193.8 L458.3,1194.0 L462.6,1194.1 L466.9,1194.4 L471.2,1194.7 L475.6,1194.9 L479.9,1195.3 L484.2,1195.6 L488.5,1195.9 L492.8,1196.2 L497.1,1196.6 L501.4,1196.9 L505.7,1197.3 L510.0,1197.7 L514.3,1198.1 L518.6,1198.5 L522.9,1198.9 L527.2,1199.3 L531.5,1199.7 L535.8,1200.1 L540.1,1200.4 L544.4,1200.7 L548.7,1201.0 L553.0,1201.3 L557.4,1201.5 L561.7,1201.7 L566.0,1201.9 L570.3,1202.1 L574.6,1202.3 L578.9,1202.4 L583.2,1202.6 L587.5,1202.7 L591.8,1202.9 L596.1,1203.0 L600.4,1203.2 L604.7,1203.3 L609.0,1203.4 L613.3,1203.6 L617.6,1203.7 L621.9,1203.9 L626.2,1204.0 L630.5,1204.2 L634.9,1204.3 L639.2,1204.4 L643.5,1204.6 L647.8,1204.7 L652.1,1204.8 L656.4,1204.9 L660.7,1204.9 L665.0,1205.0 L669.3,1205.0 L669.3,1210.0 L665.0,1210.0 L660.7,1210.1 L656.4,1210.1 L652.1,1210.2 L647.8,1210.3 L643.5,1210.4 L639.2,1210.6 L634.9,1210.7 L630.5,1210.8 L626.2,1211.0 L621.9,1211.1 L617.6,1211.3 L613.3,1211.4 L609.0,1211.6 L604.7,1211.7 L600.4,1211.8 L596.1,1212.0 L591.8,1212.1 L587.5,1212.3 L583.2,1212.4 L578.9,1212.6 L574.6,1212.7 L570.3,1212.9 L566.0,1213.1 L561.7,1213.3 L557.4,1213.5 L553.0,1213.7 L548.7,1214.0 L544.4,1214.3 L540.1,1214.6 L535.8,1214.9 L531.5,1215.3 L527.2,1215.7 L522.9,1216.1 L518.6,1216.5 L514.3,1216.9 L510.0,1217.3 L505.7,1217.7 L501.4,1218.1 L497.1,1218.4 L492.8,1218.8 L488.5,1219.1 L484.2,1219.4 L479.9,1219.7 L475.6,1220.1 L471.2,1220.3 L466.9,1220.6 L462.6,1220.9 L458.3,1221.0 L454.0,1221.2 L449.7,1221.3 L445.4,1221.5 L441.1,1221.6 L436.8,1221.7 L432.5,1221.8 L428.2,1221.9 L423.9,1222.0 L419.6,1222.1 L415.3,1222.2 L411.0,1222.2 L406.7,1222.3 L402.4,1222.3 L398.1,1222.3 L393.7,1222.3 L389.4,1222.3 L385.1,1222.3 L380.8,1222.3 L376.5,1222.3 L372.2,1222.3 L367.9,1222.3 L363.6,1222.3 L359.3,1222.3 L355.0,1222.3 L350.7,1222.3 L346.4,1222.3 L342.1,1222.3 L337.8,1222.3 L333.5,1222.3 L329.2,1222.3 L324.9,1222.3 L320.6,1222.3 L316.2,1222.3 L311.9,1222.3 L307.6,1222.3 L303.3,1222.3 L299.0,1222.3 L294.7,1222.3 L290.4,1222.3 L286.1,1222.3 L281.8,1222.3 Z" fill="#e8a9a3" fill-opacity="0.5" stroke="#000" stroke-width="2.9" stroke-linejoin="round"/>
<path d="M281.8,1223.3 L286.1,1225.1 L290.4,1229.2 L294.7,1233.4 L299.0,1236.2 L303.3,1237.5 L307.6,1237.9 L311.9,1238.1 L316.2,1238.1 L320.6,1238.0 L324.9,1237.7 L329.2,1237.1 L333.5,1236.0 L337.8,1234.7 L342.1,1233.4 L346.4,1232.9 L350.7,1233.4 L355.0,1234.6 L359.3,1235.9 L363.6,1237.0 L367.9,1237.6 L372.2,1237.9 L376.5,1238.1 L380.8,1238.1 L385.1,1238.0 L389.4,1237.8 L393.7,1237.4 L398.1,1236.6 L402.4,1235.7 L406.7,1234.9 L411.0,1234.5 L415.3,1234.9 L419.6,1235.7 L423.9,1236.7 L428.2,1237.4 L432.5,1237.8 L436.8,1238.0 L441.1,1238.1 L445.4,1238.1 L449.7,1238.1 L454.0,1238.0 L458.3,1237.8 L462.6,1237.5 L466.9,1237.1 L471.2,1236.8 L475.6,1236.6 L479.9,1236.8 L484.2,1237.1 L488.5,1237.5 L492.8,1237.8 L497.1,1238.0 L501.4,1238.1 L505.7,1238.1 L510.0,1238.1 L514.3,1238.1 L518.6,1238.1 L522.9,1238.0 L527.2,1237.9 L531.5,1237.7 L535.8,1237.6 L540.1,1237.5 L544.4,1237.6 L548.7,1237.7 L553.0,1237.9 L557.4,1238.0 L561.7,1238.0 L566.0,1238.1 L570.3,1238.1 L574.6,1238.1 L578.9,1238.1 L583.2,1238.1 L587.5,1238.1 L591.8,1238.1 L596.1,1238.1 L600.4,1238.1 L604.7,1238.1 L609.0,1238.1 L613.3,1238.1 L617.6,1238.1 L621.9,1238.1 L626.2,1238.1 L630.5,1238.1 L634.9,1238.1 L639.2,1238.1 L643.5,1238.1 L647.8,1238.1 L652.1,1238.1 L656.4,1238.0 L660.7,1237.9 L665.0,1237.8 L669.3,1237.8 L669.3,1238.4 L665.0,1238.4 L660.7,1238.3 L656.4,1238.2 L652.1,1238.1 L647.8,1238.1 L643.5,1238.1 L639.2,1238.1 L634.9,1238.1 L630.5,1238.1 L626.2,1238.1 L621.9,1238.1 L617.6,1238.1 L613.3,1238.1 L609.0,1238.1 L604.7,1238.1 L600.4,1238.1 L596.1,1238.1 L591.8,1238.1 L587.5,1238.1 L583.2,1238.1 L578.9,1238.1 L574.6,1238.1 L570.3,1238.1 L566.0,1238.1 L561.7,1238.2 L557.4,1238.2 L553.0,1238.3 L548.7,1238.5 L544.4,1238.6 L540.1,1238.7 L535.8,1238.6 L531.5,1238.5 L527.2,1238.3 L522.9,1238.2 L518.6,1238.1 L514.3,1238.1 L510.0,1238.1 L505.7,1238.1 L501.4,1238.1 L497.1,1238.2 L492.8,1238.4 L488.5,1238.7 L484.2,1239.1 L479.9,1239.4 L475.6,1239.6 L471.2,1239.4 L466.9,1239.1 L462.6,1238.7 L458.3,1238.4 L454.0,1238.2 L449.7,1238.1 L445.4,1238.1 L441.1,1238.1 L436.8,1238.2 L432.5,1238.4 L428.2,1238.8 L423.9,1239.5 L419.6,1240.5 L415.3,1241.3 L411.0,1241.7 L406.7,1241.3 L402.4,1240.5 L398.1,1239.6 L393.7,1238.8 L389.4,1238.4 L385.1,1238.2 L380.8,1238.1 L376.5,1238.1 L372.2,1238.3 L367.9,1238.6 L363.6,1239.2 L359.3,1240.3 L355.0,1241.6 L350.7,1242.8 L346.4,1243.3 L342.1,1242.8 L337.8,1241.5 L333.5,1240.2 L329.2,1239.1 L324.9,1238.5 L320.6,1238.2 L316.2,1238.1 L311.9,1238.1 L307.6,1238.3 L303.3,1238.7 L299.0,1240.0 L294.7,1242.8 L290.4,1247.0 L286.1,1251.1 L281.8,1252.9 Z" fill="#9cbcd8" fill-opacity="0.5" stroke="#000" stroke-width="2.9" stroke-linejoin="round"/>
<path d="M410.84,1197.30 L421.04,1207.50 L410.84,1217.70 L400.64,1207.50 Z" fill="#d13c13"/>
<path d="M281.80,1227.90 L292.00,1238.10 L281.80,1248.30 L271.60,1238.10 Z" fill="#d13c13"/>
<path d="M281.8,1291.1 L286.1,1291.1 L290.4,1291.2 L294.7,1291.4 L299.0,1291.6 L303.3,1291.9 L307.6,1292.3 L311.9,1292.7 L316.2,1293.1 L320.6,1293.6 L324.9,1294.1 L329.2,1294.7 L333.5,1295.2 L337.8,1295.8 L342.1,1296.4 L346.4,1297.0 L350.7,1297.6 L355.0,1298.2 L359.3,1298.8 L363.6,1299.4 L367.9,1299.9 L372.2,1300.5 L376.5,1301.0 L380.8,1301.4 L385.1,1301.9 L389.4,1302.3 L393.7,1302.7 L398.1,1303.1 L402.4,1303.4 L406.7,1303.7 L411.0,1304.0 L415.3,1304.2 L419.6,1304.4 L423.9,1304.6 L428.2,1304.8 L432.5,1305.0 L436.8,1305.1 L441.1,1305.2 L445.4,1305.3 L449.7,1305.4 L454.0,1305.5 L458.3,1305.5 L462.6,1305.6 L466.9,1305.6 L471.2,1305.6 L475.6,1305.7 L479.9,1305.7 L484.2,1305.7 L488.5,1305.7 L492.8,1305.6 L497.1,1305.6 L501.4,1305.6 L505.7,1305.5 L510.0,1305.5 L514.3,1305.4 L518.6,1305.4 L522.9,1305.3 L527.2,1305.2 L531.5,1305.1 L535.8,1304.9 L540.1,1304.8 L544.4,1304.6 L548.7,1304.5 L553.0,1304.3 L557.4,1304.1 L561.7,1303.9 L566.0,1303.6 L570.3,1303.4 L574.6,1303.1 L578.9,1302.8 L583.2,1302.5 L587.5,1302.2 L591.8,1301.9 L596.1,1301.5 L600.4,1301.2 L604.7,1300.8 L609.0,1300.5 L613.3,1300.1 L617.6,1299.8 L621.9,1299.5 L626.2,1299.2 L630.5,1298.9 L634.9,1298.6 L639.2,1298.4 L643.5,1298.1 L647.8,1297.9 L652.1,1297.8 L656.4,1297.6 L660.7,1297.5 L665.0,1297.5 L669.3,1297.5 L669.3,1314.3 L665.0,1314.3 L660.7,1314.3 L656.4,1314.2 L652.1,1314.0 L647.8,1313.9 L643.5,1313.7 L639.2,1313.4 L634.9,1313.2 L630.5,1312.9 L626.2,1312.6 L621.9,1312.3 L617.6,1312.0 L613.3,1311.7 L609.0,1311.3 L604.7,1311.0 L600.4,1310.6 L596.1,1310.3 L591.8,1309.9 L587.5,1309.6 L583.2,1309.3 L578.9,1309.0 L574.6,1308.7 L570.3,1308.4 L566.0,1308.2 L561.7,1307.9 L557.4,1307.7 L553.0,1307.5 L548.7,1307.3 L544.4,1307.2 L540.1,1307.0 L535.8,1306.9 L531.5,1306.7 L527.2,1306.6 L522.9,1306.5 L518.6,1306.4 L514.3,1306.4 L510.0,1306.3 L505.7,1306.3 L501.4,1306.2 L497.1,1306.2 L492.8,1306.2 L488.5,1306.1 L484.2,1306.1 L479.9,1306.1 L475.6,1306.1 L471.2,1306.2 L466.9,1306.2 L462.6,1306.2 L458.3,1306.3 L454.0,1306.3 L449.7,1306.4 L445.4,1306.5 L441.1,1306.6 L436.8,1306.7 L432.5,1306.8 L428.2,1307.0 L423.9,1307.2 L419.6,1307.4 L415.3,1307.6 L411.0,1307.8 L406.7,1308.1 L402.4,1308.4 L398.1,1308.7 L393.7,1309.1 L389.4,1309.5 L385.1,1309.9 L380.8,1310.4 L376.5,1310.8 L372.2,1311.3 L367.9,1311.9 L363.6,1312.4 L359.3,1313.0 L355.0,1313.6 L350.7,1314.2 L346.4,1314.8 L342.1,1315.4 L337.8,1316.0 L333.5,1316.6 L329.2,1317.1 L324.9,1317.7 L320.6,1318.2 L316.2,1318.7 L311.9,1319.1 L307.6,1319.5 L303.3,1319.9 L299.0,1320.2 L294.7,1320.4 L290.4,1320.6 L286.1,1320.7 L281.8,1320.7 Z" fill="#e8a9a3" fill-opacity="0.5" stroke="#000" stroke-width="2.9" stroke-linejoin="round"/>
<path d="M281.8,1321.7 L286.1,1321.8 L290.4,1322.3 L294.7,1322.9 L299.0,1323.8 L303.3,1324.9 L307.6,1326.0 L311.9,1327.3 L316.2,1328.5 L320.6,1329.7 L324.9,1330.9 L329.2,1331.9 L333.5,1332.8 L337.8,1333.6 L342.1,1334.3 L346.4,1334.8 L350.7,1335.2 L355.0,1335.6 L359.3,1335.8 L363.6,1336.0 L367.9,1336.2 L372.2,1336.3 L376.5,1336.4 L380.8,1336.4 L385.1,1336.4 L389.4,1336.5 L393.7,1336.5 L398.1,1336.5 L402.4,1336.5 L406.7,1336.5 L411.0,1336.5 L415.3,1336.5 L419.6,1336.5 L423.9,1336.5 L428.2,1336.5 L432.5,1336.5 L436.8,1336.5 L441.1,1336.5 L445.4,1336.5 L449.7,1336.5 L454.0,1336.5 L458.3,1336.5 L462.6,1336.5 L466.9,1336.5 L471.2,1336.5 L475.6,1336.5 L479.9,1336.5 L484.2,1336.5 L488.5,1336.5 L492.8,1336.5 L497.1,1336.5 L501.4,1336.5 L505.7,1336.5 L510.0,1336.5 L514.3,1336.5 L518.6,1336.5 L522.9,1336.5 L527.2,1336.5 L531.5,1336.5 L535.8,1336.5 L540.1,1336.5 L544.4,1336.5 L548.7,1336.5 L553.0,1336.5 L557.4,1336.5 L561.7,1336.5 L566.0,1336.5 L570.3,1336.5 L574.6,1336.5 L578.9,1336.5 L583.2,1336.5 L587.5,1336.5 L591.8,1336.4 L596.1,1336.4 L600.4,1336.4 L604.7,1336.3 L609.0,1336.2 L613.3,1336.1 L617.6,1335.9 L621.9,1335.7 L626.2,1335.5 L630.5,1335.2 L634.9,1334.9 L639.2,1334.6 L643.5,1334.2 L647.8,1333.9 L652.1,1333.6 L656.4,1333.3 L660.7,1333.1 L665.0,1333.0 L669.3,1332.9 L669.3,1340.1 L665.0,1340.0 L660.7,1339.9 L656.4,1339.7 L652.1,1339.4 L647.8,1339.1 L643.5,1338.8 L639.2,1338.4 L634.9,1338.1 L630.5,1337.8 L626.2,1337.5 L621.9,1337.3 L617.6,1337.1 L613.3,1336.9 L609.0,1336.8 L604.7,1336.7 L600.4,1336.6 L596.1,1336.6 L591.8,1336.6 L587.5,1336.5 L583.2,1336.5 L578.9,1336.5 L574.6,1336.5 L570.3,1336.5 L566.0,1336.5 L561.7,1336.5 L557.4,1336.5 L553.0,1336.5 L548.7,1336.5 L544.4,1336.5 L540.1,1336.5 L535.8,1336.5 L531.5,1336.5 L527.2,1336.5 L522.9,1336.5 L518.6,1336.5 L514.3,1336.5 L510.0,1336.5 L505.7,1336.5 L501.4,1336.5 L497.1,1336.5 L492.8,1336.5 L488.5,1336.5 L484.2,1336.5 L479.9,1336.5 L475.6,1336.5 L471.2,1336.5 L466.9,1336.5 L462.6,1336.5 L458.3,1336.5 L454.0,1336.5 L449.7,1336.5 L445.4,1336.5 L441.1,1336.5 L436.8,1336.5 L432.5,1336.5 L428.2,1336.5 L423.9,1336.5 L419.6,1336.5 L415.3,1336.5 L411.0,1336.5 L406.7,1336.5 L402.4,1336.5 L398.1,1336.5 L393.7,1336.5 L389.4,1336.5 L385.1,1336.6 L380.8,1336.6 L376.5,1336.6 L372.2,1336.7 L367.9,1336.8 L363.6,1337.0 L359.3,1337.2 L355.0,1337.4 L350.7,1337.8 L346.4,1338.2 L342.1,1338.7 L337.8,1339.4 L333.5,1340.2 L329.2,1341.1 L324.9,1342.1 L320.6,1343.3 L316.2,1344.5 L311.9,1345.7 L307.6,1347.0 L303.3,1348.1 L299.0,1349.2 L294.7,1350.1 L290.4,1350.7 L286.1,1351.2 L281.8,1351.3 Z" fill="#9cbcd8" fill-opacity="0.5" stroke="#000" stroke-width="2.9" stroke-linejoin="round"/>
<path d="M281.80,1295.70 L292.00,1305.90 L281.80,1316.10 L271.60,1305.90 Z" fill="#d13c13"/>
<path d="M281.80,1326.30 L292.00,1336.50 L281.80,1346.70 L271.60,1336.50 Z" fill="#d13c13"/>
<path d="M281.8,1359.5 L286.1,1359.5 L290.4,1359.6 L294.7,1359.7 L299.0,1359.9 L303.3,1360.1 L307.6,1360.4 L311.9,1360.8 L316.2,1361.1 L320.6,1361.6 L324.9,1362.0 L329.2,1362.5 L333.5,1363.0 L337.8,1363.5 L342.1,1364.1 L346.4,1364.6 L350.7,1365.2 L355.0,1365.7 L359.3,1366.3 L363.6,1366.8 L367.9,1367.3 L372.2,1367.9 L376.5,1368.4 L380.8,1368.8 L385.1,1369.3 L389.4,1369.7 L393.7,1370.2 L398.1,1370.6 L402.4,1370.9 L406.7,1371.3 L411.0,1371.6 L415.3,1371.9 L419.6,1372.1 L423.9,1372.4 L428.2,1372.6 L432.5,1372.8 L436.8,1372.9 L441.1,1373.1 L445.4,1373.2 L449.7,1373.3 L454.0,1373.4 L458.3,1373.5 L462.6,1373.6 L466.9,1373.6 L471.2,1373.6 L475.6,1373.6 L479.9,1373.6 L484.2,1373.6 L488.5,1373.6 L492.8,1373.5 L497.1,1373.5 L501.4,1373.4 L505.7,1373.3 L510.0,1373.2 L514.3,1373.0 L518.6,1372.9 L522.9,1372.7 L527.2,1372.5 L531.5,1372.2 L535.8,1372.0 L540.1,1371.7 L544.4,1371.4 L548.7,1371.1 L553.0,1370.8 L557.4,1370.4 L561.7,1370.0 L566.0,1369.6 L570.3,1369.2 L574.6,1368.7 L578.9,1368.2 L583.2,1367.8 L587.5,1367.3 L591.8,1366.7 L596.1,1366.2 L600.4,1365.7 L604.7,1365.2 L609.0,1364.7 L613.3,1364.2 L617.6,1363.7 L621.9,1363.2 L626.2,1362.8 L630.5,1362.3 L634.9,1361.9 L639.2,1361.6 L643.5,1361.3 L647.8,1361.0 L652.1,1360.8 L656.4,1360.6 L660.7,1360.4 L665.0,1360.4 L669.3,1360.3 L669.3,1388.2 L665.0,1388.1 L660.7,1388.1 L656.4,1387.9 L652.1,1387.7 L647.8,1387.5 L643.5,1387.2 L639.2,1386.9 L634.9,1386.6 L630.5,1386.2 L626.2,1385.7 L621.9,1385.3 L617.6,1384.8 L613.3,1384.3 L609.0,1383.8 L604.7,1383.3 L600.4,1382.8 L596.1,1382.3 L591.8,1381.8 L587.5,1381.2 L583.2,1380.7 L578.9,1380.3 L574.6,1379.8 L570.3,1379.3 L566.0,1378.9 L561.7,1378.5 L557.4,1378.1 L553.0,1377.7 L548.7,1377.4 L544.4,1377.1 L540.1,1376.8 L535.8,1376.5 L531.5,1376.3 L527.2,1376.0 L522.9,1375.8 L518.6,1375.6 L514.3,1375.5 L510.0,1375.3 L505.7,1375.2 L501.4,1375.1 L497.1,1375.0 L492.8,1375.0 L488.5,1374.9 L484.2,1374.9 L479.9,1374.9 L475.6,1374.9 L471.2,1374.9 L466.9,1374.9 L462.6,1374.9 L458.3,1375.0 L454.0,1375.1 L449.7,1375.2 L445.4,1375.3 L441.1,1375.4 L436.8,1375.6 L432.5,1375.7 L428.2,1375.9 L423.9,1376.1 L419.6,1376.4 L415.3,1376.6 L411.0,1376.9 L406.7,1377.2 L402.4,1377.6 L398.1,1377.9 L393.7,1378.3 L389.4,1378.8 L385.1,1379.2 L380.8,1379.7 L376.5,1380.1 L372.2,1380.6 L367.9,1381.2 L363.6,1381.7 L359.3,1382.2 L355.0,1382.8 L350.7,1383.3 L346.4,1383.9 L342.1,1384.4 L337.8,1385.0 L333.5,1385.5 L329.2,1386.0 L324.9,1386.5 L320.6,1386.9 L316.2,1387.4 L311.9,1387.7 L307.6,1388.1 L303.3,1388.4 L299.0,1388.6 L294.7,1388.8 L290.4,1388.9 L286.1,1389.0 L281.8,1389.0 Z" fill="#e8a9a3" fill-opacity="0.5" stroke="#000" stroke-width="2.9" stroke-linejoin="round"/>
<path d="M281.8,1390.0 L286.1,1390.2 L290.4,1390.5 L294.7,1391.0 L299.0,1391.7 L303.3,1392.6 L307.6,1393.6 L311.9,1394.7 L316.2,1395.8 L320.6,1396.9 L324.9,1397.9 L329.2,1399.0 L333.5,1399.9 L337.8,1400.8 L342.1,1401.5 L346.4,1402.2 L350.7,1402.7 L355.0,1403.2 L359.3,1403.6 L363.6,1403.9 L367.9,1404.1 L372.2,1404.3 L376.5,1404.5 L380.8,1404.6 L385.1,1404.7 L389.4,1404.7 L393.7,1404.8 L398.1,1404.8 L402.4,1404.8 L406.7,1404.8 L411.0,1404.8 L415.3,1404.8 L419.6,1404.8 L423.9,1404.8 L428.2,1404.8 L432.5,1404.8 L436.8,1404.8 L441.1,1404.8 L445.4,1404.8 L449.7,1404.8 L454.0,1404.8 L458.3,1404.8 L462.6,1404.8 L466.9,1404.8 L471.2,1404.8 L475.6,1404.8 L479.9,1404.8 L484.2,1404.8 L488.5,1404.8 L492.8,1404.8 L497.1,1404.8 L501.4,1404.8 L505.7,1404.8 L510.0,1404.8 L514.3,1404.8 L518.6,1404.8 L522.9,1404.8 L527.2,1404.8 L531.5,1404.8 L535.8,1404.8 L540.1,1404.8 L544.4,1404.8 L548.7,1404.8 L553.0,1404.8 L557.4,1404.8 L561.7,1404.8 L566.0,1404.8 L570.3,1404.8 L574.6,1404.8 L578.9,1404.7 L583.2,1404.7 L587.5,1404.6 L591.8,1404.5 L596.1,1404.3 L600.4,1404.2 L604.7,1404.0 L609.0,1403.7 L613.3,1403.4 L617.6,1403.1 L621.9,1402.7 L626.2,1402.3 L630.5,1401.8 L634.9,1401.3 L639.2,1400.9 L643.5,1400.4 L647.8,1399.9 L652.1,1399.6 L656.4,1399.2 L660.7,1399.0 L665.0,1398.8 L669.3,1398.8 L669.3,1410.9 L665.0,1410.9 L660.7,1410.7 L656.4,1410.5 L652.1,1410.1 L647.8,1409.8 L643.5,1409.3 L639.2,1408.8 L634.9,1408.4 L630.5,1407.9 L626.2,1407.4 L621.9,1407.0 L617.6,1406.6 L613.3,1406.3 L609.0,1406.0 L604.7,1405.7 L600.4,1405.5 L596.1,1405.4 L591.8,1405.2 L587.5,1405.1 L583.2,1405.0 L578.9,1405.0 L574.6,1404.9 L570.3,1404.9 L566.0,1404.9 L561.7,1404.9 L557.4,1404.9 L553.0,1404.9 L548.7,1404.9 L544.4,1404.9 L540.1,1404.9 L535.8,1404.9 L531.5,1404.9 L527.2,1404.9 L522.9,1404.9 L518.6,1404.9 L514.3,1404.9 L510.0,1404.9 L505.7,1404.9 L501.4,1404.9 L497.1,1404.9 L492.8,1404.9 L488.5,1404.9 L484.2,1404.9 L479.9,1404.9 L475.6,1404.9 L471.2,1404.9 L466.9,1404.9 L462.6,1404.9 L458.3,1404.9 L454.0,1404.9 L449.7,1404.9 L445.4,1404.9 L441.1,1404.9 L436.8,1404.9 L432.5,1404.9 L428.2,1404.9 L423.9,1404.9 L419.6,1404.9 L415.3,1404.9 L411.0,1404.9 L406.7,1404.9 L402.4,1404.9 L398.1,1404.9 L393.7,1404.9 L389.4,1405.0 L385.1,1405.0 L380.8,1405.1 L376.5,1405.2 L372.2,1405.4 L367.9,1405.6 L363.6,1405.8 L359.3,1406.1 L355.0,1406.5 L350.7,1407.0 L346.4,1407.5 L342.1,1408.2 L337.8,1408.9 L333.5,1409.8 L329.2,1410.7 L324.9,1411.8 L320.6,1412.8 L316.2,1413.9 L311.9,1415.0 L307.6,1416.1 L303.3,1417.1 L299.0,1418.0 L294.7,1418.7 L290.4,1419.2 L286.1,1419.5 L281.8,1419.6 Z" fill="#9cbcd8" fill-opacity="0.5" stroke="#000" stroke-width="2.9" stroke-linejoin="round"/>
<path d="M281.80,1364.05 L292.00,1374.25 L281.80,1384.45 L271.60,1374.25 Z" fill="#d13c13"/>
<path d="M281.80,1394.65 L292.00,1404.85 L281.80,1415.05 L271.60,1404.85 Z" fill="#d13c13"/>
<path d="M281.8,1431.9 L286.1,1432.0 L290.4,1432.0 L294.7,1432.2 L299.0,1432.3 L303.3,1432.6 L307.6,1432.8 L311.9,1433.1 L316.2,1433.5 L320.6,1433.8 L324.9,1434.2 L329.2,1434.6 L333.5,1435.1 L337.8,1435.5 L342.1,1436.0 L346.4,1436.4 L350.7,1436.9 L355.0,1437.3 L359.3,1437.7 L363.6,1438.1 L367.9,1438.5 L372.2,1438.9 L376.5,1439.3 L380.8,1439.6 L385.1,1439.9 L389.4,1440.2 L393.7,1440.5 L398.1,1440.8 L402.4,1441.0 L406.7,1441.2 L411.0,1441.4 L415.3,1441.5 L419.6,1441.7 L423.9,1441.8 L428.2,1441.9 L432.5,1442.0 L436.8,1442.1 L441.1,1442.2 L445.4,1442.2 L449.7,1442.3 L454.0,1442.3 L458.3,1442.3 L462.6,1442.3 L466.9,1442.3 L471.2,1442.3 L475.6,1442.3 L479.9,1442.3 L484.2,1442.3 L488.5,1442.2 L492.8,1442.2 L497.1,1442.1 L501.4,1442.0 L505.7,1441.9 L510.0,1441.8 L514.3,1441.7 L518.6,1441.5 L522.9,1441.3 L527.2,1441.2 L531.5,1440.9 L535.8,1440.7 L540.1,1440.4 L544.4,1440.1 L548.7,1439.8 L553.0,1439.5 L557.4,1439.1 L561.7,1438.7 L566.0,1438.3 L570.3,1437.8 L574.6,1437.3 L578.9,1436.8 L583.2,1436.3 L587.5,1435.8 L591.8,1435.2 L596.1,1434.6 L600.4,1434.0 L604.7,1433.4 L609.0,1432.9 L613.3,1432.3 L617.6,1431.7 L621.9,1431.2 L626.2,1430.6 L630.5,1430.2 L634.9,1429.7 L639.2,1429.3 L643.5,1428.9 L647.8,1428.6 L652.1,1428.3 L656.4,1428.1 L660.7,1427.9 L665.0,1427.8 L669.3,1427.8 L669.3,1457.4 L665.0,1457.4 L660.7,1457.3 L656.4,1457.1 L652.1,1456.9 L647.8,1456.6 L643.5,1456.3 L639.2,1455.9 L634.9,1455.5 L630.5,1455.0 L626.2,1454.6 L621.9,1454.0 L617.6,1453.5 L613.3,1452.9 L609.0,1452.3 L604.7,1451.8 L600.4,1451.2 L596.1,1450.6 L591.8,1450.0 L587.5,1449.4 L583.2,1448.9 L578.9,1448.4 L574.6,1447.9 L570.3,1447.4 L566.0,1446.9 L561.7,1446.5 L557.4,1446.1 L553.0,1445.7 L548.7,1445.4 L544.4,1445.1 L540.1,1444.8 L535.8,1444.5 L531.5,1444.3 L527.2,1444.0 L522.9,1443.9 L518.6,1443.7 L514.3,1443.5 L510.0,1443.4 L505.7,1443.3 L501.4,1443.2 L497.1,1443.1 L492.8,1443.0 L488.5,1443.0 L484.2,1442.9 L479.9,1442.9 L475.6,1442.9 L471.2,1442.9 L466.9,1442.9 L462.6,1442.9 L458.3,1442.9 L454.0,1442.9 L449.7,1442.9 L445.4,1443.0 L441.1,1443.0 L436.8,1443.1 L432.5,1443.2 L428.2,1443.3 L423.9,1443.4 L419.6,1443.5 L415.3,1443.7 L411.0,1443.8 L406.7,1444.0 L402.4,1444.2 L398.1,1444.4 L393.7,1444.7 L389.4,1445.0 L385.1,1445.3 L380.8,1445.6 L376.5,1445.9 L372.2,1446.3 L367.9,1446.7 L363.6,1447.1 L359.3,1447.5 L355.0,1447.9 L350.7,1448.3 L346.4,1448.8 L342.1,1449.2 L337.8,1449.7 L333.5,1450.1 L329.2,1450.6 L324.9,1451.0 L320.6,1451.4 L316.2,1451.7 L311.9,1452.1 L307.6,1452.4 L303.3,1452.6 L299.0,1452.9 L294.7,1453.0 L290.4,1453.2 L286.1,1453.2 L281.8,1453.3 Z" fill="#e8a9a3" fill-opacity="0.5" stroke="#000" stroke-width="2.9" stroke-linejoin="round"/>
<path d="M281.8,1458.4 L286.1,1458.5 L290.4,1458.8 L294.7,1459.3 L299.0,1459.9 L303.3,1460.7 L307.6,1461.6 L311.9,1462.6 L316.2,1463.6 L320.6,1464.7 L324.9,1465.7 L329.2,1466.7 L333.5,1467.7 L337.8,1468.5 L342.1,1469.3 L346.4,1470.0 L350.7,1470.6 L355.0,1471.1 L359.3,1471.6 L363.6,1471.9 L367.9,1472.2 L372.2,1472.5 L376.5,1472.7 L380.8,1472.8 L385.1,1472.9 L389.4,1473.0 L393.7,1473.1 L398.1,1473.1 L402.4,1473.1 L406.7,1473.2 L411.0,1473.2 L415.3,1473.2 L419.6,1473.2 L423.9,1473.2 L428.2,1473.2 L432.5,1473.2 L436.8,1473.2 L441.1,1473.2 L445.4,1473.2 L449.7,1473.2 L454.0,1473.2 L458.3,1473.2 L462.6,1473.2 L466.9,1473.2 L471.2,1473.2 L475.6,1473.2 L479.9,1473.2 L484.2,1473.2 L488.5,1473.2 L492.8,1473.2 L497.1,1473.2 L501.4,1473.2 L505.7,1473.2 L510.0,1473.2 L514.3,1473.2 L518.6,1473.2 L522.9,1473.2 L527.2,1473.2 L531.5,1473.2 L535.8,1473.2 L540.1,1473.2 L544.4,1473.2 L548.7,1473.2 L553.0,1473.1 L557.4,1473.1 L561.7,1473.1 L566.0,1473.0 L570.3,1472.9 L574.6,1472.8 L578.9,1472.7 L583.2,1472.5 L587.5,1472.3 L591.8,1472.1 L596.1,1471.8 L600.4,1471.5 L604.7,1471.0 L609.0,1470.6 L613.3,1470.0 L617.6,1469.4 L621.9,1468.8 L626.2,1468.1 L630.5,1467.4 L634.9,1466.7 L639.2,1466.0 L643.5,1465.3 L647.8,1464.7 L652.1,1464.2 L656.4,1463.7 L660.7,1463.4 L665.0,1463.2 L669.3,1463.1 L669.3,1483.3 L665.0,1483.2 L660.7,1483.0 L656.4,1482.7 L652.1,1482.2 L647.8,1481.7 L643.5,1481.1 L639.2,1480.4 L634.9,1479.7 L630.5,1479.0 L626.2,1478.3 L621.9,1477.6 L617.6,1477.0 L613.3,1476.4 L609.0,1475.8 L604.7,1475.4 L600.4,1474.9 L596.1,1474.6 L591.8,1474.3 L587.5,1474.1 L583.2,1473.9 L578.9,1473.7 L574.6,1473.6 L570.3,1473.5 L566.0,1473.4 L561.7,1473.3 L557.4,1473.3 L553.0,1473.3 L548.7,1473.2 L544.4,1473.2 L540.1,1473.2 L535.8,1473.2 L531.5,1473.2 L527.2,1473.2 L522.9,1473.2 L518.6,1473.2 L514.3,1473.2 L510.0,1473.2 L505.7,1473.2 L501.4,1473.2 L497.1,1473.2 L492.8,1473.2 L488.5,1473.2 L484.2,1473.2 L479.9,1473.2 L475.6,1473.2 L471.2,1473.2 L466.9,1473.2 L462.6,1473.2 L458.3,1473.2 L454.0,1473.2 L449.7,1473.2 L445.4,1473.2 L441.1,1473.2 L436.8,1473.2 L432.5,1473.2 L428.2,1473.2 L423.9,1473.2 L419.6,1473.2 L415.3,1473.2 L411.0,1473.2 L406.7,1473.2 L402.4,1473.3 L398.1,1473.3 L393.7,1473.3 L389.4,1473.4 L385.1,1473.5 L380.8,1473.6 L376.5,1473.7 L372.2,1473.9 L367.9,1474.2 L363.6,1474.5 L359.3,1474.8 L355.0,1475.3 L350.7,1475.8 L346.4,1476.4 L342.1,1477.1 L337.8,1477.9 L333.5,1478.7 L329.2,1479.7 L324.9,1480.7 L320.6,1481.7 L316.2,1482.8 L311.9,1483.8 L307.6,1484.8 L303.3,1485.7 L299.0,1486.5 L294.7,1487.1 L290.4,1487.6 L286.1,1487.9 L281.8,1488.0 Z" fill="#9cbcd8" fill-opacity="0.5" stroke="#000" stroke-width="2.9" stroke-linejoin="round"/>
<path d="M669.30,1432.40 L679.50,1442.60 L669.30,1452.80 L659.10,1442.60 Z" fill="#d13c13"/>
<path d="M281.80,1463.00 L292.00,1473.20 L281.80,1483.40 L271.60,1473.20 Z" fill="#d13c13"/>
<path d="M281.8,1496.2 L286.1,1496.3 L290.4,1496.7 L294.7,1497.4 L299.0,1498.2 L303.3,1499.0 L307.6,1499.9 L311.9,1500.8 L316.2,1501.5 L320.6,1502.1 L324.9,1502.5 L329.2,1503.0 L333.5,1503.4 L337.8,1503.9 L342.1,1504.3 L346.4,1504.8 L350.7,1505.1 L355.0,1505.5 L359.3,1505.8 L363.6,1506.1 L367.9,1506.3 L372.2,1506.4 L376.5,1506.5 L380.8,1506.5 L385.1,1506.5 L389.4,1506.5 L393.7,1506.5 L398.1,1506.5 L402.4,1506.5 L406.7,1506.5 L411.0,1506.5 L415.3,1506.4 L419.6,1506.4 L423.9,1506.4 L428.2,1506.4 L432.5,1506.4 L436.8,1506.3 L441.1,1506.3 L445.4,1506.3 L449.7,1506.3 L454.0,1506.2 L458.3,1506.2 L462.6,1506.2 L466.9,1506.1 L471.2,1506.1 L475.6,1506.1 L479.9,1506.0 L484.2,1505.9 L488.5,1505.8 L492.8,1505.7 L497.1,1505.5 L501.4,1505.4 L505.7,1505.2 L510.0,1505.0 L514.3,1504.9 L518.6,1504.7 L522.9,1504.6 L527.2,1504.5 L531.5,1504.4 L535.8,1504.3 L540.1,1504.3 L544.4,1504.3 L548.7,1504.3 L553.0,1504.4 L557.4,1504.4 L561.7,1504.5 L566.0,1504.6 L570.3,1504.7 L574.6,1504.8 L578.9,1504.9 L583.2,1505.0 L587.5,1505.1 L591.8,1505.3 L596.1,1505.4 L600.4,1505.5 L604.7,1505.6 L609.0,1505.7 L613.3,1505.8 L617.6,1505.9 L621.9,1506.1 L626.2,1506.2 L630.5,1506.4 L634.9,1506.6 L639.2,1506.7 L643.5,1506.9 L647.8,1507.0 L652.1,1507.1 L656.4,1507.2 L660.7,1507.3 L665.0,1507.4 L669.3,1507.4 L669.3,1514.5 L665.0,1514.5 L660.7,1514.6 L656.4,1514.7 L652.1,1514.8 L647.8,1514.9 L643.5,1515.0 L639.2,1515.2 L634.9,1515.3 L630.5,1515.5 L626.2,1515.7 L621.9,1515.8 L617.6,1516.0 L613.3,1516.1 L609.0,1516.2 L604.7,1516.3 L600.4,1516.4 L596.1,1516.5 L591.8,1516.6 L587.5,1516.8 L583.2,1516.9 L578.9,1517.0 L574.6,1517.1 L570.3,1517.2 L566.0,1517.3 L561.7,1517.4 L557.4,1517.5 L553.0,1517.5 L548.7,1517.6 L544.4,1517.6 L540.1,1517.6 L535.8,1517.6 L531.5,1517.5 L527.2,1517.4 L522.9,1517.3 L518.6,1517.2 L514.3,1517.0 L510.0,1516.9 L505.7,1516.7 L501.4,1516.5 L497.1,1516.4 L492.8,1516.2 L488.5,1516.1 L484.2,1516.0 L479.9,1515.9 L475.6,1515.8 L471.2,1515.8 L466.9,1515.8 L462.6,1515.7 L458.3,1515.7 L454.0,1515.7 L449.7,1515.6 L445.4,1515.6 L441.1,1515.6 L436.8,1515.6 L432.5,1515.5 L428.2,1515.5 L423.9,1515.5 L419.6,1515.5 L415.3,1515.5 L411.0,1515.4 L406.7,1515.4 L402.4,1515.4 L398.1,1515.4 L393.7,1515.4 L389.4,1515.4 L385.1,1515.4 L380.8,1515.4 L376.5,1515.4 L372.2,1515.5 L367.9,1515.6 L363.6,1515.8 L359.3,1516.1 L355.0,1516.4 L350.7,1516.8 L346.4,1517.1 L342.1,1517.6 L337.8,1518.0 L333.5,1518.5 L329.2,1518.9 L324.9,1519.4 L320.6,1519.8 L316.2,1520.4 L311.9,1521.1 L307.6,1522.0 L303.3,1522.9 L299.0,1523.7 L294.7,1524.5 L290.4,1525.2 L286.1,1525.6 L281.8,1525.8 Z" fill="#e8a9a3" fill-opacity="0.5" stroke="#000" stroke-width="2.9" stroke-linejoin="round"/>
<path d="M281.8,1526.8 L286.1,1527.2 L290.4,1528.4 L294.7,1530.3 L299.0,1532.5 L303.3,1534.6 L307.6,1536.6 L311.9,1538.2 L316.2,1539.4 L320.6,1540.3 L324.9,1540.8 L329.2,1541.2 L333.5,1541.4 L337.8,1541.5 L342.1,1541.5 L346.4,1541.5 L350.7,1541.5 L355.0,1541.5 L359.3,1541.5 L363.6,1541.5 L367.9,1541.4 L372.2,1541.3 L376.5,1541.2 L380.8,1540.9 L385.1,1540.7 L389.4,1540.3 L393.7,1539.9 L398.1,1539.5 L402.4,1539.2 L406.7,1539.0 L411.0,1538.9 L415.3,1539.0 L419.6,1539.2 L423.9,1539.5 L428.2,1539.9 L432.5,1540.3 L436.8,1540.7 L441.1,1541.0 L445.4,1541.2 L449.7,1541.3 L454.0,1541.4 L458.3,1541.5 L462.6,1541.5 L466.9,1541.5 L471.2,1541.5 L475.6,1541.5 L479.9,1541.5 L484.2,1541.5 L488.5,1541.5 L492.8,1541.5 L497.1,1541.4 L501.4,1541.3 L505.7,1541.2 L510.0,1541.0 L514.3,1540.7 L518.6,1540.3 L522.9,1539.9 L527.2,1539.5 L531.5,1539.2 L535.8,1539.0 L540.1,1538.9 L544.4,1539.0 L548.7,1539.2 L553.0,1539.5 L557.4,1539.9 L561.7,1540.3 L566.0,1540.7 L570.3,1540.9 L574.6,1541.2 L578.9,1541.3 L583.2,1541.4 L587.5,1541.5 L591.8,1541.5 L596.1,1541.5 L600.4,1541.5 L604.7,1541.5 L609.0,1541.5 L613.3,1541.5 L617.6,1541.5 L621.9,1541.5 L626.2,1541.5 L630.5,1541.5 L634.9,1541.4 L639.2,1541.3 L643.5,1541.2 L647.8,1541.0 L652.1,1540.8 L656.4,1540.5 L660.7,1540.3 L665.0,1540.1 L669.3,1540.1 L669.3,1543.0 L665.0,1543.0 L660.7,1542.8 L656.4,1542.6 L652.1,1542.3 L647.8,1542.1 L643.5,1541.9 L639.2,1541.8 L634.9,1541.7 L630.5,1541.6 L626.2,1541.6 L621.9,1541.6 L617.6,1541.6 L613.3,1541.6 L609.0,1541.6 L604.7,1541.6 L600.4,1541.6 L596.1,1541.6 L591.8,1541.6 L587.5,1541.6 L583.2,1541.7 L578.9,1541.8 L574.6,1541.9 L570.3,1542.2 L566.0,1542.4 L561.7,1542.8 L557.4,1543.2 L553.0,1543.6 L548.7,1543.9 L544.4,1544.1 L540.1,1544.2 L535.8,1544.1 L531.5,1543.9 L527.2,1543.6 L522.9,1543.2 L518.6,1542.8 L514.3,1542.4 L510.0,1542.1 L505.7,1541.9 L501.4,1541.8 L497.1,1541.7 L492.8,1541.6 L488.5,1541.6 L484.2,1541.6 L479.9,1541.6 L475.6,1541.6 L471.2,1541.6 L466.9,1541.6 L462.6,1541.6 L458.3,1541.6 L454.0,1541.7 L449.7,1541.8 L445.4,1541.9 L441.1,1542.1 L436.8,1542.4 L432.5,1542.8 L428.2,1543.2 L423.9,1543.6 L419.6,1543.9 L415.3,1544.1 L411.0,1544.2 L406.7,1544.1 L402.4,1543.9 L398.1,1543.6 L393.7,1543.2 L389.4,1542.8 L385.1,1542.4 L380.8,1542.2 L376.5,1541.9 L372.2,1541.8 L367.9,1541.7 L363.6,1541.6 L359.3,1541.6 L355.0,1541.6 L350.7,1541.6 L346.4,1541.6 L342.1,1541.6 L337.8,1541.6 L333.5,1541.7 L329.2,1541.9 L324.9,1542.3 L320.6,1542.8 L316.2,1543.7 L311.9,1544.9 L307.6,1546.5 L303.3,1548.5 L299.0,1550.6 L294.7,1552.8 L290.4,1554.7 L286.1,1555.9 L281.8,1556.3 Z" fill="#9cbcd8" fill-opacity="0.5" stroke="#000" stroke-width="2.9" stroke-linejoin="round"/>
<path d="M281.80,1500.75 L292.00,1510.95 L281.80,1521.15 L271.60,1510.95 Z" fill="#d13c13"/>
<path d="M281.80,1531.35 L292.00,1541.55 L281.80,1551.75 L271.60,1541.55 Z" fill="#d13c13"/>
<path d="M281.8,1577.4 L285.3,1577.4 L288.8,1577.3 L292.3,1577.2 L295.8,1577.1 L299.2,1577.0 L302.7,1576.8 L306.2,1576.7 L309.7,1576.5 L313.2,1576.2 L316.7,1576.0 L320.2,1575.8 L323.7,1575.5 L327.1,1575.2 L330.6,1574.9 L334.1,1574.6 L337.6,1574.3 L341.1,1574.0 L344.6,1573.7 L348.1,1573.4 L351.6,1573.1 L355.0,1572.8 L358.5,1572.6 L362.0,1572.3 L365.5,1571.9 L369.0,1571.5 L372.5,1571.0 L376.0,1570.6 L379.5,1570.0 L382.9,1569.5 L386.4,1569.0 L389.9,1568.4 L393.4,1567.9 L396.9,1567.4 L400.4,1566.9 L403.9,1566.4 L407.4,1566.0 L410.8,1565.6 L414.3,1565.2 L417.8,1564.9 L421.3,1564.7 L424.8,1564.6 L428.3,1564.5 L431.8,1564.5 L435.2,1564.6 L438.7,1564.7 L442.2,1564.8 L445.7,1565.0 L449.2,1565.2 L452.7,1565.4 L456.2,1565.6 L459.7,1565.9 L463.2,1566.2 L466.6,1566.5 L470.1,1566.8 L473.6,1567.2 L477.1,1567.5 L480.6,1567.8 L484.1,1568.2 L487.6,1568.5 L491.1,1568.9 L494.5,1569.2 L498.0,1569.5 L501.5,1569.9 L505.0,1570.4 L508.5,1570.9 L512.0,1571.4 L515.5,1571.9 L519.0,1572.4 L522.4,1573.0 L525.9,1573.5 L529.4,1574.0 L532.9,1574.5 L536.4,1575.0 L539.9,1575.5 L543.4,1575.9 L546.9,1576.2 L550.3,1576.5 L553.8,1576.7 L557.3,1576.9 L560.8,1577.0 L564.3,1577.2 L567.8,1577.4 L571.3,1577.5 L574.8,1577.7 L578.2,1577.8 L581.7,1577.9 L585.2,1578.0 L588.7,1578.1 L592.2,1578.1 L595.7,1578.1 L595.7,1580.5 L592.2,1580.5 L588.7,1580.5 L585.2,1580.6 L581.7,1580.7 L578.2,1580.8 L574.8,1580.9 L571.3,1581.1 L567.8,1581.2 L564.3,1581.4 L560.8,1581.6 L557.3,1581.7 L553.8,1581.9 L550.3,1582.1 L546.9,1582.4 L543.4,1582.7 L539.9,1583.1 L536.4,1583.6 L532.9,1584.1 L529.4,1584.6 L525.9,1585.1 L522.4,1585.6 L519.0,1586.2 L515.5,1586.7 L512.0,1587.2 L508.5,1587.7 L505.0,1588.2 L501.5,1588.7 L498.0,1589.1 L494.5,1589.4 L491.1,1589.7 L487.6,1590.1 L484.1,1590.4 L480.6,1590.8 L477.1,1591.1 L473.6,1591.4 L470.1,1591.8 L466.6,1592.1 L463.2,1592.4 L459.7,1592.7 L456.2,1593.0 L452.7,1593.2 L449.2,1593.4 L445.7,1593.6 L442.2,1593.8 L438.7,1593.9 L435.2,1594.0 L431.8,1594.1 L428.3,1594.1 L424.8,1594.0 L421.3,1593.9 L417.8,1593.7 L414.3,1593.4 L410.8,1593.0 L407.4,1592.6 L403.9,1592.2 L400.4,1591.7 L396.9,1591.2 L393.4,1590.7 L389.9,1590.2 L386.4,1589.6 L382.9,1589.1 L379.5,1588.6 L376.0,1588.0 L372.5,1587.6 L369.0,1587.1 L365.5,1586.7 L362.0,1586.3 L358.5,1586.0 L355.0,1585.8 L351.6,1585.5 L348.1,1585.2 L344.6,1584.9 L341.1,1584.6 L337.6,1584.3 L334.1,1584.0 L330.6,1583.7 L327.1,1583.4 L323.7,1583.1 L320.2,1582.8 L316.7,1582.6 L313.2,1582.4 L309.7,1582.1 L306.2,1581.9 L302.7,1581.8 L299.2,1581.6 L295.8,1581.5 L292.3,1581.4 L288.8,1581.3 L285.3,1581.2 L281.8,1581.2 Z" fill="#e8a9a3" fill-opacity="0.5" stroke="#000" stroke-width="2.9" stroke-linejoin="round"/>
<path d="M281.8,1605.0 L286.1,1605.0 L290.4,1605.0 L294.7,1604.9 L299.0,1604.8 L303.3,1604.7 L307.6,1604.6 L311.9,1604.4 L316.2,1604.3 L320.6,1604.1 L324.9,1603.9 L329.2,1603.7 L333.5,1603.5 L337.8,1603.3 L342.1,1603.1 L346.4,1602.8 L350.7,1602.4 L355.0,1601.8 L359.3,1601.2 L363.6,1600.6 L367.9,1599.9 L372.2,1599.2 L376.5,1598.5 L380.8,1597.8 L385.1,1597.1 L389.4,1596.6 L393.7,1596.0 L398.1,1595.6 L402.4,1595.3 L406.7,1595.1 L411.0,1595.1 L415.3,1595.2 L419.6,1595.3 L423.9,1595.4 L428.2,1595.6 L432.5,1595.9 L436.8,1596.2 L441.1,1596.5 L445.4,1596.9 L449.7,1597.3 L454.0,1597.7 L458.3,1598.1 L462.6,1598.5 L466.9,1599.0 L471.2,1599.4 L475.6,1599.8 L479.9,1600.3 L484.2,1600.9 L488.5,1601.5 L492.8,1602.2 L497.1,1602.9 L501.4,1603.7 L505.7,1604.4 L510.0,1605.1 L514.3,1605.7 L518.6,1606.3 L522.9,1606.7 L527.2,1607.2 L531.5,1607.7 L535.8,1608.1 L540.1,1608.5 L544.4,1608.8 L548.7,1609.0 L553.0,1609.2 L557.4,1609.2 L561.7,1609.2 L566.0,1609.3 L570.3,1609.3 L574.6,1609.3 L578.9,1609.3 L583.2,1609.4 L587.5,1609.4 L591.8,1609.4 L596.1,1609.4 L600.4,1609.4 L604.7,1609.4 L609.0,1609.4 L613.3,1609.5 L617.6,1609.5 L621.9,1609.5 L626.2,1609.5 L630.5,1609.5 L634.9,1609.5 L639.2,1609.6 L643.5,1609.6 L647.8,1609.6 L652.1,1609.6 L656.4,1609.6 L660.7,1609.6 L665.0,1609.6 L669.3,1609.6 L669.3,1610.2 L665.0,1610.2 L660.7,1610.2 L656.4,1610.2 L652.1,1610.2 L647.8,1610.2 L643.5,1610.2 L639.2,1610.2 L634.9,1610.3 L630.5,1610.3 L626.2,1610.3 L621.9,1610.3 L617.6,1610.3 L613.3,1610.3 L609.0,1610.4 L604.7,1610.4 L600.4,1610.4 L596.1,1610.4 L591.8,1610.4 L587.5,1610.4 L583.2,1610.4 L578.9,1610.5 L574.6,1610.5 L570.3,1610.5 L566.0,1610.5 L561.7,1610.6 L557.4,1610.6 L553.0,1610.6 L548.7,1610.8 L544.4,1611.0 L540.1,1611.3 L535.8,1611.7 L531.5,1612.1 L527.2,1612.6 L522.9,1613.1 L518.6,1613.5 L514.3,1614.1 L510.0,1614.7 L505.7,1615.4 L501.4,1616.1 L497.1,1616.9 L492.8,1617.6 L488.5,1618.3 L484.2,1618.9 L479.9,1619.5 L475.6,1620.0 L471.2,1620.4 L466.9,1620.8 L462.6,1621.3 L458.3,1621.7 L454.0,1622.1 L449.7,1622.5 L445.4,1622.9 L441.1,1623.3 L436.8,1623.6 L432.5,1623.9 L428.2,1624.2 L423.9,1624.4 L419.6,1624.5 L415.3,1624.6 L411.0,1624.7 L406.7,1624.7 L402.4,1624.5 L398.1,1624.2 L393.7,1623.8 L389.4,1623.2 L385.1,1622.7 L380.8,1622.0 L376.5,1621.3 L372.2,1620.6 L367.9,1619.9 L363.6,1619.2 L359.3,1618.6 L355.0,1618.0 L350.7,1617.4 L346.4,1617.0 L342.1,1616.7 L337.8,1616.5 L333.5,1616.3 L329.2,1616.1 L324.9,1615.9 L320.6,1615.7 L316.2,1615.5 L311.9,1615.4 L307.6,1615.2 L303.3,1615.1 L299.0,1615.0 L294.7,1614.9 L290.4,1614.8 L286.1,1614.8 L281.8,1614.8 Z" fill="#9cbcd8" fill-opacity="0.5" stroke="#000" stroke-width="2.9" stroke-linejoin="round"/>
<path d="M429.44,1569.10 L439.64,1579.30 L429.44,1589.50 L419.24,1579.30 Z" fill="#d13c13"/>
<path d="M401.93,1599.70 L412.12,1609.90 L401.93,1620.10 L391.73,1609.90 Z" fill="#d13c13"/>
<path d="M281.8,1632.9 L286.1,1632.9 L290.4,1632.9 L294.7,1632.9 L299.0,1632.9 L303.3,1633.0 L307.6,1633.0 L311.9,1633.1 L316.2,1633.2 L320.6,1633.3 L324.9,1633.3 L329.2,1633.4 L333.5,1633.5 L337.8,1633.6 L342.1,1633.7 L346.4,1633.8 L350.7,1633.9 L355.0,1634.0 L359.3,1634.1 L363.6,1634.2 L367.9,1634.3 L372.2,1634.4 L376.5,1634.5 L380.8,1634.5 L385.1,1634.6 L389.4,1634.7 L393.7,1634.7 L398.1,1634.8 L402.4,1634.8 L406.7,1634.9 L411.0,1634.9 L415.3,1635.0 L419.6,1635.0 L423.9,1635.0 L428.2,1635.1 L432.5,1635.1 L436.8,1635.2 L441.1,1635.2 L445.4,1635.2 L449.7,1635.3 L454.0,1635.3 L458.3,1635.3 L462.6,1635.3 L466.9,1635.4 L471.2,1635.4 L475.6,1635.4 L479.9,1635.4 L484.2,1635.3 L488.5,1635.3 L492.8,1635.3 L497.1,1635.3 L501.4,1635.2 L505.7,1635.2 L510.0,1635.2 L514.3,1635.1 L518.6,1635.1 L522.9,1635.0 L527.2,1635.0 L531.5,1634.9 L535.8,1634.9 L540.1,1634.8 L544.4,1634.8 L548.7,1634.7 L553.0,1634.7 L557.4,1634.7 L561.7,1634.7 L566.0,1634.6 L570.3,1634.6 L574.6,1634.6 L578.9,1634.7 L583.2,1634.7 L587.5,1634.8 L591.8,1634.8 L596.1,1634.9 L600.4,1635.0 L604.7,1635.1 L609.0,1635.2 L613.3,1635.4 L617.6,1635.5 L621.9,1635.6 L626.2,1635.7 L630.5,1635.9 L634.9,1636.0 L639.2,1636.1 L643.5,1636.2 L647.8,1636.3 L652.1,1636.4 L656.4,1636.5 L660.7,1636.5 L665.0,1636.5 L669.3,1636.6 L669.3,1658.8 L665.0,1658.8 L660.7,1658.8 L656.4,1658.8 L652.1,1658.9 L647.8,1659.0 L643.5,1659.1 L639.2,1659.2 L634.9,1659.3 L630.5,1659.4 L626.2,1659.6 L621.9,1659.7 L617.6,1659.8 L613.3,1659.9 L609.0,1660.1 L604.7,1660.2 L600.4,1660.3 L596.1,1660.4 L591.8,1660.5 L587.5,1660.5 L583.2,1660.6 L578.9,1660.6 L574.6,1660.7 L570.3,1660.7 L566.0,1660.7 L561.7,1660.6 L557.4,1660.6 L553.0,1660.6 L548.7,1660.6 L544.4,1660.5 L540.1,1660.5 L535.8,1660.4 L531.5,1660.4 L527.2,1660.3 L522.9,1660.3 L518.6,1660.2 L514.3,1660.2 L510.0,1660.1 L505.7,1660.1 L501.4,1660.1 L497.1,1660.0 L492.8,1660.0 L488.5,1660.0 L484.2,1660.0 L479.9,1659.9 L475.6,1659.9 L471.2,1659.9 L466.9,1659.9 L462.6,1660.0 L458.3,1660.0 L454.0,1660.0 L449.7,1660.0 L445.4,1660.1 L441.1,1660.1 L436.8,1660.1 L432.5,1660.2 L428.2,1660.2 L423.9,1660.3 L419.6,1660.3 L415.3,1660.3 L411.0,1660.4 L406.7,1660.4 L402.4,1660.5 L398.1,1660.5 L393.7,1660.6 L389.4,1660.6 L385.1,1660.7 L380.8,1660.8 L376.5,1660.8 L372.2,1660.9 L367.9,1661.0 L363.6,1661.1 L359.3,1661.2 L355.0,1661.3 L350.7,1661.4 L346.4,1661.5 L342.1,1661.6 L337.8,1661.7 L333.5,1661.8 L329.2,1661.9 L324.9,1662.0 L320.6,1662.0 L316.2,1662.1 L311.9,1662.2 L307.6,1662.3 L303.3,1662.3 L299.0,1662.4 L294.7,1662.4 L290.4,1662.4 L286.1,1662.4 L281.8,1662.5 Z" fill="#e8a9a3" fill-opacity="0.5" stroke="#000" stroke-width="2.9" stroke-linejoin="round"/>
<path d="M281.8,1663.5 L286.1,1663.6 L290.4,1664.2 L294.7,1665.0 L299.0,1666.2 L303.3,1667.4 L307.6,1668.8 L311.9,1670.3 L316.2,1671.6 L320.6,1672.9 L324.9,1674.0 L329.2,1675.0 L333.5,1675.8 L337.8,1676.4 L342.1,1676.8 L346.4,1677.1 L350.7,1677.3 L355.0,1677.3 L359.3,1677.2 L363.6,1677.1 L367.9,1676.8 L372.2,1676.5 L376.5,1676.2 L380.8,1675.7 L385.1,1675.3 L389.4,1674.9 L393.7,1674.5 L398.1,1674.1 L402.4,1673.9 L406.7,1673.7 L411.0,1673.7 L415.3,1673.7 L419.6,1673.9 L423.9,1674.2 L428.2,1674.5 L432.5,1674.9 L436.8,1675.3 L441.1,1675.8 L445.4,1676.2 L449.7,1676.6 L454.0,1676.9 L458.3,1677.2 L462.6,1677.5 L466.9,1677.6 L471.2,1677.7 L475.6,1677.8 L479.9,1677.8 L484.2,1677.7 L488.5,1677.6 L492.8,1677.5 L497.1,1677.3 L501.4,1677.1 L505.7,1676.8 L510.0,1676.5 L514.3,1676.2 L518.6,1675.9 L522.9,1675.6 L527.2,1675.3 L531.5,1675.2 L535.8,1675.0 L540.1,1675.0 L544.4,1675.0 L548.7,1675.1 L553.0,1675.3 L557.4,1675.6 L561.7,1675.9 L566.0,1676.2 L570.3,1676.5 L574.6,1676.8 L578.9,1677.1 L583.2,1677.3 L587.5,1677.5 L591.8,1677.7 L596.1,1677.9 L600.4,1678.0 L604.7,1678.0 L609.0,1678.1 L613.3,1678.1 L617.6,1678.1 L621.9,1678.1 L626.2,1678.0 L630.5,1677.8 L634.9,1677.6 L639.2,1677.3 L643.5,1676.9 L647.8,1676.5 L652.1,1676.1 L656.4,1675.6 L660.7,1675.3 L665.0,1675.1 L669.3,1675.0 L669.3,1681.5 L665.0,1681.4 L660.7,1681.2 L656.4,1680.9 L652.1,1680.4 L647.8,1680.0 L643.5,1679.6 L639.2,1679.2 L634.9,1678.9 L630.5,1678.7 L626.2,1678.5 L621.9,1678.4 L617.6,1678.4 L613.3,1678.4 L609.0,1678.4 L604.7,1678.5 L600.4,1678.5 L596.1,1678.6 L591.8,1678.8 L587.5,1679.0 L583.2,1679.2 L578.9,1679.4 L574.6,1679.7 L570.3,1680.0 L566.0,1680.3 L561.7,1680.6 L557.4,1680.9 L553.0,1681.2 L548.7,1681.4 L544.4,1681.5 L540.1,1681.5 L535.8,1681.5 L531.5,1681.3 L527.2,1681.2 L522.9,1680.9 L518.6,1680.6 L514.3,1680.3 L510.0,1680.0 L505.7,1679.7 L501.4,1679.4 L497.1,1679.2 L492.8,1679.0 L488.5,1678.9 L484.2,1678.8 L479.9,1678.7 L475.6,1678.7 L471.2,1678.8 L466.9,1678.9 L462.6,1679.0 L458.3,1679.3 L454.0,1679.6 L449.7,1679.9 L445.4,1680.3 L441.1,1680.7 L436.8,1681.2 L432.5,1681.6 L428.2,1682.0 L423.9,1682.3 L419.6,1682.6 L415.3,1682.8 L411.0,1682.8 L406.7,1682.8 L402.4,1682.6 L398.1,1682.4 L393.7,1682.0 L389.4,1681.6 L385.1,1681.2 L380.8,1680.8 L376.5,1680.3 L372.2,1680.0 L367.9,1679.7 L363.6,1679.4 L359.3,1679.3 L355.0,1679.2 L350.7,1679.2 L346.4,1679.4 L342.1,1679.7 L337.8,1680.1 L333.5,1680.7 L329.2,1681.5 L324.9,1682.5 L320.6,1683.6 L316.2,1684.9 L311.9,1686.2 L307.6,1687.7 L303.3,1689.1 L299.0,1690.3 L294.7,1691.5 L290.4,1692.3 L286.1,1692.9 L281.8,1693.0 Z" fill="#9cbcd8" fill-opacity="0.5" stroke="#000" stroke-width="2.9" stroke-linejoin="round"/>
<path d="M410.84,1637.45 L421.04,1647.65 L410.84,1657.85 L400.64,1647.65 Z" fill="#d13c13"/>
<path d="M281.80,1668.05 L292.00,1678.25 L281.80,1688.45 L271.60,1678.25 Z" fill="#d13c13"/>
<line x1="262.9" y1="673.3" x2="262.9" y2="1028.7" stroke="#000" stroke-width="3"/>
<line x1="254.89999999999998" y1="714.3" x2="262.9" y2="714.3" stroke="#333" stroke-width="2.8"/>
<line x1="254.89999999999998" y1="782.6" x2="262.9" y2="782.6" stroke="#333" stroke-width="2.8"/>
<line x1="254.89999999999998" y1="851.0" x2="262.9" y2="851.0" stroke="#333" stroke-width="2.8"/>
<line x1="254.89999999999998" y1="919.4" x2="262.9" y2="919.4" stroke="#333" stroke-width="2.8"/>
<line x1="254.89999999999998" y1="987.7" x2="262.9" y2="987.7" stroke="#333" stroke-width="2.8"/>
<rect x="689.6" y="674.7" width="44.9" height="352.6" fill="#f2f2f2" stroke="#c9c9c9" stroke-width="2.8"/>
<text transform="translate(703.0,851.0) rotate(90)" text-anchor="middle" font-size="23.5" fill="#1a1a1a">pre-CoV</text>
<line x1="262.9" y1="1045.1" x2="262.9" y2="1263.8" stroke="#000" stroke-width="3"/>
<line x1="254.89999999999998" y1="1086.1" x2="262.9" y2="1086.1" stroke="#333" stroke-width="2.8"/>
<line x1="254.89999999999998" y1="1154.5" x2="262.9" y2="1154.5" stroke="#333" stroke-width="2.8"/>
<line x1="254.89999999999998" y1="1222.8" x2="262.9" y2="1222.8" stroke="#333" stroke-width="2.8"/>
<rect x="689.6" y="1046.5" width="44.9" height="215.9" fill="#f2f2f2" stroke="#c9c9c9" stroke-width="2.8"/>
<text transform="translate(703.0,1154.4) rotate(90)" text-anchor="middle" font-size="23.5" fill="#1a1a1a">mental</text>
<line x1="262.9" y1="1280.2" x2="262.9" y2="1704.0" stroke="#000" stroke-width="3"/>
<line x1="254.89999999999998" y1="1321.2" x2="262.9" y2="1321.2" stroke="#333" stroke-width="2.8"/>
<line x1="254.89999999999998" y1="1389.5" x2="262.9" y2="1389.5" stroke="#333" stroke-width="2.8"/>
<line x1="254.89999999999998" y1="1457.9" x2="262.9" y2="1457.9" stroke="#333" stroke-width="2.8"/>
<line x1="254.89999999999998" y1="1526.2" x2="262.9" y2="1526.2" stroke="#333" stroke-width="2.8"/>
<line x1="254.89999999999998" y1="1594.6" x2="262.9" y2="1594.6" stroke="#333" stroke-width="2.8"/>
<line x1="254.89999999999998" y1="1663.0" x2="262.9" y2="1663.0" stroke="#333" stroke-width="2.8"/>
<rect x="689.6" y="1281.6" width="44.9" height="421.0" fill="#f2f2f2" stroke="#c9c9c9" stroke-width="2.8"/>
<text transform="translate(703.0,1492.1) rotate(90)" text-anchor="middle" font-size="23.5" fill="#1a1a1a">symptoms</text>
<text x="249.0" y="722.5" text-anchor="end" font-size="23.4" font-weight="normal" >pre-cov sleep disord.</text>
<text x="249.0" y="790.9" text-anchor="end" font-size="23.4" font-weight="normal" >freq. resp. inf.</text>
<text x="249.0" y="859.2" text-anchor="end" font-size="23.4" font-weight="normal" >daily medic.</text>
<text x="249.0" y="927.6" text-anchor="end" font-size="23.4" font-weight="normal" >comorb. absent</text>
<text x="249.0" y="995.9" text-anchor="end" font-size="23.4" font-weight="normal" ># comorb.</text>
<text x="249.0" y="1094.3" text-anchor="end" font-size="23.4" font-weight="normal" >QoL score</text>
<text x="249.0" y="1162.7" text-anchor="end" font-size="23.4" font-weight="normal" >OMH score</text>
<text x="249.0" y="1231.0" text-anchor="end" font-size="23.4" font-weight="normal" >ANX score</text>
<text x="249.0" y="1329.4" text-anchor="end" font-size="23.4" font-weight="normal" >sub-acute forgetfulness</text>
<text x="249.0" y="1397.8" text-anchor="end" font-size="23.4" font-weight="normal" >acute forgetfulness</text>
<text x="249.0" y="1466.1" text-anchor="end" font-size="23.4" font-weight="normal" >acute dizziness</text>
<text x="249.0" y="1534.5" text-anchor="end" font-size="23.4" font-weight="normal" ># sub-acute NC</text>
<text x="249.0" y="1602.8" text-anchor="end" font-size="23.4" font-weight="normal" ># acute symptoms</text>
<text x="249.0" y="1671.2" text-anchor="end" font-size="23.4" font-weight="normal" ># acute NC</text>
<line x1="261.4" y1="1704" x2="688.2" y2="1704" stroke="#000" stroke-width="3"/>
<line x1="281.8" y1="1704" x2="281.8" y2="1712.5" stroke="#333" stroke-width="2.8"/>
<text x="281.8" y="1735.0" text-anchor="middle" font-size="23.2" font-weight="normal" >0.00</text>
<line x1="378.7" y1="1704" x2="378.7" y2="1712.5" stroke="#333" stroke-width="2.8"/>
<text x="378.7" y="1735.0" text-anchor="middle" font-size="23.2" font-weight="normal" >0.25</text>
<line x1="475.6" y1="1704" x2="475.6" y2="1712.5" stroke="#333" stroke-width="2.8"/>
<text x="475.6" y="1735.0" text-anchor="middle" font-size="23.2" font-weight="normal" >0.50</text>
<line x1="572.4" y1="1704" x2="572.4" y2="1712.5" stroke="#333" stroke-width="2.8"/>
<text x="572.4" y="1735.0" text-anchor="middle" font-size="23.2" font-weight="normal" >0.75</text>
<line x1="669.3" y1="1704" x2="669.3" y2="1712.5" stroke="#333" stroke-width="2.8"/>
<text x="669.3" y="1735.0" text-anchor="middle" font-size="23.2" font-weight="normal" >1.00</text>
<text x="475.5" y="1764.6" text-anchor="middle" font-size="23.3" font-weight="normal" >Quantity, 0: min/absent, 1: max/present</text>
<line x1="827.9" y1="673.3" x2="827.9" y2="1028.7" stroke="#e3e3e3" stroke-width="2.2"/>
<line x1="921.6" y1="673.3" x2="921.6" y2="1028.7" stroke="#e3e3e3" stroke-width="2.2"/>
<line x1="1015.3" y1="673.3" x2="1015.3" y2="1028.7" stroke="#e3e3e3" stroke-width="2.2"/>
<line x1="1109.1" y1="673.3" x2="1109.1" y2="1028.7" stroke="#e3e3e3" stroke-width="2.2"/>
<line x1="1202.8" y1="673.3" x2="1202.8" y2="1028.7" stroke="#e3e3e3" stroke-width="2.2"/>
<line x1="808.6" y1="714.3" x2="1221.6" y2="714.3" stroke="#e3e3e3" stroke-width="2.2"/>
<line x1="808.6" y1="782.6" x2="1221.6" y2="782.6" stroke="#e3e3e3" stroke-width="2.2"/>
<line x1="808.6" y1="851.0" x2="1221.6" y2="851.0" stroke="#e3e3e3" stroke-width="2.2"/>
<line x1="808.6" y1="919.4" x2="1221.6" y2="919.4" stroke="#e3e3e3" stroke-width="2.2"/>
<line x1="808.6" y1="987.7" x2="1221.6" y2="987.7" stroke="#e3e3e3" stroke-width="2.2"/>
<line x1="827.9" y1="1045.1" x2="827.9" y2="1263.8" stroke="#e3e3e3" stroke-width="2.2"/>
<line x1="921.6" y1="1045.1" x2="921.6" y2="1263.8" stroke="#e3e3e3" stroke-width="2.2"/>
<line x1="1015.3" y1="1045.1" x2="1015.3" y2="1263.8" stroke="#e3e3e3" stroke-width="2.2"/>
<line x1="1109.1" y1="1045.1" x2="1109.1" y2="1263.8" stroke="#e3e3e3" stroke-width="2.2"/>
<line x1="1202.8" y1="1045.1" x2="1202.8" y2="1263.8" stroke="#e3e3e3" stroke-width="2.2"/>
<line x1="808.6" y1="1086.1" x2="1221.6" y2="1086.1" stroke="#e3e3e3" stroke-width="2.2"/>
<line x1="808.6" y1="1154.5" x2="1221.6" y2="1154.5" stroke="#e3e3e3" stroke-width="2.2"/>
<line x1="808.6" y1="1222.8" x2="1221.6" y2="1222.8" stroke="#e3e3e3" stroke-width="2.2"/>
<line x1="827.9" y1="1280.2" x2="827.9" y2="1704.0" stroke="#e3e3e3" stroke-width="2.2"/>
<line x1="921.6" y1="1280.2" x2="921.6" y2="1704.0" stroke="#e3e3e3" stroke-width="2.2"/>
<line x1="1015.3" y1="1280.2" x2="1015.3" y2="1704.0" stroke="#e3e3e3" stroke-width="2.2"/>
<line x1="1109.1" y1="1280.2" x2="1109.1" y2="1704.0" stroke="#e3e3e3" stroke-width="2.2"/>
<line x1="1202.8" y1="1280.2" x2="1202.8" y2="1704.0" stroke="#e3e3e3" stroke-width="2.2"/>
<line x1="808.6" y1="1321.2" x2="1221.6" y2="1321.2" stroke="#e3e3e3" stroke-width="2.2"/>
<line x1="808.6" y1="1389.5" x2="1221.6" y2="1389.5" stroke="#e3e3e3" stroke-width="2.2"/>
<line x1="808.6" y1="1457.9" x2="1221.6" y2="1457.9" stroke="#e3e3e3" stroke-width="2.2"/>
<line x1="808.6" y1="1526.2" x2="1221.6" y2="1526.2" stroke="#e3e3e3" stroke-width="2.2"/>
<line x1="808.6" y1="1594.6" x2="1221.6" y2="1594.6" stroke="#e3e3e3" stroke-width="2.2"/>
<line x1="808.6" y1="1663.0" x2="1221.6" y2="1663.0" stroke="#e3e3e3" stroke-width="2.2"/>
<path d="M827.9,684.2 L832.1,684.2 L836.2,684.3 L840.4,684.5 L844.6,684.7 L848.7,685.0 L852.9,685.3 L857.1,685.7 L861.2,686.1 L865.4,686.6 L869.6,687.0 L873.7,687.6 L877.9,688.1 L882.1,688.7 L886.2,689.3 L890.4,689.8 L894.5,690.4 L898.7,691.0 L902.9,691.6 L907.0,692.2 L911.2,692.7 L915.4,693.2 L919.5,693.7 L923.7,694.2 L927.9,694.7 L932.0,695.1 L936.2,695.5 L940.4,695.9 L944.5,696.2 L948.7,696.5 L952.9,696.8 L957.0,697.1 L961.2,697.3 L965.4,697.6 L969.5,697.7 L973.7,697.9 L977.9,698.1 L982.0,698.2 L986.2,698.3 L990.4,698.4 L994.5,698.5 L998.7,698.6 L1002.9,698.6 L1007.0,698.7 L1011.2,698.7 L1015.3,698.8 L1019.5,698.8 L1023.7,698.8 L1027.8,698.8 L1032.0,698.8 L1036.2,698.8 L1040.3,698.8 L1044.5,698.8 L1048.7,698.8 L1052.8,698.8 L1057.0,698.7 L1061.2,698.7 L1065.3,698.7 L1069.5,698.6 L1073.7,698.6 L1077.8,698.5 L1082.0,698.5 L1086.2,698.4 L1090.3,698.3 L1094.5,698.2 L1098.7,698.1 L1102.8,698.0 L1107.0,697.9 L1111.2,697.8 L1115.3,697.7 L1119.5,697.6 L1123.7,697.5 L1127.8,697.4 L1132.0,697.2 L1136.2,697.1 L1140.3,697.0 L1144.5,696.9 L1148.6,696.7 L1152.8,696.6 L1157.0,696.5 L1161.1,696.4 L1165.3,696.3 L1169.5,696.2 L1173.6,696.1 L1177.8,696.0 L1182.0,695.9 L1186.1,695.9 L1190.3,695.8 L1194.5,695.8 L1198.6,695.8 L1202.8,695.7 L1202.8,702.3 L1198.6,702.2 L1194.5,702.2 L1190.3,702.2 L1186.1,702.1 L1182.0,702.1 L1177.8,702.0 L1173.6,701.9 L1169.5,701.8 L1165.3,701.7 L1161.1,701.6 L1157.0,701.5 L1152.8,701.4 L1148.6,701.3 L1144.5,701.1 L1140.3,701.0 L1136.2,700.9 L1132.0,700.8 L1127.8,700.6 L1123.7,700.5 L1119.5,700.4 L1115.3,700.3 L1111.2,700.2 L1107.0,700.1 L1102.8,700.0 L1098.7,699.9 L1094.5,699.8 L1090.3,699.7 L1086.2,699.6 L1082.0,699.5 L1077.8,699.5 L1073.7,699.4 L1069.5,699.4 L1065.3,699.3 L1061.2,699.3 L1057.0,699.3 L1052.8,699.2 L1048.7,699.2 L1044.5,699.2 L1040.3,699.2 L1036.2,699.2 L1032.0,699.2 L1027.8,699.2 L1023.7,699.2 L1019.5,699.2 L1015.3,699.2 L1011.2,699.3 L1007.0,699.3 L1002.9,699.4 L998.7,699.4 L994.5,699.5 L990.4,699.6 L986.2,699.7 L982.0,699.8 L977.9,699.9 L973.7,700.1 L969.5,700.3 L965.4,700.4 L961.2,700.7 L957.0,700.9 L952.9,701.2 L948.7,701.5 L944.5,701.8 L940.4,702.1 L936.2,702.5 L932.0,702.9 L927.9,703.3 L923.7,703.8 L919.5,704.3 L915.4,704.8 L911.2,705.3 L907.0,705.8 L902.9,706.4 L898.7,707.0 L894.5,707.6 L890.4,708.2 L886.2,708.7 L882.1,709.3 L877.9,709.9 L873.7,710.4 L869.6,711.0 L865.4,711.4 L861.2,711.9 L857.1,712.3 L852.9,712.7 L848.7,713.0 L844.6,713.3 L840.4,713.5 L836.2,713.7 L832.1,713.8 L827.9,713.8 Z" fill="#e8a9a3" fill-opacity="0.5" stroke="#000" stroke-width="2.9" stroke-linejoin="round"/>
<path d="M827.9,714.8 L832.1,715.4 L836.2,716.9 L840.4,719.1 L844.6,721.6 L848.7,724.0 L852.9,725.9 L857.1,727.4 L861.2,728.3 L865.4,728.9 L869.6,729.3 L873.7,729.5 L877.9,729.5 L882.1,729.6 L886.2,729.6 L890.4,729.6 L894.5,729.6 L898.7,729.6 L902.9,729.6 L907.0,729.6 L911.2,729.6 L915.4,729.6 L919.5,729.6 L923.7,729.6 L927.9,729.6 L932.0,729.6 L936.2,729.6 L940.4,729.6 L944.5,729.6 L948.7,729.6 L952.9,729.6 L957.0,729.6 L961.2,729.6 L965.4,729.6 L969.5,729.6 L973.7,729.6 L977.9,729.6 L982.0,729.6 L986.2,729.6 L990.4,729.6 L994.5,729.6 L998.7,729.6 L1002.9,729.6 L1007.0,729.6 L1011.2,729.6 L1015.3,729.6 L1019.5,729.6 L1023.7,729.6 L1027.8,729.6 L1032.0,729.6 L1036.2,729.6 L1040.3,729.6 L1044.5,729.6 L1048.7,729.6 L1052.8,729.6 L1057.0,729.6 L1061.2,729.6 L1065.3,729.6 L1069.5,729.6 L1073.7,729.6 L1077.8,729.6 L1082.0,729.6 L1086.2,729.6 L1090.3,729.6 L1094.5,729.6 L1098.7,729.6 L1102.8,729.6 L1107.0,729.6 L1111.2,729.6 L1115.3,729.6 L1119.5,729.6 L1123.7,729.6 L1127.8,729.6 L1132.0,729.6 L1136.2,729.6 L1140.3,729.6 L1144.5,729.6 L1148.6,729.6 L1152.8,729.6 L1157.0,729.6 L1161.1,729.6 L1165.3,729.6 L1169.5,729.5 L1173.6,729.5 L1177.8,729.5 L1182.0,729.4 L1186.1,729.3 L1190.3,729.2 L1194.5,729.1 L1198.6,729.0 L1202.8,729.0 L1202.8,730.2 L1198.6,730.2 L1194.5,730.1 L1190.3,730.0 L1186.1,729.9 L1182.0,729.8 L1177.8,729.7 L1173.6,729.7 L1169.5,729.7 L1165.3,729.6 L1161.1,729.6 L1157.0,729.6 L1152.8,729.6 L1148.6,729.6 L1144.5,729.6 L1140.3,729.6 L1136.2,729.6 L1132.0,729.6 L1127.8,729.6 L1123.7,729.6 L1119.5,729.6 L1115.3,729.6 L1111.2,729.6 L1107.0,729.6 L1102.8,729.6 L1098.7,729.6 L1094.5,729.6 L1090.3,729.6 L1086.2,729.6 L1082.0,729.6 L1077.8,729.6 L1073.7,729.6 L1069.5,729.6 L1065.3,729.6 L1061.2,729.6 L1057.0,729.6 L1052.8,729.6 L1048.7,729.6 L1044.5,729.6 L1040.3,729.6 L1036.2,729.6 L1032.0,729.6 L1027.8,729.6 L1023.7,729.6 L1019.5,729.6 L1015.3,729.6 L1011.2,729.6 L1007.0,729.6 L1002.9,729.6 L998.7,729.6 L994.5,729.6 L990.4,729.6 L986.2,729.6 L982.0,729.6 L977.9,729.6 L973.7,729.6 L969.5,729.6 L965.4,729.6 L961.2,729.6 L957.0,729.6 L952.9,729.6 L948.7,729.6 L944.5,729.6 L940.4,729.6 L936.2,729.6 L932.0,729.6 L927.9,729.6 L923.7,729.6 L919.5,729.6 L915.4,729.6 L911.2,729.6 L907.0,729.6 L902.9,729.6 L898.7,729.6 L894.5,729.6 L890.4,729.6 L886.2,729.6 L882.1,729.6 L877.9,729.7 L873.7,729.7 L869.6,729.9 L865.4,730.3 L861.2,730.9 L857.1,731.8 L852.9,733.3 L848.7,735.2 L844.6,737.6 L840.4,740.1 L836.2,742.3 L832.1,743.8 L827.9,744.4 Z" fill="#9cbcd8" fill-opacity="0.5" stroke="#000" stroke-width="2.9" stroke-linejoin="round"/>
<path d="M827.90,688.80 L838.10,699.00 L827.90,709.20 L817.70,699.00 Z" fill="#d13c13"/>
<path d="M827.90,719.40 L838.10,729.60 L827.90,739.80 L817.70,729.60 Z" fill="#d13c13"/>
<path d="M827.9,752.6 L832.1,752.6 L836.2,752.7 L840.4,753.0 L844.6,753.3 L848.7,753.8 L852.9,754.2 L857.1,754.8 L861.2,755.4 L865.4,756.1 L869.6,756.8 L873.7,757.5 L877.9,758.3 L882.1,759.0 L886.2,759.7 L890.4,760.4 L894.5,761.1 L898.7,761.8 L902.9,762.4 L907.0,763.0 L911.2,763.5 L915.4,764.0 L919.5,764.5 L923.7,764.9 L927.9,765.2 L932.0,765.6 L936.2,765.9 L940.4,766.1 L944.5,766.3 L948.7,766.5 L952.9,766.6 L957.0,766.8 L961.2,766.9 L965.4,767.0 L969.5,767.1 L973.7,767.1 L977.9,767.2 L982.0,767.2 L986.2,767.2 L990.4,767.3 L994.5,767.3 L998.7,767.3 L1002.9,767.3 L1007.0,767.3 L1011.2,767.3 L1015.3,767.3 L1019.5,767.3 L1023.7,767.3 L1027.8,767.3 L1032.0,767.3 L1036.2,767.3 L1040.3,767.3 L1044.5,767.3 L1048.7,767.3 L1052.8,767.3 L1057.0,767.3 L1061.2,767.3 L1065.3,767.3 L1069.5,767.3 L1073.7,767.3 L1077.8,767.2 L1082.0,767.2 L1086.2,767.2 L1090.3,767.2 L1094.5,767.1 L1098.7,767.1 L1102.8,767.0 L1107.0,767.0 L1111.2,766.9 L1115.3,766.9 L1119.5,766.8 L1123.7,766.7 L1127.8,766.6 L1132.0,766.5 L1136.2,766.4 L1140.3,766.3 L1144.5,766.2 L1148.6,766.1 L1152.8,766.0 L1157.0,765.9 L1161.1,765.8 L1165.3,765.7 L1169.5,765.6 L1173.6,765.5 L1177.8,765.4 L1182.0,765.3 L1186.1,765.2 L1190.3,765.2 L1194.5,765.2 L1198.6,765.1 L1202.8,765.1 L1202.8,769.6 L1198.6,769.6 L1194.5,769.5 L1190.3,769.5 L1186.1,769.5 L1182.0,769.4 L1177.8,769.3 L1173.6,769.2 L1169.5,769.1 L1165.3,769.0 L1161.1,768.9 L1157.0,768.8 L1152.8,768.7 L1148.6,768.6 L1144.5,768.5 L1140.3,768.4 L1136.2,768.3 L1132.0,768.2 L1127.8,768.1 L1123.7,768.0 L1119.5,767.9 L1115.3,767.8 L1111.2,767.8 L1107.0,767.7 L1102.8,767.7 L1098.7,767.6 L1094.5,767.6 L1090.3,767.5 L1086.2,767.5 L1082.0,767.5 L1077.8,767.5 L1073.7,767.4 L1069.5,767.4 L1065.3,767.4 L1061.2,767.4 L1057.0,767.4 L1052.8,767.4 L1048.7,767.4 L1044.5,767.4 L1040.3,767.4 L1036.2,767.4 L1032.0,767.4 L1027.8,767.4 L1023.7,767.4 L1019.5,767.4 L1015.3,767.4 L1011.2,767.4 L1007.0,767.4 L1002.9,767.4 L998.7,767.4 L994.5,767.4 L990.4,767.4 L986.2,767.5 L982.0,767.5 L977.9,767.5 L973.7,767.6 L969.5,767.6 L965.4,767.7 L961.2,767.8 L957.0,767.9 L952.9,768.1 L948.7,768.2 L944.5,768.4 L940.4,768.6 L936.2,768.8 L932.0,769.1 L927.9,769.5 L923.7,769.8 L919.5,770.2 L915.4,770.7 L911.2,771.2 L907.0,771.7 L902.9,772.3 L898.7,772.9 L894.5,773.6 L890.4,774.3 L886.2,775.0 L882.1,775.7 L877.9,776.4 L873.7,777.2 L869.6,777.9 L865.4,778.6 L861.2,779.3 L857.1,779.9 L852.9,780.5 L848.7,780.9 L844.6,781.4 L840.4,781.7 L836.2,782.0 L832.1,782.1 L827.9,782.1 Z" fill="#e8a9a3" fill-opacity="0.5" stroke="#000" stroke-width="2.9" stroke-linejoin="round"/>
<path d="M827.9,783.1 L832.1,783.9 L836.2,785.9 L840.4,788.5 L844.6,791.3 L848.7,793.8 L852.9,795.5 L857.1,796.7 L861.2,797.4 L865.4,797.7 L869.6,797.9 L873.7,797.9 L877.9,797.9 L882.1,797.9 L886.2,797.9 L890.4,797.9 L894.5,797.9 L898.7,797.9 L902.9,797.9 L907.0,797.9 L911.2,797.9 L915.4,797.9 L919.5,797.9 L923.7,797.9 L927.9,797.9 L932.0,797.9 L936.2,797.9 L940.4,797.9 L944.5,797.9 L948.7,797.9 L952.9,797.9 L957.0,797.9 L961.2,797.9 L965.4,797.9 L969.5,797.9 L973.7,797.9 L977.9,797.9 L982.0,797.9 L986.2,797.9 L990.4,797.9 L994.5,797.9 L998.7,797.9 L1002.9,797.9 L1007.0,797.9 L1011.2,797.9 L1015.3,797.9 L1019.5,797.9 L1023.7,797.9 L1027.8,797.9 L1032.0,797.9 L1036.2,797.9 L1040.3,797.9 L1044.5,797.9 L1048.7,797.9 L1052.8,797.9 L1057.0,797.9 L1061.2,797.9 L1065.3,797.9 L1069.5,797.9 L1073.7,797.9 L1077.8,797.9 L1082.0,797.9 L1086.2,797.9 L1090.3,797.9 L1094.5,797.9 L1098.7,797.9 L1102.8,797.9 L1107.0,797.9 L1111.2,797.9 L1115.3,797.9 L1119.5,797.9 L1123.7,797.9 L1127.8,797.9 L1132.0,797.9 L1136.2,797.9 L1140.3,797.9 L1144.5,797.9 L1148.6,797.9 L1152.8,797.9 L1157.0,797.9 L1161.1,797.9 L1165.3,797.9 L1169.5,797.9 L1173.6,797.9 L1177.8,797.9 L1182.0,797.8 L1186.1,797.8 L1190.3,797.7 L1194.5,797.6 L1198.6,797.5 L1202.8,797.5 L1202.8,798.4 L1198.6,798.4 L1194.5,798.3 L1190.3,798.2 L1186.1,798.1 L1182.0,798.1 L1177.8,798.0 L1173.6,798.0 L1169.5,798.0 L1165.3,798.0 L1161.1,798.0 L1157.0,798.0 L1152.8,798.0 L1148.6,798.0 L1144.5,798.0 L1140.3,798.0 L1136.2,798.0 L1132.0,798.0 L1127.8,798.0 L1123.7,798.0 L1119.5,798.0 L1115.3,798.0 L1111.2,798.0 L1107.0,798.0 L1102.8,798.0 L1098.7,797.9 L1094.5,797.9 L1090.3,797.9 L1086.2,797.9 L1082.0,797.9 L1077.8,797.9 L1073.7,797.9 L1069.5,797.9 L1065.3,797.9 L1061.2,797.9 L1057.0,797.9 L1052.8,797.9 L1048.7,797.9 L1044.5,797.9 L1040.3,797.9 L1036.2,797.9 L1032.0,797.9 L1027.8,797.9 L1023.7,797.9 L1019.5,797.9 L1015.3,797.9 L1011.2,797.9 L1007.0,797.9 L1002.9,797.9 L998.7,797.9 L994.5,797.9 L990.4,797.9 L986.2,797.9 L982.0,797.9 L977.9,797.9 L973.7,797.9 L969.5,797.9 L965.4,797.9 L961.2,797.9 L957.0,797.9 L952.9,797.9 L948.7,797.9 L944.5,797.9 L940.4,797.9 L936.2,797.9 L932.0,798.0 L927.9,798.0 L923.7,798.0 L919.5,798.0 L915.4,798.0 L911.2,798.0 L907.0,798.0 L902.9,798.0 L898.7,798.0 L894.5,798.0 L890.4,798.0 L886.2,798.0 L882.1,798.0 L877.9,798.0 L873.7,798.0 L869.6,798.0 L865.4,798.2 L861.2,798.5 L857.1,799.2 L852.9,800.4 L848.7,802.1 L844.6,804.6 L840.4,807.4 L836.2,810.0 L832.1,812.0 L827.9,812.7 Z" fill="#9cbcd8" fill-opacity="0.5" stroke="#000" stroke-width="2.9" stroke-linejoin="round"/>
<path d="M827.90,757.15 L838.10,767.35 L827.90,777.55 L817.70,767.35 Z" fill="#d13c13"/>
<path d="M827.90,787.75 L838.10,797.95 L827.90,808.15 L817.70,797.95 Z" fill="#d13c13"/>
<path d="M827.9,823.1 L832.1,823.2 L836.2,823.4 L840.4,823.8 L844.6,824.3 L848.7,824.9 L852.9,825.6 L857.1,826.4 L861.2,827.2 L865.4,828.1 L869.6,828.9 L873.7,829.7 L877.9,830.5 L882.1,831.2 L886.2,831.9 L890.4,832.5 L894.5,833.0 L898.7,833.4 L902.9,833.7 L907.0,834.0 L911.2,834.2 L915.4,834.3 L919.5,834.3 L923.7,834.2 L927.9,834.1 L932.0,833.9 L936.2,833.5 L940.4,833.1 L944.5,832.7 L948.7,832.1 L952.9,831.5 L957.0,830.7 L961.2,829.9 L965.4,829.1 L969.5,828.2 L973.7,827.2 L977.9,826.3 L982.0,825.4 L986.2,824.4 L990.4,823.6 L994.5,822.8 L998.7,822.2 L1002.9,821.6 L1007.0,821.2 L1011.2,821.0 L1015.3,820.9 L1019.5,821.0 L1023.7,821.2 L1027.8,821.6 L1032.0,822.2 L1036.2,822.8 L1040.3,823.6 L1044.5,824.5 L1048.7,825.4 L1052.8,826.3 L1057.0,827.2 L1061.2,828.2 L1065.3,829.1 L1069.5,830.0 L1073.7,830.8 L1077.8,831.5 L1082.0,832.2 L1086.2,832.8 L1090.3,833.3 L1094.5,833.7 L1098.7,834.1 L1102.8,834.4 L1107.0,834.7 L1111.2,834.9 L1115.3,835.0 L1119.5,835.1 L1123.7,835.2 L1127.8,835.2 L1132.0,835.3 L1136.2,835.3 L1140.3,835.2 L1144.5,835.2 L1148.6,835.1 L1152.8,835.1 L1157.0,835.0 L1161.1,834.9 L1165.3,834.8 L1169.5,834.7 L1173.6,834.6 L1177.8,834.5 L1182.0,834.4 L1186.1,834.4 L1190.3,834.3 L1194.5,834.3 L1198.6,834.2 L1202.8,834.2 L1202.8,837.2 L1198.6,837.2 L1194.5,837.1 L1190.3,837.1 L1186.1,837.0 L1182.0,837.0 L1177.8,836.9 L1173.6,836.8 L1169.5,836.7 L1165.3,836.6 L1161.1,836.5 L1157.0,836.4 L1152.8,836.3 L1148.6,836.3 L1144.5,836.2 L1140.3,836.2 L1136.2,836.1 L1132.0,836.1 L1127.8,836.2 L1123.7,836.2 L1119.5,836.3 L1115.3,836.4 L1111.2,836.5 L1107.0,836.7 L1102.8,837.0 L1098.7,837.3 L1094.5,837.7 L1090.3,838.1 L1086.2,838.6 L1082.0,839.2 L1077.8,839.9 L1073.7,840.6 L1069.5,841.4 L1065.3,842.3 L1061.2,843.2 L1057.0,844.2 L1052.8,845.1 L1048.7,846.0 L1044.5,846.9 L1040.3,847.8 L1036.2,848.6 L1032.0,849.2 L1027.8,849.8 L1023.7,850.2 L1019.5,850.4 L1015.3,850.5 L1011.2,850.4 L1007.0,850.2 L1002.9,849.8 L998.7,849.2 L994.5,848.6 L990.4,847.8 L986.2,847.0 L982.0,846.0 L977.9,845.1 L973.7,844.2 L969.5,843.2 L965.4,842.3 L961.2,841.5 L957.0,840.7 L952.9,839.9 L948.7,839.3 L944.5,838.7 L940.4,838.3 L936.2,837.9 L932.0,837.5 L927.9,837.3 L923.7,837.2 L919.5,837.1 L915.4,837.1 L911.2,837.2 L907.0,837.4 L902.9,837.7 L898.7,838.0 L894.5,838.4 L890.4,838.9 L886.2,839.5 L882.1,840.2 L877.9,840.9 L873.7,841.7 L869.6,842.5 L865.4,843.3 L861.2,844.2 L857.1,845.0 L852.9,845.8 L848.7,846.5 L844.6,847.1 L840.4,847.6 L836.2,848.0 L832.1,848.2 L827.9,848.3 Z" fill="#e8a9a3" fill-opacity="0.5" stroke="#000" stroke-width="2.9" stroke-linejoin="round"/>
<path d="M827.9,851.5 L832.1,851.9 L836.2,853.2 L840.4,855.1 L844.6,857.2 L848.7,859.4 L852.9,861.4 L857.1,863.0 L861.2,864.2 L865.4,865.0 L869.6,865.6 L873.7,865.9 L877.9,866.1 L882.1,866.2 L886.2,866.3 L890.4,866.3 L894.5,866.3 L898.7,866.3 L902.9,866.3 L907.0,866.3 L911.2,866.3 L915.4,866.3 L919.5,866.3 L923.7,866.3 L927.9,866.3 L932.0,866.3 L936.2,866.3 L940.4,866.3 L944.5,866.3 L948.7,866.3 L952.9,866.3 L957.0,866.3 L961.2,866.3 L965.4,866.2 L969.5,866.2 L973.7,866.1 L977.9,865.9 L982.0,865.6 L986.2,865.2 L990.4,864.7 L994.5,864.0 L998.7,863.3 L1002.9,862.6 L1007.0,862.0 L1011.2,861.6 L1015.3,861.4 L1019.5,861.6 L1023.7,862.0 L1027.8,862.6 L1032.0,863.3 L1036.2,864.0 L1040.3,864.7 L1044.5,865.2 L1048.7,865.6 L1052.8,865.9 L1057.0,866.1 L1061.2,866.2 L1065.3,866.2 L1069.5,866.3 L1073.7,866.3 L1077.8,866.3 L1082.0,866.3 L1086.2,866.3 L1090.3,866.3 L1094.5,866.3 L1098.7,866.3 L1102.8,866.3 L1107.0,866.3 L1111.2,866.3 L1115.3,866.3 L1119.5,866.3 L1123.7,866.3 L1127.8,866.3 L1132.0,866.3 L1136.2,866.3 L1140.3,866.3 L1144.5,866.3 L1148.6,866.3 L1152.8,866.3 L1157.0,866.3 L1161.1,866.3 L1165.3,866.3 L1169.5,866.3 L1173.6,866.3 L1177.8,866.2 L1182.0,866.2 L1186.1,866.1 L1190.3,866.1 L1194.5,866.0 L1198.6,866.0 L1202.8,866.0 L1202.8,866.6 L1198.6,866.6 L1194.5,866.6 L1190.3,866.5 L1186.1,866.5 L1182.0,866.4 L1177.8,866.4 L1173.6,866.3 L1169.5,866.3 L1165.3,866.3 L1161.1,866.3 L1157.0,866.3 L1152.8,866.3 L1148.6,866.3 L1144.5,866.3 L1140.3,866.3 L1136.2,866.3 L1132.0,866.3 L1127.8,866.3 L1123.7,866.3 L1119.5,866.3 L1115.3,866.3 L1111.2,866.3 L1107.0,866.3 L1102.8,866.3 L1098.7,866.3 L1094.5,866.3 L1090.3,866.3 L1086.2,866.3 L1082.0,866.3 L1077.8,866.3 L1073.7,866.3 L1069.5,866.3 L1065.3,866.4 L1061.2,866.4 L1057.0,866.5 L1052.8,866.7 L1048.7,867.0 L1044.5,867.4 L1040.3,867.9 L1036.2,868.6 L1032.0,869.3 L1027.8,870.0 L1023.7,870.6 L1019.5,871.0 L1015.3,871.2 L1011.2,871.0 L1007.0,870.6 L1002.9,870.0 L998.7,869.3 L994.5,868.6 L990.4,867.9 L986.2,867.4 L982.0,867.0 L977.9,866.7 L973.7,866.5 L969.5,866.4 L965.4,866.4 L961.2,866.3 L957.0,866.3 L952.9,866.3 L948.7,866.3 L944.5,866.3 L940.4,866.3 L936.2,866.3 L932.0,866.3 L927.9,866.3 L923.7,866.3 L919.5,866.3 L915.4,866.3 L911.2,866.3 L907.0,866.3 L902.9,866.3 L898.7,866.3 L894.5,866.3 L890.4,866.3 L886.2,866.3 L882.1,866.4 L877.9,866.5 L873.7,866.7 L869.6,867.0 L865.4,867.6 L861.2,868.4 L857.1,869.6 L852.9,871.2 L848.7,873.2 L844.6,875.4 L840.4,877.5 L836.2,879.4 L832.1,880.7 L827.9,881.1 Z" fill="#9cbcd8" fill-opacity="0.5" stroke="#000" stroke-width="2.9" stroke-linejoin="round"/>
<path d="M1015.35,825.50 L1025.55,835.70 L1015.35,845.90 L1005.15,835.70 Z" fill="#d13c13"/>
<path d="M827.90,856.10 L838.10,866.30 L827.90,876.50 L817.70,866.30 Z" fill="#d13c13"/>
<line x1="827.9" y1="887.5" x2="827.9" y2="920.7" stroke="#000" stroke-width="2.9" stroke-linecap="round"/>
<path d="M827.9,926.2 L832.1,926.3 L836.2,926.4 L840.4,926.7 L844.6,927.0 L848.7,927.4 L852.9,927.9 L857.1,928.4 L861.2,929.0 L865.4,929.5 L869.6,930.1 L873.7,930.7 L877.9,931.2 L882.1,931.7 L886.2,932.1 L890.4,932.5 L894.5,932.9 L898.7,933.2 L902.9,933.5 L907.0,933.7 L911.2,933.9 L915.4,934.1 L919.5,934.2 L923.7,934.3 L927.9,934.4 L932.0,934.5 L936.2,934.5 L940.4,934.6 L944.5,934.6 L948.7,934.6 L952.9,934.6 L957.0,934.6 L961.2,934.6 L965.4,934.6 L969.5,934.6 L973.7,934.6 L977.9,934.6 L982.0,934.6 L986.2,934.6 L990.4,934.6 L994.5,934.6 L998.7,934.6 L1002.9,934.6 L1007.0,934.6 L1011.2,934.6 L1015.3,934.6 L1019.5,934.6 L1023.7,934.6 L1027.8,934.6 L1032.0,934.6 L1036.2,934.6 L1040.3,934.6 L1044.5,934.6 L1048.7,934.6 L1052.8,934.6 L1057.0,934.6 L1061.2,934.6 L1065.3,934.6 L1069.5,934.6 L1073.7,934.6 L1077.8,934.6 L1082.0,934.6 L1086.2,934.5 L1090.3,934.5 L1094.5,934.4 L1098.7,934.3 L1102.8,934.2 L1107.0,934.1 L1111.2,933.9 L1115.3,933.7 L1119.5,933.4 L1123.7,933.1 L1127.8,932.6 L1132.0,932.2 L1136.2,931.6 L1140.3,931.0 L1144.5,930.2 L1148.6,929.4 L1152.8,928.6 L1157.0,927.6 L1161.1,926.7 L1165.3,925.7 L1169.5,924.7 L1173.6,923.7 L1177.8,922.8 L1182.0,922.0 L1186.1,921.2 L1190.3,920.6 L1194.5,920.2 L1198.6,919.9 L1202.8,919.9 L1202.8,949.4 L1198.6,949.4 L1194.5,949.1 L1190.3,948.7 L1186.1,948.1 L1182.0,947.3 L1177.8,946.5 L1173.6,945.6 L1169.5,944.6 L1165.3,943.6 L1161.1,942.6 L1157.0,941.7 L1152.8,940.7 L1148.6,939.9 L1144.5,939.1 L1140.3,938.3 L1136.2,937.7 L1132.0,937.1 L1127.8,936.7 L1123.7,936.2 L1119.5,935.9 L1115.3,935.6 L1111.2,935.4 L1107.0,935.2 L1102.8,935.1 L1098.7,935.0 L1094.5,934.9 L1090.3,934.8 L1086.2,934.8 L1082.0,934.7 L1077.8,934.7 L1073.7,934.7 L1069.5,934.7 L1065.3,934.7 L1061.2,934.7 L1057.0,934.7 L1052.8,934.7 L1048.7,934.7 L1044.5,934.7 L1040.3,934.7 L1036.2,934.7 L1032.0,934.7 L1027.8,934.7 L1023.7,934.7 L1019.5,934.7 L1015.3,934.7 L1011.2,934.7 L1007.0,934.7 L1002.9,934.7 L998.7,934.7 L994.5,934.7 L990.4,934.7 L986.2,934.7 L982.0,934.7 L977.9,934.7 L973.7,934.7 L969.5,934.7 L965.4,934.7 L961.2,934.7 L957.0,934.7 L952.9,934.7 L948.7,934.7 L944.5,934.7 L940.4,934.7 L936.2,934.8 L932.0,934.8 L927.9,934.9 L923.7,935.0 L919.5,935.1 L915.4,935.2 L911.2,935.4 L907.0,935.6 L902.9,935.8 L898.7,936.1 L894.5,936.4 L890.4,936.8 L886.2,937.2 L882.1,937.6 L877.9,938.1 L873.7,938.6 L869.6,939.2 L865.4,939.8 L861.2,940.3 L857.1,940.9 L852.9,941.4 L848.7,941.9 L844.6,942.3 L840.4,942.6 L836.2,942.9 L832.1,943.0 L827.9,943.1 Z" fill="#9cbcd8" fill-opacity="0.5" stroke="#000" stroke-width="2.9" stroke-linejoin="round"/>
<path d="M827.90,893.85 L838.10,904.05 L827.90,914.25 L817.70,904.05 Z" fill="#d13c13"/>
<path d="M1202.80,924.45 L1213.00,934.65 L1202.80,944.85 L1192.60,934.65 Z" fill="#d13c13"/>
<path d="M890.1,966.4 L892.9,966.4 L895.7,966.6 L898.5,966.8 L901.3,967.0 L904.1,967.3 L906.9,967.6 L909.6,967.8 L912.4,967.9 L915.2,967.9 L918.0,967.7 L920.8,967.3 L923.6,966.7 L926.4,966.0 L929.1,965.0 L931.9,963.9 L934.7,962.7 L937.5,961.5 L940.3,960.4 L943.1,959.3 L945.9,958.5 L948.7,957.9 L951.4,957.6 L954.2,957.6 L957.0,957.9 L959.8,958.6 L962.6,959.4 L965.4,960.5 L968.2,961.7 L970.9,962.9 L973.7,964.1 L976.5,965.3 L979.3,966.3 L982.1,967.1 L984.9,967.8 L987.7,968.3 L990.5,968.6 L993.2,968.8 L996.0,968.8 L998.8,968.7 L1001.6,968.5 L1004.4,968.3 L1007.2,968.1 L1010.0,968.0 L1012.8,967.9 L1015.5,967.9 L1018.3,968.0 L1021.1,968.1 L1023.9,968.4 L1026.7,968.7 L1029.5,969.0 L1032.3,969.4 L1035.0,969.7 L1037.8,970.1 L1040.6,970.4 L1043.4,970.6 L1046.2,970.8 L1049.0,971.0 L1051.8,971.1 L1054.6,971.1 L1057.3,971.1 L1060.1,971.0 L1062.9,970.9 L1065.7,970.8 L1068.5,970.8 L1071.3,970.7 L1074.1,970.6 L1076.8,970.6 L1079.6,970.6 L1082.4,970.7 L1085.2,970.7 L1088.0,970.9 L1090.8,971.0 L1093.6,971.1 L1096.4,971.3 L1099.1,971.4 L1101.9,971.6 L1104.7,971.7 L1107.5,971.8 L1110.3,971.9 L1113.1,971.9 L1115.9,972.0 L1118.6,972.0 L1121.4,972.0 L1124.2,972.0 L1127.0,972.0 L1129.8,972.0 L1132.6,972.0 L1135.4,972.0 L1138.2,971.9 L1140.9,972.0 L1140.9,972.8 L1138.2,972.9 L1135.4,972.8 L1132.6,972.8 L1129.8,972.8 L1127.0,972.8 L1124.2,972.8 L1121.4,972.8 L1118.6,972.8 L1115.9,972.8 L1113.1,972.9 L1110.3,972.9 L1107.5,973.0 L1104.7,973.1 L1101.9,973.2 L1099.1,973.4 L1096.4,973.5 L1093.6,973.7 L1090.8,973.8 L1088.0,973.9 L1085.2,974.1 L1082.4,974.1 L1079.6,974.2 L1076.8,974.2 L1074.1,974.2 L1071.3,974.1 L1068.5,974.0 L1065.7,974.0 L1062.9,973.9 L1060.1,973.8 L1057.3,973.7 L1054.6,973.7 L1051.8,973.7 L1049.0,973.8 L1046.2,974.0 L1043.4,974.2 L1040.6,974.4 L1037.8,974.7 L1035.0,975.1 L1032.3,975.4 L1029.5,975.8 L1026.7,976.1 L1023.9,976.4 L1021.1,976.7 L1018.3,976.8 L1015.5,976.9 L1012.8,976.9 L1010.0,976.8 L1007.2,976.7 L1004.4,976.5 L1001.6,976.3 L998.8,976.1 L996.0,976.0 L993.2,976.0 L990.5,976.2 L987.7,976.5 L984.9,977.0 L982.1,977.7 L979.3,978.5 L976.5,979.5 L973.7,980.7 L970.9,981.9 L968.2,983.1 L965.4,984.3 L962.6,985.4 L959.8,986.2 L957.0,986.9 L954.2,987.2 L951.4,987.2 L948.7,986.9 L945.9,986.3 L943.1,985.5 L940.3,984.4 L937.5,983.3 L934.7,982.1 L931.9,980.9 L929.1,979.8 L926.4,978.8 L923.6,978.1 L920.8,977.5 L918.0,977.1 L915.2,976.9 L912.4,976.9 L909.6,977.0 L906.9,977.2 L904.1,977.5 L901.3,977.8 L898.5,978.0 L895.7,978.2 L892.9,978.4 L890.1,978.4 Z" fill="#e8a9a3" fill-opacity="0.5" stroke="#000" stroke-width="2.9" stroke-linejoin="round"/>
<path d="M827.9,988.2 L832.1,989.6 L836.2,993.0 L840.4,996.9 L844.6,1000.0 L848.7,1001.7 L852.9,1002.6 L857.1,1002.9 L861.2,1002.9 L865.4,1002.8 L869.6,1002.5 L873.7,1001.9 L877.9,1000.8 L882.1,999.4 L886.2,998.1 L890.4,997.5 L894.5,998.0 L898.7,999.3 L902.9,1000.7 L907.0,1001.8 L911.2,1002.5 L915.4,1002.8 L919.5,1003.0 L923.7,1003.0 L927.9,1002.9 L932.0,1002.8 L936.2,1002.6 L940.4,1002.2 L944.5,1001.7 L948.7,1001.2 L952.9,1001.1 L957.0,1001.3 L961.2,1001.7 L965.4,1002.2 L969.5,1002.6 L973.7,1002.8 L977.9,1002.9 L982.0,1003.0 L986.2,1003.0 L990.4,1003.0 L994.5,1003.0 L998.7,1002.9 L1002.9,1002.8 L1007.0,1002.7 L1011.2,1002.6 L1015.3,1002.6 L1019.5,1002.6 L1023.7,1002.7 L1027.8,1002.8 L1032.0,1002.9 L1036.2,1003.0 L1040.3,1003.0 L1044.5,1003.0 L1048.7,1003.0 L1052.8,1003.0 L1057.0,1003.0 L1061.2,1003.0 L1065.3,1003.0 L1069.5,1003.0 L1073.7,1003.0 L1077.8,1003.0 L1082.0,1003.0 L1086.2,1003.0 L1090.3,1003.0 L1094.5,1003.0 L1098.7,1003.0 L1102.8,1003.0 L1107.0,1003.0 L1111.2,1003.0 L1115.3,1003.0 L1119.5,1003.0 L1123.7,1003.0 L1127.8,1003.0 L1132.0,1003.0 L1136.2,1003.0 L1140.3,1003.0 L1144.5,1003.0 L1148.6,1003.0 L1152.8,1003.0 L1157.0,1003.0 L1161.1,1003.0 L1165.3,1003.0 L1169.5,1003.0 L1173.6,1003.0 L1177.8,1003.0 L1182.0,1003.0 L1186.1,1003.0 L1190.3,1003.0 L1194.5,1002.9 L1198.6,1002.9 L1202.8,1002.9 L1202.8,1003.1 L1198.6,1003.1 L1194.5,1003.1 L1190.3,1003.0 L1186.1,1003.0 L1182.0,1003.0 L1177.8,1003.0 L1173.6,1003.0 L1169.5,1003.0 L1165.3,1003.0 L1161.1,1003.0 L1157.0,1003.0 L1152.8,1003.0 L1148.6,1003.0 L1144.5,1003.0 L1140.3,1003.0 L1136.2,1003.0 L1132.0,1003.0 L1127.8,1003.0 L1123.7,1003.0 L1119.5,1003.0 L1115.3,1003.0 L1111.2,1003.0 L1107.0,1003.0 L1102.8,1003.0 L1098.7,1003.0 L1094.5,1003.0 L1090.3,1003.0 L1086.2,1003.0 L1082.0,1003.0 L1077.8,1003.0 L1073.7,1003.0 L1069.5,1003.0 L1065.3,1003.0 L1061.2,1003.0 L1057.0,1003.0 L1052.8,1003.0 L1048.7,1003.0 L1044.5,1003.0 L1040.3,1003.0 L1036.2,1003.0 L1032.0,1003.1 L1027.8,1003.2 L1023.7,1003.3 L1019.5,1003.4 L1015.3,1003.4 L1011.2,1003.4 L1007.0,1003.3 L1002.9,1003.2 L998.7,1003.1 L994.5,1003.0 L990.4,1003.0 L986.2,1003.0 L982.0,1003.0 L977.9,1003.1 L973.7,1003.2 L969.5,1003.4 L965.4,1003.8 L961.2,1004.3 L957.0,1004.7 L952.9,1004.9 L948.7,1004.8 L944.5,1004.3 L940.4,1003.8 L936.2,1003.4 L932.0,1003.2 L927.9,1003.1 L923.7,1003.0 L919.5,1003.0 L915.4,1003.2 L911.2,1003.5 L907.0,1004.2 L902.9,1005.3 L898.7,1006.7 L894.5,1008.0 L890.4,1008.5 L886.2,1007.9 L882.1,1006.6 L877.9,1005.2 L873.7,1004.1 L869.6,1003.5 L865.4,1003.2 L861.2,1003.1 L857.1,1003.1 L852.9,1003.4 L848.7,1004.3 L844.6,1006.0 L840.4,1009.1 L836.2,1013.0 L832.1,1016.4 L827.9,1017.8 Z" fill="#9cbcd8" fill-opacity="0.5" stroke="#000" stroke-width="2.9" stroke-linejoin="round"/>
<path d="M952.74,962.20 L962.94,972.40 L952.74,982.60 L942.54,972.40 Z" fill="#d13c13"/>
<path d="M827.90,992.80 L838.10,1003.00 L827.90,1013.20 L817.70,1003.00 Z" fill="#d13c13"/>
<path d="M827.9,1067.6 L832.1,1067.6 L836.2,1067.7 L840.4,1067.7 L844.6,1067.8 L848.7,1067.9 L852.9,1067.9 L857.1,1068.0 L861.2,1068.0 L865.4,1068.0 L869.6,1068.0 L873.7,1067.9 L877.9,1067.7 L882.1,1067.5 L886.2,1067.1 L890.4,1066.7 L894.5,1066.2 L898.7,1065.6 L902.9,1064.9 L907.0,1064.2 L911.2,1063.4 L915.4,1062.6 L919.5,1061.7 L923.7,1060.9 L927.9,1060.1 L932.0,1059.4 L936.2,1058.8 L940.4,1058.3 L944.5,1057.9 L948.7,1057.6 L952.9,1057.5 L957.0,1057.6 L961.2,1057.8 L965.4,1058.2 L969.5,1058.6 L973.7,1059.2 L977.9,1059.8 L982.0,1060.5 L986.2,1061.2 L990.4,1061.9 L994.5,1062.5 L998.7,1063.0 L1002.9,1063.4 L1007.0,1063.7 L1011.2,1063.9 L1015.3,1063.9 L1019.5,1063.7 L1023.7,1063.4 L1027.8,1063.0 L1032.0,1062.4 L1036.2,1061.8 L1040.3,1061.0 L1044.5,1060.2 L1048.7,1059.4 L1052.8,1058.6 L1057.0,1057.9 L1061.2,1057.3 L1065.3,1056.7 L1069.5,1056.3 L1073.7,1056.1 L1077.8,1056.0 L1082.0,1056.1 L1086.2,1056.4 L1090.3,1056.8 L1094.5,1057.4 L1098.7,1058.1 L1102.8,1058.9 L1107.0,1059.8 L1111.2,1060.8 L1115.3,1061.8 L1119.5,1062.7 L1123.7,1063.7 L1127.8,1064.6 L1132.0,1065.4 L1136.2,1066.2 L1140.3,1066.8 L1144.5,1067.4 L1148.6,1067.9 L1152.8,1068.3 L1157.0,1068.7 L1161.1,1069.0 L1165.3,1069.2 L1169.5,1069.3 L1173.6,1069.4 L1177.8,1069.5 L1182.0,1069.6 L1186.1,1069.6 L1190.3,1069.6 L1194.5,1069.6 L1198.6,1069.6 L1202.8,1069.7 L1202.8,1071.9 L1198.6,1072.0 L1194.5,1072.0 L1190.3,1072.0 L1186.1,1072.0 L1182.0,1072.0 L1177.8,1072.1 L1173.6,1072.2 L1169.5,1072.3 L1165.3,1072.4 L1161.1,1072.6 L1157.0,1072.9 L1152.8,1073.3 L1148.6,1073.7 L1144.5,1074.2 L1140.3,1074.8 L1136.2,1075.4 L1132.0,1076.2 L1127.8,1077.0 L1123.7,1077.9 L1119.5,1078.9 L1115.3,1079.8 L1111.2,1080.8 L1107.0,1081.8 L1102.8,1082.7 L1098.7,1083.5 L1094.5,1084.2 L1090.3,1084.8 L1086.2,1085.2 L1082.0,1085.5 L1077.8,1085.6 L1073.7,1085.5 L1069.5,1085.3 L1065.3,1084.9 L1061.2,1084.3 L1057.0,1083.7 L1052.8,1083.0 L1048.7,1082.2 L1044.5,1081.4 L1040.3,1080.6 L1036.2,1079.8 L1032.0,1079.2 L1027.8,1078.6 L1023.7,1078.2 L1019.5,1077.9 L1015.3,1077.7 L1011.2,1077.7 L1007.0,1077.9 L1002.9,1078.2 L998.7,1078.6 L994.5,1079.1 L990.4,1079.7 L986.2,1080.4 L982.0,1081.1 L977.9,1081.8 L973.7,1082.4 L969.5,1083.0 L965.4,1083.4 L961.2,1083.8 L957.0,1084.0 L952.9,1084.1 L948.7,1084.0 L944.5,1083.7 L940.4,1083.3 L936.2,1082.8 L932.0,1082.2 L927.9,1081.5 L923.7,1080.7 L919.5,1079.9 L915.4,1079.0 L911.2,1078.2 L907.0,1077.4 L902.9,1076.7 L898.7,1076.0 L894.5,1075.4 L890.4,1074.9 L886.2,1074.5 L882.1,1074.1 L877.9,1073.9 L873.7,1073.7 L869.6,1073.6 L865.4,1073.6 L861.2,1073.6 L857.1,1073.6 L852.9,1073.7 L848.7,1073.7 L844.6,1073.8 L840.4,1073.9 L836.2,1073.9 L832.1,1074.0 L827.9,1074.0 Z" fill="#e8a9a3" fill-opacity="0.5" stroke="#000" stroke-width="2.9" stroke-linejoin="round"/>
<path d="M827.9,1096.2 L832.1,1096.3 L836.2,1096.7 L840.4,1097.3 L844.6,1097.9 L848.7,1098.6 L852.9,1099.3 L857.1,1099.9 L861.2,1100.3 L865.4,1100.7 L869.6,1101.0 L873.7,1101.1 L877.9,1101.2 L882.1,1101.3 L886.2,1101.3 L890.4,1101.3 L894.5,1101.3 L898.7,1101.2 L902.9,1101.0 L907.0,1100.6 L911.2,1100.1 L915.4,1099.4 L919.5,1098.3 L923.7,1096.9 L927.9,1095.3 L932.0,1093.4 L936.2,1091.4 L940.4,1089.5 L944.5,1088.0 L948.7,1086.9 L952.9,1086.6 L957.0,1087.0 L961.2,1088.0 L965.4,1089.6 L969.5,1091.5 L973.7,1093.5 L977.9,1095.4 L982.0,1097.0 L986.2,1098.4 L990.4,1099.4 L994.5,1100.2 L998.7,1100.7 L1002.9,1101.0 L1007.0,1101.2 L1011.2,1101.3 L1015.3,1101.3 L1019.5,1101.3 L1023.7,1101.3 L1027.8,1101.2 L1032.0,1101.1 L1036.2,1100.9 L1040.3,1100.6 L1044.5,1100.2 L1048.7,1099.7 L1052.8,1099.0 L1057.0,1098.3 L1061.2,1097.5 L1065.3,1096.8 L1069.5,1096.2 L1073.7,1095.8 L1077.8,1095.6 L1082.0,1095.8 L1086.2,1096.2 L1090.3,1096.8 L1094.5,1097.5 L1098.7,1098.3 L1102.8,1099.0 L1107.0,1099.7 L1111.2,1100.2 L1115.3,1100.6 L1119.5,1100.9 L1123.7,1101.1 L1127.8,1101.2 L1132.0,1101.3 L1136.2,1101.4 L1140.3,1101.4 L1144.5,1101.4 L1148.6,1101.4 L1152.8,1101.4 L1157.0,1101.4 L1161.1,1101.4 L1165.3,1101.3 L1169.5,1101.3 L1173.6,1101.2 L1177.8,1101.0 L1182.0,1100.8 L1186.1,1100.6 L1190.3,1100.4 L1194.5,1100.1 L1198.6,1100.0 L1202.8,1099.9 L1202.8,1102.9 L1198.6,1102.8 L1194.5,1102.7 L1190.3,1102.4 L1186.1,1102.2 L1182.0,1102.0 L1177.8,1101.8 L1173.6,1101.6 L1169.5,1101.5 L1165.3,1101.5 L1161.1,1101.4 L1157.0,1101.4 L1152.8,1101.4 L1148.6,1101.4 L1144.5,1101.4 L1140.3,1101.4 L1136.2,1101.4 L1132.0,1101.5 L1127.8,1101.6 L1123.7,1101.7 L1119.5,1101.9 L1115.3,1102.2 L1111.2,1102.6 L1107.0,1103.1 L1102.8,1103.8 L1098.7,1104.5 L1094.5,1105.3 L1090.3,1106.0 L1086.2,1106.6 L1082.0,1107.0 L1077.8,1107.2 L1073.7,1107.0 L1069.5,1106.6 L1065.3,1106.0 L1061.2,1105.3 L1057.0,1104.5 L1052.8,1103.8 L1048.7,1103.1 L1044.5,1102.6 L1040.3,1102.2 L1036.2,1101.9 L1032.0,1101.7 L1027.8,1101.6 L1023.7,1101.5 L1019.5,1101.5 L1015.3,1101.5 L1011.2,1101.5 L1007.0,1101.6 L1002.9,1101.8 L998.7,1102.1 L994.5,1102.6 L990.4,1103.4 L986.2,1104.4 L982.0,1105.8 L977.9,1107.4 L973.7,1109.3 L969.5,1111.3 L965.4,1113.2 L961.2,1114.8 L957.0,1115.8 L952.9,1116.2 L948.7,1115.9 L944.5,1114.8 L940.4,1113.3 L936.2,1111.4 L932.0,1109.4 L927.9,1107.5 L923.7,1105.9 L919.5,1104.5 L915.4,1103.4 L911.2,1102.7 L907.0,1102.2 L902.9,1101.8 L898.7,1101.6 L894.5,1101.5 L890.4,1101.5 L886.2,1101.5 L882.1,1101.5 L877.9,1101.6 L873.7,1101.7 L869.6,1101.8 L865.4,1102.1 L861.2,1102.5 L857.1,1102.9 L852.9,1103.5 L848.7,1104.2 L844.6,1104.9 L840.4,1105.5 L836.2,1106.1 L832.1,1106.5 L827.9,1106.6 Z" fill="#9cbcd8" fill-opacity="0.5" stroke="#000" stroke-width="2.9" stroke-linejoin="round"/>
<path d="M952.74,1060.60 L962.94,1070.80 L952.74,1081.00 L942.54,1070.80 Z" fill="#d13c13"/>
<path d="M952.74,1091.20 L962.94,1101.40 L952.74,1111.60 L942.54,1101.40 Z" fill="#d13c13"/>
<path d="M827.9,1138.0 L832.1,1138.0 L836.2,1138.0 L840.4,1138.0 L844.6,1138.0 L848.7,1138.0 L852.9,1138.0 L857.1,1138.0 L861.2,1138.0 L865.4,1137.9 L869.6,1137.8 L873.7,1137.6 L877.9,1137.4 L882.1,1137.1 L886.2,1136.7 L890.4,1136.2 L894.5,1135.6 L898.7,1134.8 L902.9,1134.0 L907.0,1133.1 L911.2,1132.1 L915.4,1131.1 L919.5,1130.0 L923.7,1128.9 L927.9,1127.8 L932.0,1126.9 L936.2,1126.0 L940.4,1125.3 L944.5,1124.8 L948.7,1124.5 L952.9,1124.4 L957.0,1124.5 L961.2,1124.8 L965.4,1125.3 L969.5,1126.0 L973.7,1126.8 L977.9,1127.8 L982.0,1128.8 L986.2,1129.8 L990.4,1130.8 L994.5,1131.7 L998.7,1132.5 L1002.9,1133.1 L1007.0,1133.6 L1011.2,1134.0 L1015.3,1134.1 L1019.5,1134.1 L1023.7,1133.9 L1027.8,1133.5 L1032.0,1133.0 L1036.2,1132.3 L1040.3,1131.5 L1044.5,1130.6 L1048.7,1129.8 L1052.8,1128.9 L1057.0,1128.1 L1061.2,1127.3 L1065.3,1126.7 L1069.5,1126.2 L1073.7,1125.9 L1077.8,1125.8 L1082.0,1125.9 L1086.2,1126.2 L1090.3,1126.7 L1094.5,1127.3 L1098.7,1128.1 L1102.8,1129.0 L1107.0,1129.9 L1111.2,1130.9 L1115.3,1131.9 L1119.5,1132.8 L1123.7,1133.7 L1127.8,1134.5 L1132.0,1135.3 L1136.2,1135.9 L1140.3,1136.4 L1144.5,1136.8 L1148.6,1137.2 L1152.8,1137.4 L1157.0,1137.6 L1161.1,1137.7 L1165.3,1137.7 L1169.5,1137.7 L1173.6,1137.7 L1177.8,1137.6 L1182.0,1137.6 L1186.1,1137.5 L1190.3,1137.4 L1194.5,1137.4 L1198.6,1137.4 L1202.8,1137.4 L1202.8,1140.9 L1198.6,1140.9 L1194.5,1140.9 L1190.3,1140.9 L1186.1,1140.8 L1182.0,1140.7 L1177.8,1140.7 L1173.6,1140.6 L1169.5,1140.6 L1165.3,1140.6 L1161.1,1140.6 L1157.0,1140.7 L1152.8,1140.9 L1148.6,1141.1 L1144.5,1141.5 L1140.3,1141.9 L1136.2,1142.4 L1132.0,1143.0 L1127.8,1143.8 L1123.7,1144.6 L1119.5,1145.5 L1115.3,1146.4 L1111.2,1147.4 L1107.0,1148.4 L1102.8,1149.3 L1098.7,1150.2 L1094.5,1151.0 L1090.3,1151.6 L1086.2,1152.1 L1082.0,1152.4 L1077.8,1152.5 L1073.7,1152.4 L1069.5,1152.1 L1065.3,1151.6 L1061.2,1151.0 L1057.0,1150.2 L1052.8,1149.4 L1048.7,1148.5 L1044.5,1147.7 L1040.3,1146.8 L1036.2,1146.0 L1032.0,1145.3 L1027.8,1144.8 L1023.7,1144.4 L1019.5,1144.2 L1015.3,1144.2 L1011.2,1144.3 L1007.0,1144.7 L1002.9,1145.2 L998.7,1145.8 L994.5,1146.6 L990.4,1147.5 L986.2,1148.5 L982.0,1149.5 L977.9,1150.5 L973.7,1151.5 L969.5,1152.3 L965.4,1153.0 L961.2,1153.5 L957.0,1153.8 L952.9,1154.0 L948.7,1153.8 L944.5,1153.5 L940.4,1153.0 L936.2,1152.3 L932.0,1151.4 L927.9,1150.5 L923.7,1149.4 L919.5,1148.3 L915.4,1147.2 L911.2,1146.2 L907.0,1145.2 L902.9,1144.3 L898.7,1143.5 L894.5,1142.7 L890.4,1142.1 L886.2,1141.6 L882.1,1141.2 L877.9,1140.9 L873.7,1140.7 L869.6,1140.5 L865.4,1140.4 L861.2,1140.3 L857.1,1140.3 L852.9,1140.3 L848.7,1140.3 L844.6,1140.3 L840.4,1140.3 L836.2,1140.3 L832.1,1140.3 L827.9,1140.3 Z" fill="#e8a9a3" fill-opacity="0.5" stroke="#000" stroke-width="2.9" stroke-linejoin="round"/>
<path d="M827.9,1161.0 L832.1,1161.2 L836.2,1161.8 L840.4,1162.8 L844.6,1163.9 L848.7,1165.0 L852.9,1166.2 L857.1,1167.1 L861.2,1168.0 L865.4,1168.6 L869.6,1169.0 L873.7,1169.3 L877.9,1169.5 L882.1,1169.6 L886.2,1169.7 L890.4,1169.7 L894.5,1169.6 L898.7,1169.5 L902.9,1169.3 L907.0,1169.0 L911.2,1168.5 L915.4,1167.7 L919.5,1166.7 L923.7,1165.3 L927.9,1163.6 L932.0,1161.7 L936.2,1159.7 L940.4,1157.8 L944.5,1156.3 L948.7,1155.3 L952.9,1155.0 L957.0,1155.3 L961.2,1156.4 L965.4,1158.0 L969.5,1159.8 L973.7,1161.8 L977.9,1163.7 L982.0,1165.4 L986.2,1166.7 L990.4,1167.8 L994.5,1168.5 L998.7,1169.0 L1002.9,1169.3 L1007.0,1169.5 L1011.2,1169.6 L1015.3,1169.7 L1019.5,1169.7 L1023.7,1169.6 L1027.8,1169.6 L1032.0,1169.4 L1036.2,1169.2 L1040.3,1168.9 L1044.5,1168.5 L1048.7,1168.0 L1052.8,1167.3 L1057.0,1166.5 L1061.2,1165.7 L1065.3,1164.9 L1069.5,1164.3 L1073.7,1163.8 L1077.8,1163.7 L1082.0,1163.8 L1086.2,1164.2 L1090.3,1164.9 L1094.5,1165.6 L1098.7,1166.5 L1102.8,1167.2 L1107.0,1167.9 L1111.2,1168.5 L1115.3,1168.9 L1119.5,1169.2 L1123.7,1169.4 L1127.8,1169.6 L1132.0,1169.7 L1136.2,1169.7 L1140.3,1169.7 L1144.5,1169.7 L1148.6,1169.7 L1152.8,1169.7 L1157.0,1169.7 L1161.1,1169.7 L1165.3,1169.7 L1169.5,1169.6 L1173.6,1169.5 L1177.8,1169.4 L1182.0,1169.2 L1186.1,1169.0 L1190.3,1168.7 L1194.5,1168.5 L1198.6,1168.3 L1202.8,1168.3 L1202.8,1171.2 L1198.6,1171.2 L1194.5,1171.0 L1190.3,1170.8 L1186.1,1170.5 L1182.0,1170.3 L1177.8,1170.1 L1173.6,1170.0 L1169.5,1169.9 L1165.3,1169.8 L1161.1,1169.8 L1157.0,1169.8 L1152.8,1169.8 L1148.6,1169.8 L1144.5,1169.8 L1140.3,1169.8 L1136.2,1169.8 L1132.0,1169.8 L1127.8,1169.9 L1123.7,1170.1 L1119.5,1170.3 L1115.3,1170.6 L1111.2,1171.0 L1107.0,1171.6 L1102.8,1172.3 L1098.7,1173.0 L1094.5,1173.9 L1090.3,1174.6 L1086.2,1175.3 L1082.0,1175.7 L1077.8,1175.8 L1073.7,1175.7 L1069.5,1175.2 L1065.3,1174.6 L1061.2,1173.8 L1057.0,1173.0 L1052.8,1172.2 L1048.7,1171.5 L1044.5,1171.0 L1040.3,1170.6 L1036.2,1170.3 L1032.0,1170.1 L1027.8,1169.9 L1023.7,1169.9 L1019.5,1169.8 L1015.3,1169.8 L1011.2,1169.9 L1007.0,1170.0 L1002.9,1170.2 L998.7,1170.5 L994.5,1171.0 L990.4,1171.7 L986.2,1172.8 L982.0,1174.1 L977.9,1175.8 L973.7,1177.7 L969.5,1179.7 L965.4,1181.5 L961.2,1183.1 L957.0,1184.2 L952.9,1184.5 L948.7,1184.2 L944.5,1183.2 L940.4,1181.7 L936.2,1179.8 L932.0,1177.8 L927.9,1175.9 L923.7,1174.2 L919.5,1172.8 L915.4,1171.8 L911.2,1171.0 L907.0,1170.5 L902.9,1170.2 L898.7,1170.0 L894.5,1169.9 L890.4,1169.8 L886.2,1169.8 L882.1,1169.9 L877.9,1170.0 L873.7,1170.2 L869.6,1170.5 L865.4,1170.9 L861.2,1171.5 L857.1,1172.4 L852.9,1173.3 L848.7,1174.5 L844.6,1175.6 L840.4,1176.7 L836.2,1177.7 L832.1,1178.3 L827.9,1178.5 Z" fill="#9cbcd8" fill-opacity="0.5" stroke="#000" stroke-width="2.9" stroke-linejoin="round"/>
<path d="M952.74,1128.95 L962.94,1139.15 L952.74,1149.35 L942.54,1139.15 Z" fill="#d13c13"/>
<path d="M952.74,1159.55 L962.94,1169.75 L952.74,1179.95 L942.54,1169.75 Z" fill="#d13c13"/>
<path d="M827.9,1197.4 L832.1,1197.4 L836.2,1197.4 L840.4,1197.3 L844.6,1197.1 L848.7,1197.0 L852.9,1196.8 L857.1,1196.6 L861.2,1196.4 L865.4,1196.2 L869.6,1195.9 L873.7,1195.7 L877.9,1195.5 L882.1,1195.3 L886.2,1195.1 L890.4,1194.9 L894.5,1194.8 L898.7,1194.6 L902.9,1194.4 L907.0,1194.2 L911.2,1194.0 L915.4,1193.8 L919.5,1193.6 L923.7,1193.4 L927.9,1193.3 L932.0,1193.1 L936.2,1193.0 L940.4,1192.9 L944.5,1192.8 L948.7,1192.7 L952.9,1192.7 L957.0,1192.7 L961.2,1192.8 L965.4,1193.0 L969.5,1193.2 L973.7,1193.4 L977.9,1193.6 L982.0,1193.9 L986.2,1194.2 L990.4,1194.6 L994.5,1194.9 L998.7,1195.3 L1002.9,1195.6 L1007.0,1195.9 L1011.2,1196.2 L1015.3,1196.5 L1019.5,1196.8 L1023.7,1197.1 L1027.8,1197.5 L1032.0,1197.8 L1036.2,1198.1 L1040.3,1198.5 L1044.5,1198.8 L1048.7,1199.1 L1052.8,1199.5 L1057.0,1199.8 L1061.2,1200.1 L1065.3,1200.5 L1069.5,1200.8 L1073.7,1201.1 L1077.8,1201.4 L1082.0,1201.7 L1086.2,1202.1 L1090.3,1202.4 L1094.5,1202.7 L1098.7,1203.1 L1102.8,1203.4 L1107.0,1203.7 L1111.2,1204.1 L1115.3,1204.4 L1119.5,1204.7 L1123.7,1204.9 L1127.8,1205.1 L1132.0,1205.3 L1136.2,1205.5 L1140.3,1205.6 L1144.5,1205.7 L1148.6,1205.7 L1152.8,1205.8 L1157.0,1205.9 L1161.1,1206.0 L1165.3,1206.0 L1169.5,1206.1 L1173.6,1206.1 L1177.8,1206.2 L1182.0,1206.2 L1186.1,1206.3 L1190.3,1206.3 L1194.5,1206.3 L1198.6,1206.3 L1202.8,1206.3 L1202.8,1208.7 L1198.6,1208.7 L1194.5,1208.7 L1190.3,1208.7 L1186.1,1208.7 L1182.0,1208.8 L1177.8,1208.8 L1173.6,1208.9 L1169.5,1208.9 L1165.3,1209.0 L1161.1,1209.0 L1157.0,1209.1 L1152.8,1209.2 L1148.6,1209.3 L1144.5,1209.3 L1140.3,1209.4 L1136.2,1209.5 L1132.0,1209.7 L1127.8,1209.9 L1123.7,1210.1 L1119.5,1210.3 L1115.3,1210.6 L1111.2,1210.9 L1107.0,1211.3 L1102.8,1211.6 L1098.7,1211.9 L1094.5,1212.3 L1090.3,1212.6 L1086.2,1212.9 L1082.0,1213.3 L1077.8,1213.6 L1073.7,1213.9 L1069.5,1214.2 L1065.3,1214.5 L1061.2,1214.9 L1057.0,1215.2 L1052.8,1215.5 L1048.7,1215.9 L1044.5,1216.2 L1040.3,1216.5 L1036.2,1216.9 L1032.0,1217.2 L1027.8,1217.5 L1023.7,1217.9 L1019.5,1218.2 L1015.3,1218.5 L1011.2,1218.8 L1007.0,1219.1 L1002.9,1219.4 L998.7,1219.7 L994.5,1220.1 L990.4,1220.4 L986.2,1220.8 L982.0,1221.1 L977.9,1221.4 L973.7,1221.6 L969.5,1221.8 L965.4,1222.0 L961.2,1222.2 L957.0,1222.3 L952.9,1222.3 L948.7,1222.3 L944.5,1222.2 L940.4,1222.1 L936.2,1222.0 L932.0,1221.9 L927.9,1221.7 L923.7,1221.6 L919.5,1221.4 L915.4,1221.2 L911.2,1221.0 L907.0,1220.8 L902.9,1220.6 L898.7,1220.4 L894.5,1220.2 L890.4,1220.1 L886.2,1219.9 L882.1,1219.7 L877.9,1219.5 L873.7,1219.3 L869.6,1219.1 L865.4,1218.8 L861.2,1218.6 L857.1,1218.4 L852.9,1218.2 L848.7,1218.0 L844.6,1217.9 L840.4,1217.7 L836.2,1217.6 L832.1,1217.6 L827.9,1217.6 Z" fill="#e8a9a3" fill-opacity="0.5" stroke="#000" stroke-width="2.9" stroke-linejoin="round"/>
<path d="M827.9,1223.3 L832.1,1223.6 L836.2,1224.5 L840.4,1225.7 L844.6,1227.1 L848.7,1228.6 L852.9,1230.0 L857.1,1231.2 L861.2,1231.9 L865.4,1232.2 L869.6,1232.4 L873.7,1232.6 L877.9,1232.7 L882.1,1232.8 L886.2,1232.9 L890.4,1232.9 L894.5,1232.9 L898.7,1232.8 L902.9,1232.8 L907.0,1232.6 L911.2,1232.5 L915.4,1232.3 L919.5,1232.2 L923.7,1232.0 L927.9,1231.9 L932.0,1231.7 L936.2,1231.6 L940.4,1231.5 L944.5,1231.4 L948.7,1231.3 L952.9,1231.3 L957.0,1231.3 L961.2,1231.4 L965.4,1231.6 L969.5,1231.9 L973.7,1232.1 L977.9,1232.4 L982.0,1232.8 L986.2,1233.1 L990.4,1233.5 L994.5,1233.8 L998.7,1234.1 L1002.9,1234.4 L1007.0,1234.7 L1011.2,1235.0 L1015.3,1235.1 L1019.5,1235.3 L1023.7,1235.4 L1027.8,1235.6 L1032.0,1235.7 L1036.2,1235.8 L1040.3,1235.9 L1044.5,1236.0 L1048.7,1236.1 L1052.8,1236.2 L1057.0,1236.3 L1061.2,1236.4 L1065.3,1236.5 L1069.5,1236.6 L1073.7,1236.7 L1077.8,1236.8 L1082.0,1236.8 L1086.2,1236.9 L1090.3,1237.0 L1094.5,1237.1 L1098.7,1237.2 L1102.8,1237.3 L1107.0,1237.3 L1111.2,1237.4 L1115.3,1237.4 L1119.5,1237.5 L1123.7,1237.5 L1127.8,1237.5 L1132.0,1237.5 L1136.2,1237.5 L1140.3,1237.5 L1144.5,1237.5 L1148.6,1237.5 L1152.8,1237.5 L1157.0,1237.5 L1161.1,1237.5 L1165.3,1237.5 L1169.5,1237.5 L1173.6,1237.5 L1177.8,1237.5 L1182.0,1237.5 L1186.1,1237.5 L1190.3,1237.5 L1194.5,1237.5 L1198.6,1237.5 L1202.8,1237.5 L1202.8,1238.7 L1198.6,1238.7 L1194.5,1238.7 L1190.3,1238.7 L1186.1,1238.7 L1182.0,1238.7 L1177.8,1238.7 L1173.6,1238.7 L1169.5,1238.7 L1165.3,1238.7 L1161.1,1238.7 L1157.0,1238.7 L1152.8,1238.7 L1148.6,1238.7 L1144.5,1238.7 L1140.3,1238.7 L1136.2,1238.7 L1132.0,1238.7 L1127.8,1238.7 L1123.7,1238.7 L1119.5,1238.7 L1115.3,1238.8 L1111.2,1238.8 L1107.0,1238.9 L1102.8,1238.9 L1098.7,1239.0 L1094.5,1239.1 L1090.3,1239.2 L1086.2,1239.3 L1082.0,1239.4 L1077.8,1239.4 L1073.7,1239.5 L1069.5,1239.6 L1065.3,1239.7 L1061.2,1239.8 L1057.0,1239.9 L1052.8,1240.0 L1048.7,1240.1 L1044.5,1240.2 L1040.3,1240.3 L1036.2,1240.4 L1032.0,1240.5 L1027.8,1240.6 L1023.7,1240.8 L1019.5,1240.9 L1015.3,1241.1 L1011.2,1241.2 L1007.0,1241.5 L1002.9,1241.8 L998.7,1242.1 L994.5,1242.4 L990.4,1242.7 L986.2,1243.1 L982.0,1243.4 L977.9,1243.8 L973.7,1244.1 L969.5,1244.3 L965.4,1244.6 L961.2,1244.8 L957.0,1244.9 L952.9,1244.9 L948.7,1244.9 L944.5,1244.8 L940.4,1244.7 L936.2,1244.6 L932.0,1244.5 L927.9,1244.3 L923.7,1244.2 L919.5,1244.0 L915.4,1243.9 L911.2,1243.7 L907.0,1243.6 L902.9,1243.4 L898.7,1243.4 L894.5,1243.3 L890.4,1243.3 L886.2,1243.3 L882.1,1243.4 L877.9,1243.5 L873.7,1243.6 L869.6,1243.8 L865.4,1244.0 L861.2,1244.3 L857.1,1245.0 L852.9,1246.2 L848.7,1247.6 L844.6,1249.1 L840.4,1250.5 L836.2,1251.7 L832.1,1252.6 L827.9,1252.9 Z" fill="#9cbcd8" fill-opacity="0.5" stroke="#000" stroke-width="2.9" stroke-linejoin="round"/>
<path d="M952.74,1197.30 L962.94,1207.50 L952.74,1217.70 L942.54,1207.50 Z" fill="#d13c13"/>
<path d="M890.51,1227.90 L900.71,1238.10 L890.51,1248.30 L880.31,1238.10 Z" fill="#d13c13"/>
<path d="M827.9,1292.6 L832.1,1292.6 L836.2,1292.7 L840.4,1292.8 L844.6,1292.9 L848.7,1293.1 L852.9,1293.4 L857.1,1293.7 L861.2,1294.0 L865.4,1294.3 L869.6,1294.7 L873.7,1295.1 L877.9,1295.5 L882.1,1295.9 L886.2,1296.4 L890.4,1296.8 L894.5,1297.3 L898.7,1297.8 L902.9,1298.2 L907.0,1298.7 L911.2,1299.2 L915.4,1299.6 L919.5,1300.1 L923.7,1300.5 L927.9,1300.9 L932.0,1301.3 L936.2,1301.7 L940.4,1302.1 L944.5,1302.4 L948.7,1302.7 L952.9,1303.0 L957.0,1303.3 L961.2,1303.5 L965.4,1303.8 L969.5,1304.0 L973.7,1304.2 L977.9,1304.3 L982.0,1304.5 L986.2,1304.6 L990.4,1304.7 L994.5,1304.8 L998.7,1304.9 L1002.9,1305.0 L1007.0,1305.0 L1011.2,1305.0 L1015.3,1305.0 L1019.5,1305.0 L1023.7,1305.0 L1027.8,1304.9 L1032.0,1304.8 L1036.2,1304.8 L1040.3,1304.6 L1044.5,1304.5 L1048.7,1304.4 L1052.8,1304.2 L1057.0,1304.0 L1061.2,1303.8 L1065.3,1303.5 L1069.5,1303.3 L1073.7,1303.0 L1077.8,1302.7 L1082.0,1302.4 L1086.2,1302.0 L1090.3,1301.6 L1094.5,1301.2 L1098.7,1300.8 L1102.8,1300.4 L1107.0,1299.9 L1111.2,1299.4 L1115.3,1298.9 L1119.5,1298.4 L1123.7,1297.9 L1127.8,1297.4 L1132.0,1296.9 L1136.2,1296.3 L1140.3,1295.8 L1144.5,1295.3 L1148.6,1294.8 L1152.8,1294.3 L1157.0,1293.9 L1161.1,1293.4 L1165.3,1293.0 L1169.5,1292.6 L1173.6,1292.3 L1177.8,1292.0 L1182.0,1291.7 L1186.1,1291.5 L1190.3,1291.3 L1194.5,1291.2 L1198.6,1291.1 L1202.8,1291.1 L1202.8,1320.7 L1198.6,1320.7 L1194.5,1320.6 L1190.3,1320.5 L1186.1,1320.3 L1182.0,1320.1 L1177.8,1319.8 L1173.6,1319.5 L1169.5,1319.2 L1165.3,1318.8 L1161.1,1318.4 L1157.0,1317.9 L1152.8,1317.5 L1148.6,1317.0 L1144.5,1316.5 L1140.3,1316.0 L1136.2,1315.5 L1132.0,1314.9 L1127.8,1314.4 L1123.7,1313.9 L1119.5,1313.4 L1115.3,1312.9 L1111.2,1312.4 L1107.0,1311.9 L1102.8,1311.4 L1098.7,1311.0 L1094.5,1310.6 L1090.3,1310.2 L1086.2,1309.8 L1082.0,1309.4 L1077.8,1309.1 L1073.7,1308.8 L1069.5,1308.5 L1065.3,1308.3 L1061.2,1308.0 L1057.0,1307.8 L1052.8,1307.6 L1048.7,1307.4 L1044.5,1307.3 L1040.3,1307.2 L1036.2,1307.0 L1032.0,1307.0 L1027.8,1306.9 L1023.7,1306.8 L1019.5,1306.8 L1015.3,1306.8 L1011.2,1306.8 L1007.0,1306.8 L1002.9,1306.8 L998.7,1306.9 L994.5,1307.0 L990.4,1307.1 L986.2,1307.2 L982.0,1307.3 L977.9,1307.5 L973.7,1307.6 L969.5,1307.8 L965.4,1308.0 L961.2,1308.3 L957.0,1308.5 L952.9,1308.8 L948.7,1309.1 L944.5,1309.4 L940.4,1309.7 L936.2,1310.1 L932.0,1310.5 L927.9,1310.9 L923.7,1311.3 L919.5,1311.7 L915.4,1312.2 L911.2,1312.6 L907.0,1313.1 L902.9,1313.6 L898.7,1314.0 L894.5,1314.5 L890.4,1315.0 L886.2,1315.4 L882.1,1315.9 L877.9,1316.3 L873.7,1316.7 L869.6,1317.1 L865.4,1317.5 L861.2,1317.8 L857.1,1318.1 L852.9,1318.4 L848.7,1318.7 L844.6,1318.9 L840.4,1319.0 L836.2,1319.1 L832.1,1319.2 L827.9,1319.2 Z" fill="#e8a9a3" fill-opacity="0.5" stroke="#000" stroke-width="2.9" stroke-linejoin="round"/>
<path d="M827.9,1321.7 L832.1,1321.8 L836.2,1322.2 L840.4,1322.8 L844.6,1323.6 L848.7,1324.5 L852.9,1325.6 L857.1,1326.8 L861.2,1327.9 L865.4,1329.1 L869.6,1330.2 L873.7,1331.2 L877.9,1332.2 L882.1,1333.0 L886.2,1333.7 L890.4,1334.3 L894.5,1334.8 L898.7,1335.2 L902.9,1335.6 L907.0,1335.8 L911.2,1336.0 L915.4,1336.2 L919.5,1336.3 L923.7,1336.3 L927.9,1336.4 L932.0,1336.4 L936.2,1336.5 L940.4,1336.5 L944.5,1336.5 L948.7,1336.5 L952.9,1336.5 L957.0,1336.5 L961.2,1336.5 L965.4,1336.5 L969.5,1336.5 L973.7,1336.5 L977.9,1336.5 L982.0,1336.5 L986.2,1336.5 L990.4,1336.5 L994.5,1336.5 L998.7,1336.5 L1002.9,1336.5 L1007.0,1336.5 L1011.2,1336.5 L1015.3,1336.5 L1019.5,1336.5 L1023.7,1336.5 L1027.8,1336.5 L1032.0,1336.5 L1036.2,1336.5 L1040.3,1336.5 L1044.5,1336.5 L1048.7,1336.5 L1052.8,1336.5 L1057.0,1336.5 L1061.2,1336.5 L1065.3,1336.5 L1069.5,1336.5 L1073.7,1336.5 L1077.8,1336.5 L1082.0,1336.5 L1086.2,1336.5 L1090.3,1336.5 L1094.5,1336.5 L1098.7,1336.5 L1102.8,1336.5 L1107.0,1336.5 L1111.2,1336.5 L1115.3,1336.5 L1119.5,1336.5 L1123.7,1336.5 L1127.8,1336.4 L1132.0,1336.4 L1136.2,1336.3 L1140.3,1336.3 L1144.5,1336.1 L1148.6,1336.0 L1152.8,1335.8 L1157.0,1335.6 L1161.1,1335.3 L1165.3,1335.0 L1169.5,1334.6 L1173.6,1334.3 L1177.8,1333.9 L1182.0,1333.5 L1186.1,1333.1 L1190.3,1332.8 L1194.5,1332.6 L1198.6,1332.4 L1202.8,1332.4 L1202.8,1340.6 L1198.6,1340.6 L1194.5,1340.4 L1190.3,1340.2 L1186.1,1339.9 L1182.0,1339.5 L1177.8,1339.1 L1173.6,1338.7 L1169.5,1338.4 L1165.3,1338.0 L1161.1,1337.7 L1157.0,1337.4 L1152.8,1337.2 L1148.6,1337.0 L1144.5,1336.9 L1140.3,1336.7 L1136.2,1336.7 L1132.0,1336.6 L1127.8,1336.6 L1123.7,1336.5 L1119.5,1336.5 L1115.3,1336.5 L1111.2,1336.5 L1107.0,1336.5 L1102.8,1336.5 L1098.7,1336.5 L1094.5,1336.5 L1090.3,1336.5 L1086.2,1336.5 L1082.0,1336.5 L1077.8,1336.5 L1073.7,1336.5 L1069.5,1336.5 L1065.3,1336.5 L1061.2,1336.5 L1057.0,1336.5 L1052.8,1336.5 L1048.7,1336.5 L1044.5,1336.5 L1040.3,1336.5 L1036.2,1336.5 L1032.0,1336.5 L1027.8,1336.5 L1023.7,1336.5 L1019.5,1336.5 L1015.3,1336.5 L1011.2,1336.5 L1007.0,1336.5 L1002.9,1336.5 L998.7,1336.5 L994.5,1336.5 L990.4,1336.5 L986.2,1336.5 L982.0,1336.5 L977.9,1336.5 L973.7,1336.5 L969.5,1336.5 L965.4,1336.5 L961.2,1336.5 L957.0,1336.5 L952.9,1336.5 L948.7,1336.5 L944.5,1336.5 L940.4,1336.5 L936.2,1336.5 L932.0,1336.6 L927.9,1336.6 L923.7,1336.7 L919.5,1336.7 L915.4,1336.8 L911.2,1337.0 L907.0,1337.2 L902.9,1337.4 L898.7,1337.8 L894.5,1338.2 L890.4,1338.7 L886.2,1339.3 L882.1,1340.0 L877.9,1340.8 L873.7,1341.8 L869.6,1342.8 L865.4,1343.9 L861.2,1345.1 L857.1,1346.2 L852.9,1347.4 L848.7,1348.5 L844.6,1349.4 L840.4,1350.2 L836.2,1350.8 L832.1,1351.2 L827.9,1351.3 Z" fill="#9cbcd8" fill-opacity="0.5" stroke="#000" stroke-width="2.9" stroke-linejoin="round"/>
<path d="M1202.80,1295.70 L1213.00,1305.90 L1202.80,1316.10 L1192.60,1305.90 Z" fill="#d13c13"/>
<path d="M827.90,1326.30 L838.10,1336.50 L827.90,1346.70 L817.70,1336.50 Z" fill="#d13c13"/>
<path d="M827.9,1365.8 L832.1,1365.8 L836.2,1365.9 L840.4,1366.0 L844.6,1366.1 L848.7,1366.3 L852.9,1366.4 L857.1,1366.7 L861.2,1366.9 L865.4,1367.2 L869.6,1367.4 L873.7,1367.7 L877.9,1368.0 L882.1,1368.4 L886.2,1368.7 L890.4,1369.0 L894.5,1369.4 L898.7,1369.7 L902.9,1370.0 L907.0,1370.3 L911.2,1370.7 L915.4,1371.0 L919.5,1371.2 L923.7,1371.5 L927.9,1371.8 L932.0,1372.0 L936.2,1372.2 L940.4,1372.4 L944.5,1372.6 L948.7,1372.8 L952.9,1373.0 L957.0,1373.1 L961.2,1373.2 L965.4,1373.3 L969.5,1373.4 L973.7,1373.5 L977.9,1373.6 L982.0,1373.6 L986.2,1373.6 L990.4,1373.7 L994.5,1373.7 L998.7,1373.7 L1002.9,1373.6 L1007.0,1373.6 L1011.2,1373.5 L1015.3,1373.5 L1019.5,1373.4 L1023.7,1373.3 L1027.8,1373.2 L1032.0,1373.1 L1036.2,1373.0 L1040.3,1372.8 L1044.5,1372.6 L1048.7,1372.4 L1052.8,1372.2 L1057.0,1372.0 L1061.2,1371.8 L1065.3,1371.5 L1069.5,1371.2 L1073.7,1370.9 L1077.8,1370.6 L1082.0,1370.2 L1086.2,1369.8 L1090.3,1369.4 L1094.5,1369.0 L1098.7,1368.6 L1102.8,1368.2 L1107.0,1367.7 L1111.2,1367.2 L1115.3,1366.8 L1119.5,1366.3 L1123.7,1365.8 L1127.8,1365.3 L1132.0,1364.8 L1136.2,1364.3 L1140.3,1363.8 L1144.5,1363.3 L1148.6,1362.8 L1152.8,1362.4 L1157.0,1362.0 L1161.1,1361.6 L1165.3,1361.2 L1169.5,1360.8 L1173.6,1360.5 L1177.8,1360.2 L1182.0,1360.0 L1186.1,1359.8 L1190.3,1359.7 L1194.5,1359.5 L1198.6,1359.5 L1202.8,1359.5 L1202.8,1389.0 L1198.6,1389.0 L1194.5,1389.0 L1190.3,1388.8 L1186.1,1388.7 L1182.0,1388.5 L1177.8,1388.3 L1173.6,1388.0 L1169.5,1387.7 L1165.3,1387.3 L1161.1,1386.9 L1157.0,1386.5 L1152.8,1386.1 L1148.6,1385.7 L1144.5,1385.2 L1140.3,1384.7 L1136.2,1384.2 L1132.0,1383.7 L1127.8,1383.2 L1123.7,1382.7 L1119.5,1382.2 L1115.3,1381.7 L1111.2,1381.3 L1107.0,1380.8 L1102.8,1380.3 L1098.7,1379.9 L1094.5,1379.5 L1090.3,1379.1 L1086.2,1378.7 L1082.0,1378.3 L1077.8,1377.9 L1073.7,1377.6 L1069.5,1377.3 L1065.3,1377.0 L1061.2,1376.7 L1057.0,1376.5 L1052.8,1376.3 L1048.7,1376.1 L1044.5,1375.9 L1040.3,1375.7 L1036.2,1375.5 L1032.0,1375.4 L1027.8,1375.3 L1023.7,1375.2 L1019.5,1375.1 L1015.3,1375.0 L1011.2,1375.0 L1007.0,1374.9 L1002.9,1374.9 L998.7,1374.8 L994.5,1374.8 L990.4,1374.8 L986.2,1374.9 L982.0,1374.9 L977.9,1374.9 L973.7,1375.0 L969.5,1375.1 L965.4,1375.2 L961.2,1375.3 L957.0,1375.4 L952.9,1375.5 L948.7,1375.7 L944.5,1375.9 L940.4,1376.1 L936.2,1376.3 L932.0,1376.5 L927.9,1376.7 L923.7,1377.0 L919.5,1377.3 L915.4,1377.5 L911.2,1377.8 L907.0,1378.2 L902.9,1378.5 L898.7,1378.8 L894.5,1379.1 L890.4,1379.5 L886.2,1379.8 L882.1,1380.1 L877.9,1380.5 L873.7,1380.8 L869.6,1381.1 L865.4,1381.3 L861.2,1381.6 L857.1,1381.8 L852.9,1382.1 L848.7,1382.2 L844.6,1382.4 L840.4,1382.5 L836.2,1382.6 L832.1,1382.7 L827.9,1382.7 Z" fill="#e8a9a3" fill-opacity="0.5" stroke="#000" stroke-width="2.9" stroke-linejoin="round"/>
<path d="M827.9,1390.0 L832.1,1390.2 L836.2,1390.4 L840.4,1390.9 L844.6,1391.6 L848.7,1392.4 L852.9,1393.3 L857.1,1394.3 L861.2,1395.3 L865.4,1396.3 L869.6,1397.4 L873.7,1398.4 L877.9,1399.3 L882.1,1400.2 L886.2,1401.0 L890.4,1401.7 L894.5,1402.3 L898.7,1402.8 L902.9,1403.2 L907.0,1403.6 L911.2,1403.9 L915.4,1404.1 L919.5,1404.3 L923.7,1404.5 L927.9,1404.6 L932.0,1404.6 L936.2,1404.7 L940.4,1404.7 L944.5,1404.8 L948.7,1404.8 L952.9,1404.8 L957.0,1404.8 L961.2,1404.8 L965.4,1404.8 L969.5,1404.8 L973.7,1404.8 L977.9,1404.8 L982.0,1404.8 L986.2,1404.8 L990.4,1404.8 L994.5,1404.8 L998.7,1404.8 L1002.9,1404.8 L1007.0,1404.8 L1011.2,1404.8 L1015.3,1404.8 L1019.5,1404.8 L1023.7,1404.8 L1027.8,1404.8 L1032.0,1404.8 L1036.2,1404.8 L1040.3,1404.8 L1044.5,1404.8 L1048.7,1404.8 L1052.8,1404.8 L1057.0,1404.8 L1061.2,1404.8 L1065.3,1404.8 L1069.5,1404.8 L1073.7,1404.8 L1077.8,1404.8 L1082.0,1404.8 L1086.2,1404.8 L1090.3,1404.8 L1094.5,1404.8 L1098.7,1404.8 L1102.8,1404.8 L1107.0,1404.7 L1111.2,1404.7 L1115.3,1404.6 L1119.5,1404.5 L1123.7,1404.4 L1127.8,1404.2 L1132.0,1404.0 L1136.2,1403.8 L1140.3,1403.5 L1144.5,1403.2 L1148.6,1402.8 L1152.8,1402.4 L1157.0,1401.9 L1161.1,1401.4 L1165.3,1400.9 L1169.5,1400.3 L1173.6,1399.8 L1177.8,1399.2 L1182.0,1398.7 L1186.1,1398.3 L1190.3,1397.9 L1194.5,1397.7 L1198.6,1397.5 L1202.8,1397.4 L1202.8,1412.2 L1198.6,1412.2 L1194.5,1412.0 L1190.3,1411.8 L1186.1,1411.4 L1182.0,1411.0 L1177.8,1410.5 L1173.6,1409.9 L1169.5,1409.4 L1165.3,1408.8 L1161.1,1408.3 L1157.0,1407.8 L1152.8,1407.3 L1148.6,1406.9 L1144.5,1406.5 L1140.3,1406.2 L1136.2,1405.9 L1132.0,1405.7 L1127.8,1405.5 L1123.7,1405.3 L1119.5,1405.2 L1115.3,1405.1 L1111.2,1405.0 L1107.0,1405.0 L1102.8,1404.9 L1098.7,1404.9 L1094.5,1404.9 L1090.3,1404.9 L1086.2,1404.9 L1082.0,1404.9 L1077.8,1404.9 L1073.7,1404.9 L1069.5,1404.9 L1065.3,1404.9 L1061.2,1404.9 L1057.0,1404.9 L1052.8,1404.9 L1048.7,1404.9 L1044.5,1404.9 L1040.3,1404.9 L1036.2,1404.9 L1032.0,1404.9 L1027.8,1404.9 L1023.7,1404.9 L1019.5,1404.9 L1015.3,1404.9 L1011.2,1404.9 L1007.0,1404.9 L1002.9,1404.9 L998.7,1404.9 L994.5,1404.9 L990.4,1404.9 L986.2,1404.9 L982.0,1404.9 L977.9,1404.9 L973.7,1404.9 L969.5,1404.9 L965.4,1404.9 L961.2,1404.9 L957.0,1404.9 L952.9,1404.9 L948.7,1404.9 L944.5,1404.9 L940.4,1405.0 L936.2,1405.0 L932.0,1405.1 L927.9,1405.1 L923.7,1405.2 L919.5,1405.4 L915.4,1405.6 L911.2,1405.8 L907.0,1406.1 L902.9,1406.5 L898.7,1406.9 L894.5,1407.4 L890.4,1408.0 L886.2,1408.7 L882.1,1409.5 L877.9,1410.4 L873.7,1411.3 L869.6,1412.3 L865.4,1413.4 L861.2,1414.4 L857.1,1415.4 L852.9,1416.4 L848.7,1417.3 L844.6,1418.1 L840.4,1418.8 L836.2,1419.3 L832.1,1419.5 L827.9,1419.6 Z" fill="#9cbcd8" fill-opacity="0.5" stroke="#000" stroke-width="2.9" stroke-linejoin="round"/>
<path d="M1202.80,1364.05 L1213.00,1374.25 L1202.80,1384.45 L1192.60,1374.25 Z" fill="#d13c13"/>
<path d="M827.90,1394.65 L838.10,1404.85 L827.90,1415.05 L817.70,1404.85 Z" fill="#d13c13"/>
<path d="M827.9,1429.3 L832.1,1429.3 L836.2,1429.4 L840.4,1429.5 L844.6,1429.6 L848.7,1429.8 L852.9,1430.1 L857.1,1430.4 L861.2,1430.7 L865.4,1431.0 L869.6,1431.4 L873.7,1431.8 L877.9,1432.2 L882.1,1432.6 L886.2,1433.1 L890.4,1433.5 L894.5,1434.0 L898.7,1434.5 L902.9,1434.9 L907.0,1435.4 L911.2,1435.9 L915.4,1436.3 L919.5,1436.8 L923.7,1437.2 L927.9,1437.6 L932.0,1438.0 L936.2,1438.4 L940.4,1438.8 L944.5,1439.1 L948.7,1439.4 L952.9,1439.7 L957.0,1440.0 L961.2,1440.2 L965.4,1440.5 L969.5,1440.7 L973.7,1440.9 L977.9,1441.0 L982.0,1441.2 L986.2,1441.3 L990.4,1441.4 L994.5,1441.5 L998.7,1441.6 L1002.9,1441.7 L1007.0,1441.7 L1011.2,1441.7 L1015.3,1441.7 L1019.5,1441.7 L1023.7,1441.7 L1027.8,1441.6 L1032.0,1441.5 L1036.2,1441.5 L1040.3,1441.3 L1044.5,1441.2 L1048.7,1441.1 L1052.8,1440.9 L1057.0,1440.7 L1061.2,1440.5 L1065.3,1440.2 L1069.5,1440.0 L1073.7,1439.7 L1077.8,1439.4 L1082.0,1439.1 L1086.2,1438.7 L1090.3,1438.3 L1094.5,1437.9 L1098.7,1437.5 L1102.8,1437.1 L1107.0,1436.6 L1111.2,1436.1 L1115.3,1435.6 L1119.5,1435.1 L1123.7,1434.6 L1127.8,1434.1 L1132.0,1433.6 L1136.2,1433.0 L1140.3,1432.5 L1144.5,1432.0 L1148.6,1431.5 L1152.8,1431.0 L1157.0,1430.6 L1161.1,1430.1 L1165.3,1429.7 L1169.5,1429.3 L1173.6,1429.0 L1177.8,1428.7 L1182.0,1428.4 L1186.1,1428.2 L1190.3,1428.0 L1194.5,1427.9 L1198.6,1427.8 L1202.8,1427.8 L1202.8,1457.4 L1198.6,1457.4 L1194.5,1457.3 L1190.3,1457.2 L1186.1,1457.0 L1182.0,1456.8 L1177.8,1456.5 L1173.6,1456.2 L1169.5,1455.9 L1165.3,1455.5 L1161.1,1455.1 L1157.0,1454.6 L1152.8,1454.2 L1148.6,1453.7 L1144.5,1453.2 L1140.3,1452.7 L1136.2,1452.2 L1132.0,1451.6 L1127.8,1451.1 L1123.7,1450.6 L1119.5,1450.1 L1115.3,1449.6 L1111.2,1449.1 L1107.0,1448.6 L1102.8,1448.1 L1098.7,1447.7 L1094.5,1447.3 L1090.3,1446.9 L1086.2,1446.5 L1082.0,1446.1 L1077.8,1445.8 L1073.7,1445.5 L1069.5,1445.2 L1065.3,1445.0 L1061.2,1444.7 L1057.0,1444.5 L1052.8,1444.3 L1048.7,1444.1 L1044.5,1444.0 L1040.3,1443.9 L1036.2,1443.7 L1032.0,1443.7 L1027.8,1443.6 L1023.7,1443.5 L1019.5,1443.5 L1015.3,1443.5 L1011.2,1443.5 L1007.0,1443.5 L1002.9,1443.5 L998.7,1443.6 L994.5,1443.7 L990.4,1443.8 L986.2,1443.9 L982.0,1444.0 L977.9,1444.2 L973.7,1444.3 L969.5,1444.5 L965.4,1444.7 L961.2,1445.0 L957.0,1445.2 L952.9,1445.5 L948.7,1445.8 L944.5,1446.1 L940.4,1446.4 L936.2,1446.8 L932.0,1447.2 L927.9,1447.6 L923.7,1448.0 L919.5,1448.4 L915.4,1448.9 L911.2,1449.3 L907.0,1449.8 L902.9,1450.3 L898.7,1450.7 L894.5,1451.2 L890.4,1451.7 L886.2,1452.1 L882.1,1452.6 L877.9,1453.0 L873.7,1453.4 L869.6,1453.8 L865.4,1454.2 L861.2,1454.5 L857.1,1454.8 L852.9,1455.1 L848.7,1455.4 L844.6,1455.6 L840.4,1455.7 L836.2,1455.8 L832.1,1455.9 L827.9,1455.9 Z" fill="#e8a9a3" fill-opacity="0.5" stroke="#000" stroke-width="2.9" stroke-linejoin="round"/>
<path d="M827.9,1458.4 L832.1,1458.5 L836.2,1458.8 L840.4,1459.4 L844.6,1460.1 L848.7,1461.0 L852.9,1462.0 L857.1,1463.0 L861.2,1464.1 L865.4,1465.2 L869.6,1466.3 L873.7,1467.3 L877.9,1468.3 L882.1,1469.1 L886.2,1469.9 L890.4,1470.5 L894.5,1471.1 L898.7,1471.6 L902.9,1471.9 L907.0,1472.3 L911.2,1472.5 L915.4,1472.7 L919.5,1472.8 L923.7,1472.9 L927.9,1473.0 L932.0,1473.1 L936.2,1473.1 L940.4,1473.1 L944.5,1473.2 L948.7,1473.2 L952.9,1473.2 L957.0,1473.2 L961.2,1473.2 L965.4,1473.2 L969.5,1473.2 L973.7,1473.2 L977.9,1473.2 L982.0,1473.2 L986.2,1473.2 L990.4,1473.2 L994.5,1473.2 L998.7,1473.2 L1002.9,1473.2 L1007.0,1473.2 L1011.2,1473.2 L1015.3,1473.2 L1019.5,1473.2 L1023.7,1473.2 L1027.8,1473.2 L1032.0,1473.2 L1036.2,1473.2 L1040.3,1473.2 L1044.5,1473.2 L1048.7,1473.2 L1052.8,1473.2 L1057.0,1473.2 L1061.2,1473.2 L1065.3,1473.2 L1069.5,1473.2 L1073.7,1473.2 L1077.8,1473.2 L1082.0,1473.2 L1086.2,1473.2 L1090.3,1473.2 L1094.5,1473.2 L1098.7,1473.2 L1102.8,1473.1 L1107.0,1473.1 L1111.2,1473.1 L1115.3,1473.0 L1119.5,1472.9 L1123.7,1472.8 L1127.8,1472.7 L1132.0,1472.6 L1136.2,1472.4 L1140.3,1472.2 L1144.5,1471.9 L1148.6,1471.6 L1152.8,1471.3 L1157.0,1470.9 L1161.1,1470.5 L1165.3,1470.1 L1169.5,1469.7 L1173.6,1469.2 L1177.8,1468.8 L1182.0,1468.4 L1186.1,1468.1 L1190.3,1467.8 L1194.5,1467.6 L1198.6,1467.5 L1202.8,1467.4 L1202.8,1479.0 L1198.6,1478.9 L1194.5,1478.8 L1190.3,1478.6 L1186.1,1478.3 L1182.0,1478.0 L1177.8,1477.6 L1173.6,1477.2 L1169.5,1476.7 L1165.3,1476.3 L1161.1,1475.9 L1157.0,1475.5 L1152.8,1475.1 L1148.6,1474.8 L1144.5,1474.5 L1140.3,1474.2 L1136.2,1474.0 L1132.0,1473.8 L1127.8,1473.7 L1123.7,1473.6 L1119.5,1473.5 L1115.3,1473.4 L1111.2,1473.3 L1107.0,1473.3 L1102.8,1473.3 L1098.7,1473.2 L1094.5,1473.2 L1090.3,1473.2 L1086.2,1473.2 L1082.0,1473.2 L1077.8,1473.2 L1073.7,1473.2 L1069.5,1473.2 L1065.3,1473.2 L1061.2,1473.2 L1057.0,1473.2 L1052.8,1473.2 L1048.7,1473.2 L1044.5,1473.2 L1040.3,1473.2 L1036.2,1473.2 L1032.0,1473.2 L1027.8,1473.2 L1023.7,1473.2 L1019.5,1473.2 L1015.3,1473.2 L1011.2,1473.2 L1007.0,1473.2 L1002.9,1473.2 L998.7,1473.2 L994.5,1473.2 L990.4,1473.2 L986.2,1473.2 L982.0,1473.2 L977.9,1473.2 L973.7,1473.2 L969.5,1473.2 L965.4,1473.2 L961.2,1473.2 L957.0,1473.2 L952.9,1473.2 L948.7,1473.2 L944.5,1473.2 L940.4,1473.3 L936.2,1473.3 L932.0,1473.3 L927.9,1473.4 L923.7,1473.5 L919.5,1473.6 L915.4,1473.7 L911.2,1473.9 L907.0,1474.1 L902.9,1474.5 L898.7,1474.8 L894.5,1475.3 L890.4,1475.9 L886.2,1476.5 L882.1,1477.3 L877.9,1478.1 L873.7,1479.1 L869.6,1480.1 L865.4,1481.2 L861.2,1482.3 L857.1,1483.4 L852.9,1484.4 L848.7,1485.4 L844.6,1486.3 L840.4,1487.0 L836.2,1487.6 L832.1,1487.9 L827.9,1488.0 Z" fill="#9cbcd8" fill-opacity="0.5" stroke="#000" stroke-width="2.9" stroke-linejoin="round"/>
<path d="M1202.80,1432.40 L1213.00,1442.60 L1202.80,1452.80 L1192.60,1442.60 Z" fill="#d13c13"/>
<path d="M827.90,1463.00 L838.10,1473.20 L827.90,1483.40 L817.70,1473.20 Z" fill="#d13c13"/>
<path d="M827.9,1496.2 L832.1,1496.2 L836.2,1496.2 L840.4,1496.3 L844.6,1496.4 L848.7,1496.6 L852.9,1496.7 L857.1,1496.9 L861.2,1497.1 L865.4,1497.4 L869.6,1497.6 L873.7,1497.8 L877.9,1498.1 L882.1,1498.4 L886.2,1498.6 L890.4,1498.9 L894.5,1499.1 L898.7,1499.3 L902.9,1499.5 L907.0,1499.7 L911.2,1499.9 L915.4,1500.1 L919.5,1500.2 L923.7,1500.3 L927.9,1500.5 L932.0,1500.6 L936.2,1500.7 L940.4,1500.8 L944.5,1500.9 L948.7,1500.9 L952.9,1501.0 L957.0,1501.1 L961.2,1501.2 L965.4,1501.3 L969.5,1501.4 L973.7,1501.4 L977.9,1501.5 L982.0,1501.6 L986.2,1501.7 L990.4,1501.7 L994.5,1501.8 L998.7,1501.8 L1002.9,1501.9 L1007.0,1502.0 L1011.2,1502.0 L1015.3,1502.1 L1019.5,1502.1 L1023.7,1502.2 L1027.8,1502.2 L1032.0,1502.3 L1036.2,1502.3 L1040.3,1502.4 L1044.5,1502.4 L1048.7,1502.5 L1052.8,1502.5 L1057.0,1502.6 L1061.2,1502.6 L1065.3,1502.6 L1069.5,1502.7 L1073.7,1502.7 L1077.8,1502.7 L1082.0,1502.8 L1086.2,1502.8 L1090.3,1502.8 L1094.5,1502.9 L1098.7,1502.9 L1102.8,1502.9 L1107.0,1502.9 L1111.2,1503.0 L1115.3,1503.0 L1119.5,1503.0 L1123.7,1503.0 L1127.8,1503.0 L1132.0,1503.1 L1136.2,1503.1 L1140.3,1503.1 L1144.5,1503.1 L1148.6,1503.1 L1152.8,1503.2 L1157.0,1503.2 L1161.1,1503.2 L1165.3,1503.2 L1169.5,1503.2 L1173.6,1503.2 L1177.8,1503.2 L1182.0,1503.2 L1186.1,1503.2 L1190.3,1503.2 L1194.5,1503.3 L1198.6,1503.3 L1202.8,1503.3 L1202.8,1518.6 L1198.6,1518.6 L1194.5,1518.6 L1190.3,1518.7 L1186.1,1518.7 L1182.0,1518.7 L1177.8,1518.7 L1173.6,1518.7 L1169.5,1518.7 L1165.3,1518.7 L1161.1,1518.7 L1157.0,1518.7 L1152.8,1518.7 L1148.6,1518.8 L1144.5,1518.8 L1140.3,1518.8 L1136.2,1518.8 L1132.0,1518.8 L1127.8,1518.9 L1123.7,1518.9 L1119.5,1518.9 L1115.3,1518.9 L1111.2,1518.9 L1107.0,1519.0 L1102.8,1519.0 L1098.7,1519.0 L1094.5,1519.0 L1090.3,1519.1 L1086.2,1519.1 L1082.0,1519.1 L1077.8,1519.2 L1073.7,1519.2 L1069.5,1519.2 L1065.3,1519.3 L1061.2,1519.3 L1057.0,1519.3 L1052.8,1519.4 L1048.7,1519.4 L1044.5,1519.5 L1040.3,1519.5 L1036.2,1519.6 L1032.0,1519.6 L1027.8,1519.7 L1023.7,1519.7 L1019.5,1519.8 L1015.3,1519.8 L1011.2,1519.9 L1007.0,1519.9 L1002.9,1520.0 L998.7,1520.1 L994.5,1520.1 L990.4,1520.2 L986.2,1520.2 L982.0,1520.3 L977.9,1520.4 L973.7,1520.5 L969.5,1520.5 L965.4,1520.6 L961.2,1520.7 L957.0,1520.8 L952.9,1520.9 L948.7,1521.0 L944.5,1521.0 L940.4,1521.1 L936.2,1521.2 L932.0,1521.3 L927.9,1521.4 L923.7,1521.6 L919.5,1521.7 L915.4,1521.8 L911.2,1522.0 L907.0,1522.2 L902.9,1522.4 L898.7,1522.6 L894.5,1522.8 L890.4,1523.0 L886.2,1523.3 L882.1,1523.5 L877.9,1523.8 L873.7,1524.1 L869.6,1524.3 L865.4,1524.5 L861.2,1524.8 L857.1,1525.0 L852.9,1525.2 L848.7,1525.3 L844.6,1525.5 L840.4,1525.6 L836.2,1525.7 L832.1,1525.7 L827.9,1525.8 Z" fill="#e8a9a3" fill-opacity="0.5" stroke="#000" stroke-width="2.9" stroke-linejoin="round"/>
<path d="M827.9,1526.8 L832.1,1527.1 L836.2,1528.1 L840.4,1529.7 L844.6,1531.6 L848.7,1533.6 L852.9,1535.5 L857.1,1537.1 L861.2,1538.5 L865.4,1539.5 L869.6,1540.3 L873.7,1540.8 L877.9,1541.1 L882.1,1541.3 L886.2,1541.4 L890.4,1541.5 L894.5,1541.5 L898.7,1541.5 L902.9,1541.5 L907.0,1541.5 L911.2,1541.5 L915.4,1541.5 L919.5,1541.5 L923.7,1541.4 L927.9,1541.3 L932.0,1541.2 L936.2,1541.0 L940.4,1540.8 L944.5,1540.7 L948.7,1540.6 L952.9,1540.5 L957.0,1540.6 L961.2,1540.7 L965.4,1540.8 L969.5,1541.0 L973.7,1541.2 L977.9,1541.3 L982.0,1541.4 L986.2,1541.5 L990.4,1541.5 L994.5,1541.5 L998.7,1541.5 L1002.9,1541.5 L1007.0,1541.5 L1011.2,1541.5 L1015.3,1541.5 L1019.5,1541.5 L1023.7,1541.5 L1027.8,1541.5 L1032.0,1541.5 L1036.2,1541.4 L1040.3,1541.3 L1044.5,1541.2 L1048.7,1541.0 L1052.8,1540.7 L1057.0,1540.3 L1061.2,1539.9 L1065.3,1539.5 L1069.5,1539.2 L1073.7,1539.0 L1077.8,1538.9 L1082.0,1539.0 L1086.2,1539.2 L1090.3,1539.5 L1094.5,1539.9 L1098.7,1540.3 L1102.8,1540.7 L1107.0,1540.9 L1111.2,1541.2 L1115.3,1541.3 L1119.5,1541.4 L1123.7,1541.5 L1127.8,1541.5 L1132.0,1541.5 L1136.2,1541.5 L1140.3,1541.5 L1144.5,1541.5 L1148.6,1541.5 L1152.8,1541.5 L1157.0,1541.5 L1161.1,1541.5 L1165.3,1541.5 L1169.5,1541.4 L1173.6,1541.3 L1177.8,1541.1 L1182.0,1540.8 L1186.1,1540.5 L1190.3,1540.2 L1194.5,1539.9 L1198.6,1539.7 L1202.8,1539.6 L1202.8,1543.5 L1198.6,1543.4 L1194.5,1543.2 L1190.3,1542.9 L1186.1,1542.6 L1182.0,1542.3 L1177.8,1542.0 L1173.6,1541.8 L1169.5,1541.7 L1165.3,1541.6 L1161.1,1541.6 L1157.0,1541.6 L1152.8,1541.6 L1148.6,1541.6 L1144.5,1541.6 L1140.3,1541.6 L1136.2,1541.6 L1132.0,1541.6 L1127.8,1541.6 L1123.7,1541.6 L1119.5,1541.7 L1115.3,1541.8 L1111.2,1541.9 L1107.0,1542.2 L1102.8,1542.4 L1098.7,1542.8 L1094.5,1543.2 L1090.3,1543.6 L1086.2,1543.9 L1082.0,1544.1 L1077.8,1544.2 L1073.7,1544.1 L1069.5,1543.9 L1065.3,1543.6 L1061.2,1543.2 L1057.0,1542.8 L1052.8,1542.4 L1048.7,1542.1 L1044.5,1541.9 L1040.3,1541.8 L1036.2,1541.7 L1032.0,1541.6 L1027.8,1541.6 L1023.7,1541.6 L1019.5,1541.6 L1015.3,1541.6 L1011.2,1541.6 L1007.0,1541.6 L1002.9,1541.6 L998.7,1541.6 L994.5,1541.6 L990.4,1541.6 L986.2,1541.6 L982.0,1541.7 L977.9,1541.8 L973.7,1541.9 L969.5,1542.1 L965.4,1542.3 L961.2,1542.4 L957.0,1542.5 L952.9,1542.6 L948.7,1542.5 L944.5,1542.4 L940.4,1542.3 L936.2,1542.1 L932.0,1541.9 L927.9,1541.8 L923.7,1541.7 L919.5,1541.6 L915.4,1541.6 L911.2,1541.6 L907.0,1541.6 L902.9,1541.6 L898.7,1541.6 L894.5,1541.6 L890.4,1541.6 L886.2,1541.7 L882.1,1541.8 L877.9,1542.0 L873.7,1542.3 L869.6,1542.8 L865.4,1543.6 L861.2,1544.6 L857.1,1546.0 L852.9,1547.6 L848.7,1549.5 L844.6,1551.5 L840.4,1553.4 L836.2,1555.0 L832.1,1556.0 L827.9,1556.3 Z" fill="#9cbcd8" fill-opacity="0.5" stroke="#000" stroke-width="2.9" stroke-linejoin="round"/>
<path d="M952.74,1500.75 L962.94,1510.95 L952.74,1521.15 L942.54,1510.95 Z" fill="#d13c13"/>
<path d="M827.90,1531.35 L838.10,1541.55 L827.90,1551.75 L817.70,1541.55 Z" fill="#d13c13"/>
<path d="M827.9,1577.8 L831.5,1577.8 L835.2,1577.7 L838.8,1577.5 L842.4,1577.3 L846.1,1577.0 L849.7,1576.7 L853.4,1576.4 L857.0,1576.0 L860.6,1575.6 L864.3,1575.1 L867.9,1574.7 L871.5,1574.2 L875.2,1573.7 L878.8,1573.2 L882.4,1572.8 L886.1,1572.3 L889.7,1571.9 L893.4,1571.4 L897.0,1571.0 L900.6,1570.6 L904.3,1570.3 L907.9,1569.9 L911.5,1569.5 L915.2,1569.1 L918.8,1568.7 L922.4,1568.3 L926.1,1567.9 L929.7,1567.5 L933.4,1567.0 L937.0,1566.6 L940.6,1566.3 L944.3,1565.9 L947.9,1565.6 L951.5,1565.3 L955.2,1565.0 L958.8,1564.8 L962.5,1564.6 L966.1,1564.5 L969.7,1564.5 L973.4,1564.5 L977.0,1564.5 L980.6,1564.6 L984.3,1564.6 L987.9,1564.7 L991.5,1564.7 L995.2,1564.8 L998.8,1564.9 L1002.5,1565.0 L1006.1,1565.1 L1009.7,1565.2 L1013.4,1565.3 L1017.0,1565.4 L1020.6,1565.6 L1024.3,1565.7 L1027.9,1565.9 L1031.5,1566.2 L1035.2,1566.4 L1038.8,1566.7 L1042.5,1566.9 L1046.1,1567.2 L1049.7,1567.6 L1053.4,1567.9 L1057.0,1568.2 L1060.6,1568.5 L1064.3,1568.9 L1067.9,1569.2 L1071.5,1569.6 L1075.2,1569.9 L1078.8,1570.3 L1082.5,1570.6 L1086.1,1570.9 L1089.7,1571.3 L1093.4,1571.6 L1097.0,1571.9 L1100.6,1572.3 L1104.3,1572.8 L1107.9,1573.2 L1111.5,1573.7 L1115.2,1574.1 L1118.8,1574.6 L1122.5,1575.0 L1126.1,1575.4 L1129.7,1575.8 L1133.4,1576.2 L1137.0,1576.5 L1140.6,1576.8 L1144.3,1577.0 L1147.9,1577.2 L1151.6,1577.3 L1155.2,1577.4 L1155.2,1581.2 L1151.6,1581.3 L1147.9,1581.4 L1144.3,1581.6 L1140.6,1581.8 L1137.0,1582.1 L1133.4,1582.4 L1129.7,1582.8 L1126.1,1583.2 L1122.5,1583.6 L1118.8,1584.0 L1115.2,1584.5 L1111.5,1584.9 L1107.9,1585.4 L1104.3,1585.8 L1100.6,1586.3 L1097.0,1586.7 L1093.4,1587.0 L1089.7,1587.3 L1086.1,1587.7 L1082.5,1588.0 L1078.8,1588.3 L1075.2,1588.7 L1071.5,1589.0 L1067.9,1589.4 L1064.3,1589.7 L1060.6,1590.1 L1057.0,1590.4 L1053.4,1590.7 L1049.7,1591.0 L1046.1,1591.4 L1042.5,1591.7 L1038.8,1591.9 L1035.2,1592.2 L1031.5,1592.4 L1027.9,1592.7 L1024.3,1592.9 L1020.6,1593.0 L1017.0,1593.2 L1013.4,1593.3 L1009.7,1593.4 L1006.1,1593.5 L1002.5,1593.6 L998.8,1593.7 L995.2,1593.8 L991.5,1593.9 L987.9,1593.9 L984.3,1594.0 L980.6,1594.0 L977.0,1594.1 L973.4,1594.1 L969.7,1594.1 L966.1,1594.1 L962.5,1594.0 L958.8,1593.8 L955.2,1593.6 L951.5,1593.3 L947.9,1593.0 L944.3,1592.7 L940.6,1592.3 L937.0,1592.0 L933.4,1591.6 L929.7,1591.1 L926.1,1590.7 L922.4,1590.3 L918.8,1589.9 L915.2,1589.5 L911.5,1589.1 L907.9,1588.7 L904.3,1588.3 L900.6,1588.0 L897.0,1587.6 L893.4,1587.2 L889.7,1586.7 L886.1,1586.3 L882.4,1585.8 L878.8,1585.4 L875.2,1584.9 L871.5,1584.4 L867.9,1583.9 L864.3,1583.5 L860.6,1583.0 L857.0,1582.6 L853.4,1582.2 L849.7,1581.9 L846.1,1581.6 L842.4,1581.3 L838.8,1581.1 L835.2,1580.9 L831.5,1580.8 L827.9,1580.8 Z" fill="#e8a9a3" fill-opacity="0.5" stroke="#000" stroke-width="2.9" stroke-linejoin="round"/>
<path d="M827.9,1601.9 L832.1,1601.9 L836.2,1601.8 L840.4,1601.7 L844.6,1601.6 L848.7,1601.4 L852.9,1601.2 L857.1,1601.0 L861.2,1600.8 L865.4,1600.6 L869.6,1600.3 L873.7,1600.1 L877.9,1599.9 L882.1,1599.6 L886.2,1599.4 L890.4,1599.2 L894.5,1598.9 L898.7,1598.6 L902.9,1598.2 L907.0,1597.9 L911.2,1597.5 L915.4,1597.1 L919.5,1596.8 L923.7,1596.5 L927.9,1596.1 L932.0,1595.8 L936.2,1595.6 L940.4,1595.4 L944.5,1595.2 L948.7,1595.1 L952.9,1595.1 L957.0,1595.1 L961.2,1595.2 L965.4,1595.3 L969.5,1595.5 L973.7,1595.7 L977.9,1596.0 L982.0,1596.2 L986.2,1596.5 L990.4,1596.8 L994.5,1597.2 L998.7,1597.5 L1002.9,1597.8 L1007.0,1598.2 L1011.2,1598.5 L1015.3,1598.8 L1019.5,1599.1 L1023.7,1599.5 L1027.8,1599.9 L1032.0,1600.3 L1036.2,1600.7 L1040.3,1601.2 L1044.5,1601.6 L1048.7,1602.1 L1052.8,1602.5 L1057.0,1603.0 L1061.2,1603.4 L1065.3,1603.8 L1069.5,1604.3 L1073.7,1604.6 L1077.8,1605.0 L1082.0,1605.4 L1086.2,1605.7 L1090.3,1606.1 L1094.5,1606.4 L1098.7,1606.8 L1102.8,1607.1 L1107.0,1607.4 L1111.2,1607.7 L1115.3,1608.0 L1119.5,1608.2 L1123.7,1608.4 L1127.8,1608.6 L1132.0,1608.7 L1136.2,1608.8 L1140.3,1609.0 L1144.5,1609.1 L1148.6,1609.2 L1152.8,1609.3 L1157.0,1609.4 L1161.1,1609.4 L1165.3,1609.5 L1169.5,1609.5 L1173.6,1609.5 L1177.8,1609.5 L1182.0,1609.6 L1186.1,1609.6 L1190.3,1609.6 L1194.5,1609.6 L1198.6,1609.6 L1202.8,1609.6 L1202.8,1610.2 L1198.6,1610.2 L1194.5,1610.2 L1190.3,1610.2 L1186.1,1610.2 L1182.0,1610.2 L1177.8,1610.3 L1173.6,1610.3 L1169.5,1610.3 L1165.3,1610.3 L1161.1,1610.4 L1157.0,1610.4 L1152.8,1610.5 L1148.6,1610.6 L1144.5,1610.7 L1140.3,1610.8 L1136.2,1611.0 L1132.0,1611.1 L1127.8,1611.2 L1123.7,1611.4 L1119.5,1611.6 L1115.3,1611.8 L1111.2,1612.1 L1107.0,1612.4 L1102.8,1612.7 L1098.7,1613.0 L1094.5,1613.4 L1090.3,1613.7 L1086.2,1614.1 L1082.0,1614.4 L1077.8,1614.8 L1073.7,1615.2 L1069.5,1615.5 L1065.3,1616.0 L1061.2,1616.4 L1057.0,1616.8 L1052.8,1617.3 L1048.7,1617.7 L1044.5,1618.2 L1040.3,1618.6 L1036.2,1619.1 L1032.0,1619.5 L1027.8,1619.9 L1023.7,1620.3 L1019.5,1620.7 L1015.3,1621.0 L1011.2,1621.3 L1007.0,1621.6 L1002.9,1622.0 L998.7,1622.3 L994.5,1622.6 L990.4,1623.0 L986.2,1623.3 L982.0,1623.6 L977.9,1623.8 L973.7,1624.1 L969.5,1624.3 L965.4,1624.5 L961.2,1624.6 L957.0,1624.7 L952.9,1624.7 L948.7,1624.7 L944.5,1624.6 L940.4,1624.4 L936.2,1624.2 L932.0,1624.0 L927.9,1623.7 L923.7,1623.3 L919.5,1623.0 L915.4,1622.7 L911.2,1622.3 L907.0,1621.9 L902.9,1621.6 L898.7,1621.2 L894.5,1620.9 L890.4,1620.6 L886.2,1620.4 L882.1,1620.2 L877.9,1619.9 L873.7,1619.7 L869.6,1619.5 L865.4,1619.2 L861.2,1619.0 L857.1,1618.8 L852.9,1618.6 L848.7,1618.4 L844.6,1618.2 L840.4,1618.1 L836.2,1618.0 L832.1,1617.9 L827.9,1617.9 Z" fill="#9cbcd8" fill-opacity="0.5" stroke="#000" stroke-width="2.9" stroke-linejoin="round"/>
<path d="M981.61,1569.10 L991.81,1579.30 L981.61,1589.50 L971.41,1579.30 Z" fill="#d13c13"/>
<path d="M943.74,1599.70 L953.94,1609.90 L943.74,1620.10 L933.54,1609.90 Z" fill="#d13c13"/>
<path d="M827.9,1637.6 L832.1,1637.6 L836.2,1637.6 L840.4,1637.6 L844.6,1637.6 L848.7,1637.6 L852.9,1637.6 L857.1,1637.6 L861.2,1637.6 L865.4,1637.6 L869.6,1637.6 L873.7,1637.6 L877.9,1637.6 L882.1,1637.6 L886.2,1637.7 L890.4,1637.7 L894.5,1637.7 L898.7,1637.7 L902.9,1637.7 L907.0,1637.7 L911.2,1637.7 L915.4,1637.7 L919.5,1637.7 L923.7,1637.7 L927.9,1637.7 L932.0,1637.8 L936.2,1637.8 L940.4,1637.8 L944.5,1637.8 L948.7,1637.8 L952.9,1637.8 L957.0,1637.8 L961.2,1637.8 L965.4,1637.8 L969.5,1637.8 L973.7,1637.8 L977.9,1637.9 L982.0,1637.9 L986.2,1637.9 L990.4,1637.9 L994.5,1637.9 L998.7,1637.9 L1002.9,1637.9 L1007.0,1637.9 L1011.2,1637.9 L1015.3,1637.9 L1019.5,1637.9 L1023.7,1637.8 L1027.8,1637.8 L1032.0,1637.7 L1036.2,1637.7 L1040.3,1637.6 L1044.5,1637.5 L1048.7,1637.4 L1052.8,1637.3 L1057.0,1637.2 L1061.2,1637.0 L1065.3,1636.9 L1069.5,1636.8 L1073.7,1636.6 L1077.8,1636.5 L1082.0,1636.4 L1086.2,1636.2 L1090.3,1636.1 L1094.5,1635.9 L1098.7,1635.8 L1102.8,1635.7 L1107.0,1635.6 L1111.2,1635.5 L1115.3,1635.3 L1119.5,1635.2 L1123.7,1635.1 L1127.8,1634.9 L1132.0,1634.8 L1136.2,1634.6 L1140.3,1634.5 L1144.5,1634.3 L1148.6,1634.1 L1152.8,1634.0 L1157.0,1633.8 L1161.1,1633.7 L1165.3,1633.5 L1169.5,1633.4 L1173.6,1633.3 L1177.8,1633.2 L1182.0,1633.1 L1186.1,1633.0 L1190.3,1632.9 L1194.5,1632.9 L1198.6,1632.9 L1202.8,1632.9 L1202.8,1662.5 L1198.6,1662.4 L1194.5,1662.4 L1190.3,1662.4 L1186.1,1662.3 L1182.0,1662.2 L1177.8,1662.1 L1173.6,1662.0 L1169.5,1661.9 L1165.3,1661.8 L1161.1,1661.6 L1157.0,1661.5 L1152.8,1661.3 L1148.6,1661.2 L1144.5,1661.0 L1140.3,1660.8 L1136.2,1660.7 L1132.0,1660.5 L1127.8,1660.4 L1123.7,1660.2 L1119.5,1660.1 L1115.3,1660.0 L1111.2,1659.8 L1107.0,1659.7 L1102.8,1659.6 L1098.7,1659.5 L1094.5,1659.4 L1090.3,1659.2 L1086.2,1659.1 L1082.0,1658.9 L1077.8,1658.8 L1073.7,1658.7 L1069.5,1658.5 L1065.3,1658.4 L1061.2,1658.3 L1057.0,1658.1 L1052.8,1658.0 L1048.7,1657.9 L1044.5,1657.8 L1040.3,1657.7 L1036.2,1657.6 L1032.0,1657.6 L1027.8,1657.5 L1023.7,1657.5 L1019.5,1657.4 L1015.3,1657.4 L1011.2,1657.4 L1007.0,1657.4 L1002.9,1657.4 L998.7,1657.4 L994.5,1657.4 L990.4,1657.4 L986.2,1657.4 L982.0,1657.4 L977.9,1657.4 L973.7,1657.5 L969.5,1657.5 L965.4,1657.5 L961.2,1657.5 L957.0,1657.5 L952.9,1657.5 L948.7,1657.5 L944.5,1657.5 L940.4,1657.5 L936.2,1657.5 L932.0,1657.5 L927.9,1657.6 L923.7,1657.6 L919.5,1657.6 L915.4,1657.6 L911.2,1657.6 L907.0,1657.6 L902.9,1657.6 L898.7,1657.6 L894.5,1657.6 L890.4,1657.6 L886.2,1657.6 L882.1,1657.7 L877.9,1657.7 L873.7,1657.7 L869.6,1657.7 L865.4,1657.7 L861.2,1657.7 L857.1,1657.7 L852.9,1657.7 L848.7,1657.7 L844.6,1657.7 L840.4,1657.7 L836.2,1657.7 L832.1,1657.7 L827.9,1657.7 Z" fill="#e8a9a3" fill-opacity="0.5" stroke="#000" stroke-width="2.9" stroke-linejoin="round"/>
<path d="M827.9,1663.5 L832.1,1663.6 L836.2,1664.1 L840.4,1664.8 L844.6,1665.8 L848.7,1667.0 L852.9,1668.3 L857.1,1669.6 L861.2,1670.9 L865.4,1672.2 L869.6,1673.3 L873.7,1674.3 L877.9,1675.2 L882.1,1675.9 L886.2,1676.5 L890.4,1677.0 L894.5,1677.3 L898.7,1677.5 L902.9,1677.6 L907.0,1677.7 L911.2,1677.6 L915.4,1677.4 L919.5,1677.2 L923.7,1676.8 L927.9,1676.4 L932.0,1676.0 L936.2,1675.6 L940.4,1675.2 L944.5,1674.8 L948.7,1674.6 L952.9,1674.5 L957.0,1674.6 L961.2,1674.8 L965.4,1675.2 L969.5,1675.6 L973.7,1676.0 L977.9,1676.5 L982.0,1676.9 L986.2,1677.3 L990.4,1677.5 L994.5,1677.8 L998.7,1677.9 L1002.9,1678.1 L1007.0,1678.1 L1011.2,1678.2 L1015.3,1678.2 L1019.5,1678.2 L1023.7,1678.1 L1027.8,1678.0 L1032.0,1677.9 L1036.2,1677.7 L1040.3,1677.4 L1044.5,1677.1 L1048.7,1676.6 L1052.8,1676.1 L1057.0,1675.6 L1061.2,1675.1 L1065.3,1674.6 L1069.5,1674.2 L1073.7,1673.9 L1077.8,1673.8 L1082.0,1673.9 L1086.2,1674.1 L1090.3,1674.5 L1094.5,1675.0 L1098.7,1675.6 L1102.8,1676.1 L1107.0,1676.6 L1111.2,1677.0 L1115.3,1677.4 L1119.5,1677.7 L1123.7,1677.9 L1127.8,1678.0 L1132.0,1678.1 L1136.2,1678.2 L1140.3,1678.2 L1144.5,1678.2 L1148.6,1678.2 L1152.8,1678.1 L1157.0,1678.0 L1161.1,1677.9 L1165.3,1677.6 L1169.5,1677.3 L1173.6,1676.9 L1177.8,1676.4 L1182.0,1675.9 L1186.1,1675.3 L1190.3,1674.7 L1194.5,1674.2 L1198.6,1673.9 L1202.8,1673.8 L1202.8,1682.7 L1198.6,1682.6 L1194.5,1682.3 L1190.3,1681.8 L1186.1,1681.2 L1182.0,1680.6 L1177.8,1680.1 L1173.6,1679.6 L1169.5,1679.2 L1165.3,1678.9 L1161.1,1678.6 L1157.0,1678.5 L1152.8,1678.4 L1148.6,1678.3 L1144.5,1678.3 L1140.3,1678.3 L1136.2,1678.3 L1132.0,1678.4 L1127.8,1678.5 L1123.7,1678.6 L1119.5,1678.8 L1115.3,1679.1 L1111.2,1679.5 L1107.0,1679.9 L1102.8,1680.4 L1098.7,1680.9 L1094.5,1681.5 L1090.3,1682.0 L1086.2,1682.4 L1082.0,1682.6 L1077.8,1682.7 L1073.7,1682.6 L1069.5,1682.3 L1065.3,1681.9 L1061.2,1681.4 L1057.0,1680.9 L1052.8,1680.4 L1048.7,1679.9 L1044.5,1679.4 L1040.3,1679.1 L1036.2,1678.8 L1032.0,1678.6 L1027.8,1678.5 L1023.7,1678.4 L1019.5,1678.3 L1015.3,1678.3 L1011.2,1678.3 L1007.0,1678.4 L1002.9,1678.4 L998.7,1678.6 L994.5,1678.7 L990.4,1679.0 L986.2,1679.2 L982.0,1679.6 L977.9,1680.0 L973.7,1680.5 L969.5,1680.9 L965.4,1681.3 L961.2,1681.7 L957.0,1681.9 L952.9,1682.0 L948.7,1681.9 L944.5,1681.7 L940.4,1681.3 L936.2,1680.9 L932.0,1680.5 L927.9,1680.1 L923.7,1679.7 L919.5,1679.3 L915.4,1679.1 L911.2,1678.9 L907.0,1678.8 L902.9,1678.9 L898.7,1679.0 L894.5,1679.2 L890.4,1679.5 L886.2,1680.0 L882.1,1680.6 L877.9,1681.3 L873.7,1682.2 L869.6,1683.2 L865.4,1684.3 L861.2,1685.6 L857.1,1686.9 L852.9,1688.2 L848.7,1689.5 L844.6,1690.7 L840.4,1691.7 L836.2,1692.4 L832.1,1692.9 L827.9,1693.0 Z" fill="#9cbcd8" fill-opacity="0.5" stroke="#000" stroke-width="2.9" stroke-linejoin="round"/>
<path d="M1077.58,1637.45 L1087.78,1647.65 L1077.58,1657.85 L1067.38,1647.65 Z" fill="#d13c13"/>
<path d="M827.90,1668.05 L838.10,1678.25 L827.90,1688.45 L817.70,1678.25 Z" fill="#d13c13"/>
<line x1="808.6" y1="673.3" x2="808.6" y2="1028.7" stroke="#000" stroke-width="3"/>
<line x1="800.6" y1="714.3" x2="808.6" y2="714.3" stroke="#333" stroke-width="2.8"/>
<line x1="800.6" y1="782.6" x2="808.6" y2="782.6" stroke="#333" stroke-width="2.8"/>
<line x1="800.6" y1="851.0" x2="808.6" y2="851.0" stroke="#333" stroke-width="2.8"/>
<line x1="800.6" y1="919.4" x2="808.6" y2="919.4" stroke="#333" stroke-width="2.8"/>
<line x1="800.6" y1="987.7" x2="808.6" y2="987.7" stroke="#333" stroke-width="2.8"/>
<rect x="1223.0" y="674.7" width="43.8" height="352.6" fill="#f2f2f2" stroke="#c9c9c9" stroke-width="2.8"/>
<text transform="translate(1236.4,851.0) rotate(90)" text-anchor="middle" font-size="23.5" fill="#1a1a1a">pre-CoV</text>
<line x1="808.6" y1="1045.1" x2="808.6" y2="1263.8" stroke="#000" stroke-width="3"/>
<line x1="800.6" y1="1086.1" x2="808.6" y2="1086.1" stroke="#333" stroke-width="2.8"/>
<line x1="800.6" y1="1154.5" x2="808.6" y2="1154.5" stroke="#333" stroke-width="2.8"/>
<line x1="800.6" y1="1222.8" x2="808.6" y2="1222.8" stroke="#333" stroke-width="2.8"/>
<rect x="1223.0" y="1046.5" width="43.8" height="215.9" fill="#f2f2f2" stroke="#c9c9c9" stroke-width="2.8"/>
<text transform="translate(1236.4,1154.4) rotate(90)" text-anchor="middle" font-size="23.5" fill="#1a1a1a">mental</text>
<line x1="808.6" y1="1280.2" x2="808.6" y2="1704.0" stroke="#000" stroke-width="3"/>
<line x1="800.6" y1="1321.2" x2="808.6" y2="1321.2" stroke="#333" stroke-width="2.8"/>
<line x1="800.6" y1="1389.5" x2="808.6" y2="1389.5" stroke="#333" stroke-width="2.8"/>
<line x1="800.6" y1="1457.9" x2="808.6" y2="1457.9" stroke="#333" stroke-width="2.8"/>
<line x1="800.6" y1="1526.2" x2="808.6" y2="1526.2" stroke="#333" stroke-width="2.8"/>
<line x1="800.6" y1="1594.6" x2="808.6" y2="1594.6" stroke="#333" stroke-width="2.8"/>
<line x1="800.6" y1="1663.0" x2="808.6" y2="1663.0" stroke="#333" stroke-width="2.8"/>
<rect x="1223.0" y="1281.6" width="43.8" height="421.0" fill="#f2f2f2" stroke="#c9c9c9" stroke-width="2.8"/>
<text transform="translate(1236.4,1492.1) rotate(90)" text-anchor="middle" font-size="23.5" fill="#1a1a1a">symptoms</text>
<line x1="807.1" y1="1704" x2="1221.6" y2="1704" stroke="#000" stroke-width="3"/>
<line x1="827.9" y1="1704" x2="827.9" y2="1712.5" stroke="#333" stroke-width="2.8"/>
<text x="827.9" y="1735.0" text-anchor="middle" font-size="23.2" font-weight="normal" >0.00</text>
<line x1="921.6" y1="1704" x2="921.6" y2="1712.5" stroke="#333" stroke-width="2.8"/>
<text x="921.6" y="1735.0" text-anchor="middle" font-size="23.2" font-weight="normal" >0.25</text>
<line x1="1015.3" y1="1704" x2="1015.3" y2="1712.5" stroke="#333" stroke-width="2.8"/>
<text x="1015.3" y="1735.0" text-anchor="middle" font-size="23.2" font-weight="normal" >0.50</text>
<line x1="1109.1" y1="1704" x2="1109.1" y2="1712.5" stroke="#333" stroke-width="2.8"/>
<text x="1109.1" y="1735.0" text-anchor="middle" font-size="23.2" font-weight="normal" >0.75</text>
<line x1="1202.8" y1="1704" x2="1202.8" y2="1712.5" stroke="#333" stroke-width="2.8"/>
<text x="1202.8" y="1735.0" text-anchor="middle" font-size="23.2" font-weight="normal" >1.00</text>
<text x="1015.9" y="1764.6" text-anchor="middle" font-size="23.3" font-weight="normal" >Quantity, 0: min/absent, 1: max/present</text>
<text x="1.3" y="652.3" text-anchor="start" font-size="24.5" font-weight="bold" >B</text>
<text x="262.3" y="652.3" text-anchor="start" font-size="24.5" font-weight="bold" >AT</text>
<text x="808.3" y="652.3" text-anchor="start" font-size="24.5" font-weight="bold" >IT</text>
<rect x="1323.5" y="1150" width="47.6" height="46.9" fill="#9cbcd8" fill-opacity="0.5" stroke="#000" stroke-width="2.8"/>
<rect x="1323.5" y="1200.9" width="47.6" height="46.8" fill="#e8a9a3" fill-opacity="0.5" stroke="#000" stroke-width="2.8"/>
<text x="1384.6" y="1182.0" text-anchor="start" font-size="23.8" font-weight="normal" >DA-</text>
<text x="1384.6" y="1232.0" text-anchor="start" font-size="23.8" font-weight="normal" >DA+</text>
</svg></body></html>
